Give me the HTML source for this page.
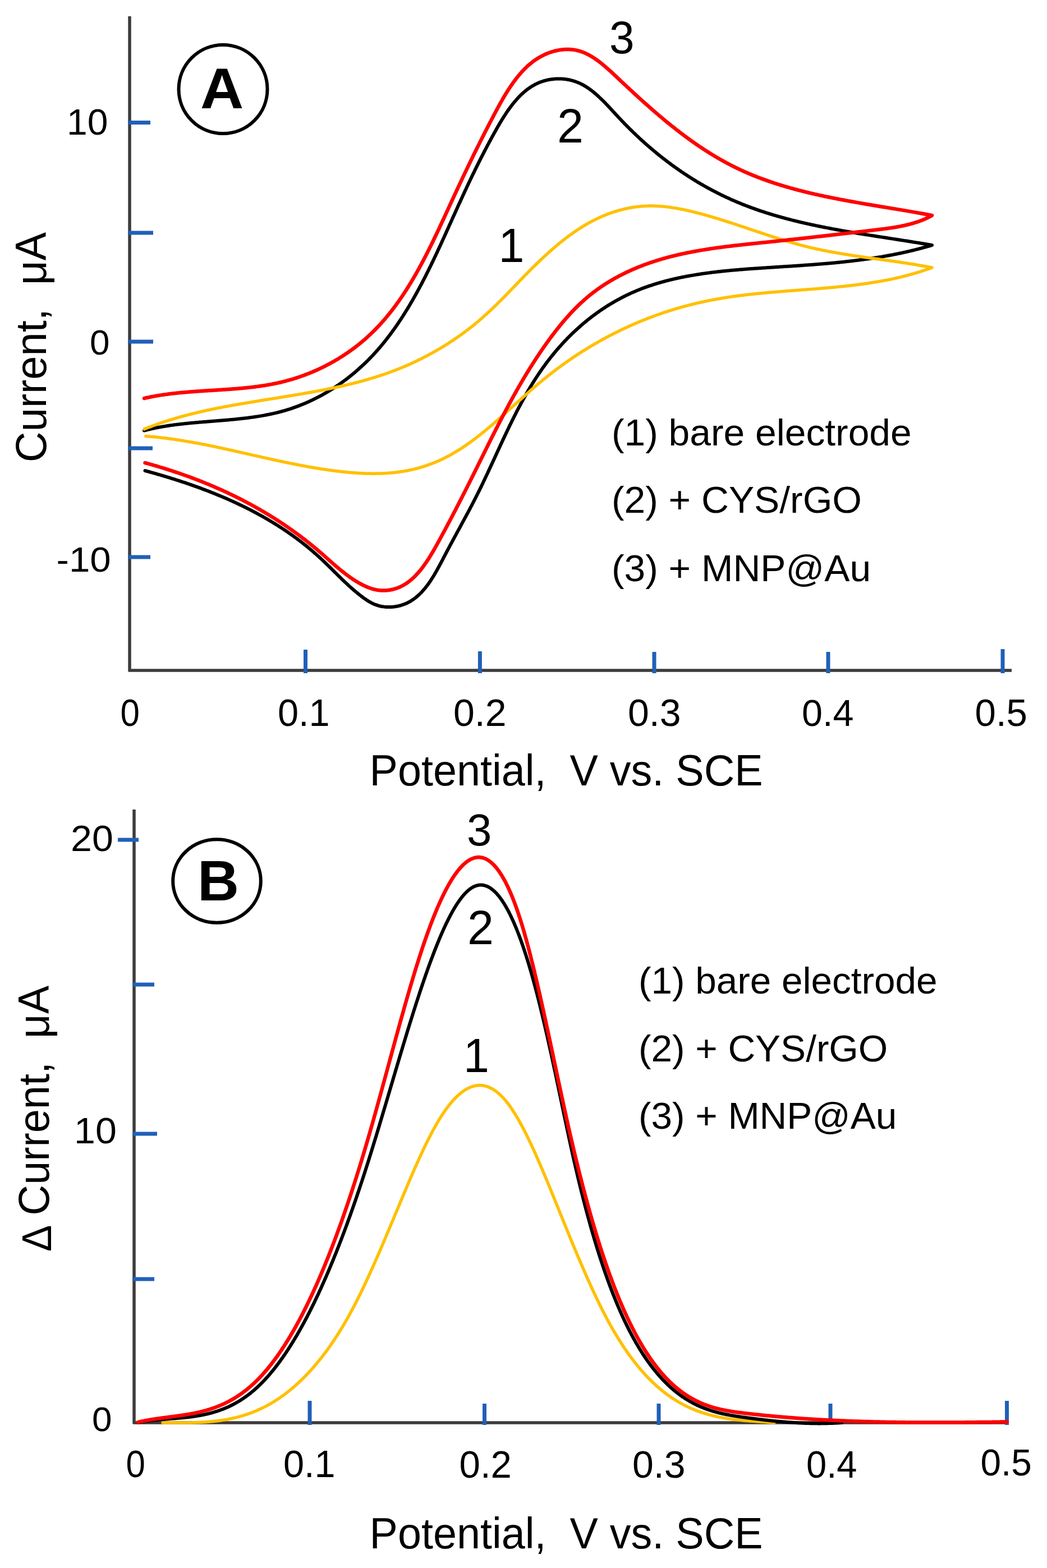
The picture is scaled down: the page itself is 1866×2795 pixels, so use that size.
<!DOCTYPE html>
<html><head><meta charset="utf-8"><title>CV and DPV</title>
<style>html,body{margin:0;padding:0;background:#fff;}svg{display:block;}</style>
</head><body>
<svg width="1866" height="2795" viewBox="0 0 1866 2795">
<rect width="1866" height="2795" fill="#fff"/>
<g stroke="#3c3c3c" stroke-width="5.5" fill="none" stroke-linecap="butt">
<path d="M231,29L231,1197M229,1195L1803,1195"/>
</g>
<g stroke="#2060b8" stroke-width="7" fill="none">
<path d="M228,218.5L268,218.5"/>
<path d="M228,415L273,415"/>
<path d="M228,609L273,609"/>
<path d="M228,799L272,799"/>
<path d="M228,993L268,993"/>
<path d="M544.5,1158L544.5,1200"/>
<path d="M855.4,1161L855.4,1200"/>
<path d="M1166,1162L1166,1200"/>
<path d="M1476,1162L1476,1200"/>
<path d="M1787,1157L1787,1200"/>
</g>
<g stroke="#3c3c3c" stroke-width="5.5" fill="none">
<path d="M239,1443L239,2538M237,2536L1798,2536"/>
</g>
<g stroke="#2060b8" stroke-width="7" fill="none">
<path d="M210,1497L247,1497"/>
<path d="M236,1755L275,1755"/>
<path d="M236,2021L280,2021"/>
<path d="M236,2280L275,2280"/>
<path d="M552,2497L552,2540"/>
<path d="M863.5,2502L863.5,2540"/>
<path d="M1174,2502L1174,2540"/>
<path d="M1480,2502L1480,2540"/>
<path d="M1794.5,2497L1794.5,2540"/>
</g>
<g fill="none" stroke-linejoin="round" stroke-linecap="round">
<path d="M257.0,767.5L258.4,767.1L259.8,766.8L261.3,766.4L262.7,766.1L264.1,765.7L265.5,765.4L267.0,765.0L268.4,764.7L269.8,764.4L271.3,764.1L272.7,763.8L274.1,763.5L275.6,763.1L277.0,762.9L278.5,762.6L279.9,762.3L281.4,762.0L282.8,761.7L284.3,761.4L285.7,761.2L287.2,760.9L288.6,760.7L290.1,760.4L291.6,760.2L293.0,759.9L294.5,759.7L296.0,759.4L297.4,759.2L298.9,759.0L300.4,758.8L301.9,758.5L303.3,758.3L304.8,758.1L306.3,757.9L307.8,757.7L309.3,757.5L310.7,757.3L312.2,757.1L313.7,756.9L315.2,756.7L316.7,756.6L318.2,756.4L319.7,756.2L321.2,756.0L322.7,755.9L324.2,755.7L325.7,755.5L327.2,755.4L328.7,755.2L330.2,755.0L331.7,754.9L333.2,754.7L334.7,754.6L336.2,754.4L337.7,754.3L339.2,754.1L340.7,754.0L342.2,753.8L343.7,753.7L345.3,753.6L346.8,753.4L348.3,753.3L349.8,753.2L351.3,753.0L352.8,752.9L354.3,752.8L355.9,752.6L357.4,752.5L358.9,752.4L360.4,752.3L361.9,752.1L363.5,752.0L365.0,751.9L366.5,751.8L368.0,751.7L369.5,751.5L371.1,751.4L372.6,751.3L374.1,751.2L375.6,751.0L377.2,750.9L378.7,750.8L380.2,750.7L381.7,750.6L383.2,750.4L384.8,750.3L386.3,750.2L387.8,750.1L389.3,750.0L390.9,749.8L392.4,749.7L393.9,749.6L395.4,749.5L397.0,749.3L398.5,749.2L400.0,749.1L401.5,748.9L403.1,748.8L404.6,748.7L406.1,748.5L407.6,748.4L409.1,748.3L410.7,748.1L412.2,748.0L413.7,747.9L415.2,747.7L416.7,747.6L418.3,747.4L419.8,747.3L421.3,747.1L422.8,747.0L424.3,746.8L425.8,746.6L427.4,746.5L428.9,746.3L430.4,746.1L431.9,746.0L433.4,745.8L434.9,745.6L436.4,745.5L437.9,745.3L439.4,745.1L441.0,744.9L442.5,744.7L444.0,744.5L445.5,744.3L447.0,744.1L448.5,743.9L450.0,743.7L451.5,743.5L453.0,743.3L454.5,743.1L456.0,742.8L457.5,742.6L458.9,742.4L460.4,742.1L461.9,741.9L463.4,741.6L464.9,741.4L466.4,741.1L467.9,740.9L469.4,740.6L470.8,740.4L472.3,740.1L473.8,739.8L475.3,739.5L476.7,739.2L478.2,738.9L479.7,738.6L481.2,738.3L482.6,738.0L484.1,737.7L485.6,737.4L487.0,737.1L488.5,736.7L489.9,736.4L491.4,736.1L492.9,735.7L494.3,735.4L495.8,735.0L497.2,734.6L498.7,734.2L500.1,733.9L501.5,733.5L503.0,733.1L504.4,732.7L505.9,732.3L507.3,731.9L508.7,731.5L510.1,731.0L511.6,730.6L513.0,730.2L514.4,729.7L515.8,729.3L517.3,728.8L518.7,728.3L520.1,727.9L521.5,727.4L522.9,726.9L524.3,726.4L525.7,725.9L527.1,725.4L528.5,724.9L529.9,724.4L531.3,723.9L532.7,723.3L534.1,722.8L535.4,722.2L536.8,721.7L538.2,721.1L539.6,720.6L541.0,720.0L542.3,719.4L543.7,718.9L545.1,718.3L546.4,717.7L547.8,717.1L549.1,716.5L550.5,715.9L551.9,715.2L553.2,714.6L554.6,714.0L555.9,713.4L557.2,712.7L558.6,712.1L559.9,711.4L561.2,710.8L562.6,710.1L563.9,709.4L565.2,708.7L566.5,708.1L567.9,707.4L569.2,706.7L570.5,706.0L571.8,705.3L573.1,704.6L574.4,703.9L575.7,703.1L577.0,702.4L578.3,701.7L579.6,700.9L580.9,700.2L582.2,699.4L583.4,698.7L584.7,697.9L586.0,697.2L587.3,696.4L588.5,695.6L589.8,694.8L591.1,694.0L592.3,693.2L593.6,692.4L594.8,691.6L596.1,690.8L597.3,690.0L598.6,689.2L599.8,688.4L601.0,687.5L602.3,686.7L603.5,685.9L604.7,685.0L605.9,684.2L607.2,683.3L608.4,682.4L609.6,681.6L610.8,680.7L612.0,679.8L613.2,678.9L614.4,678.1L615.6,677.2L616.8,676.3L618.0,675.4L619.1,674.5L620.3,673.6L621.5,672.6L622.7,671.7L623.8,670.8L625.0,669.9L626.2,668.9L627.3,668.0L628.5,667.0L629.6,666.1L630.8,665.1L631.9,664.2L633.0,663.2L634.2,662.2L635.3,661.3L636.4,660.3L637.6,659.3L638.7,658.3L639.8,657.3L640.9,656.3L642.0,655.3L643.1,654.3L644.2,653.3L645.3,652.3L646.4,651.3L647.5,650.3L648.6,649.3L649.7,648.2L650.7,647.2L651.8,646.2L652.9,645.1L653.9,644.1L655.0,643.0L656.0,642.0L657.1,640.9L658.1,639.8L659.2,638.8L660.2,637.7L661.3,636.6L662.3,635.5L663.3,634.5L664.3,633.4L665.4,632.3L666.4,631.2L667.4,630.1L668.4,629.0L669.4,627.9L670.4,626.8L671.4,625.7L672.4,624.5L673.4,623.4L674.3,622.3L675.3,621.2L676.3,620.0L677.3,618.9L678.2,617.8L679.2,616.6L680.2,615.5L681.1,614.3L682.1,613.2L683.0,612.0L684.0,610.8L684.9,609.7L685.8,608.5L686.8,607.3L687.7,606.2L688.6,605.0L689.6,603.8L690.5,602.6L691.4,601.4L692.3,600.2L693.2,599.1L694.1,597.9L695.0,596.7L695.9,595.5L696.8,594.2L697.7,593.0L698.6,591.8L699.5,590.6L700.4,589.4L701.2,588.2L702.1,587.0L703.0,585.7L703.9,584.5L704.7,583.3L705.6,582.0L706.5,580.8L707.3,579.6L708.2,578.3L709.0,577.1L709.9,575.8L710.7,574.6L711.5,573.3L712.4,572.1L713.2,570.8L714.1,569.5L714.9,568.3L715.7,567.0L716.5,565.7L717.4,564.5L718.2,563.2L719.0,561.9L719.8,560.7L720.6,559.4L721.4,558.1L722.2,556.8L723.0,555.5L723.8,554.2L724.6,552.9L725.4,551.7L726.2,550.4L727.0,549.1L727.8,547.8L728.5,546.5L729.3,545.2L730.1,543.9L730.9,542.5L731.6,541.2L732.4,539.9L733.2,538.6L733.9,537.3L734.7,536.0L735.5,534.7L736.2,533.4L737.0,532.0L737.7,530.7L738.5,529.4L739.2,528.1L740.0,526.7L740.7,525.4L741.5,524.1L742.2,522.7L742.9,521.4L743.7,520.1L744.4,518.7L745.1,517.4L745.8,516.1L746.6,514.7L747.3,513.4L748.0,512.0L748.7,510.7L749.4,509.3L750.2,508.0L750.9,506.7L751.6,505.3L752.3,504.0L753.0,502.6L753.7,501.2L754.4,499.9L755.1,498.5L755.8,497.2L756.5,495.8L757.2,494.5L757.9,493.1L758.6,491.8L759.3,490.4L759.9,489.0L760.6,487.7L761.3,486.3L762.0,484.9L762.7,483.6L763.4,482.2L764.0,480.9L764.7,479.5L765.4,478.1L766.0,476.8L766.7,475.4L767.4,474.0L768.1,472.6L768.7,471.3L769.4,469.9L770.0,468.5L770.7,467.2L771.4,465.8L772.0,464.4L772.7,463.1L773.3,461.7L774.0,460.3L774.6,458.9L775.3,457.6L775.9,456.2L776.6,454.8L777.2,453.4L777.9,452.1L778.5,450.7L779.2,449.3L779.8,448.0L780.4,446.6L781.1,445.2L781.7,443.8L782.4,442.5L783.0,441.1L783.6,439.7L784.3,438.3L784.9,437.0L785.5,435.6L786.2,434.2L786.8,432.9L787.4,431.5L788.0,430.1L788.7,428.7L789.3,427.4L789.9,426.0L790.5,424.6L791.2,423.3L791.8,421.9L792.4,420.5L793.0,419.2L793.7,417.8L794.3,416.4L794.9,415.1L795.5,413.7L796.1,412.3L796.7,411.0L797.4,409.6L798.0,408.2L798.6,406.9L799.2,405.5L799.8,404.2L800.4,402.8L801.0,401.4L801.6,400.1L802.3,398.7L802.9,397.4L803.5,396.0L804.1,394.7L804.7,393.3L805.3,392.0L805.9,390.6L806.5,389.3L807.1,387.9L807.7,386.6L808.3,385.2L808.9,383.9L809.6,382.5L810.2,381.2L810.8,379.9L811.4,378.5L812.0,377.2L812.6,375.8L813.2,374.5L813.8,373.2L814.4,371.8L815.0,370.5L815.6,369.2L816.2,367.8L816.8,366.5L817.4,365.2L818.0,363.8L818.6,362.5L819.3,361.2L819.9,359.8L820.5,358.5L821.1,357.2L821.7,355.9L822.3,354.5L822.9,353.2L823.5,351.9L824.1,350.5L824.7,349.2L825.3,347.9L826.0,346.6L826.6,345.2L827.2,343.9L827.8,342.6L828.4,341.3L829.0,339.9L829.6,338.6L830.3,337.3L830.9,336.0L831.5,334.6L832.1,333.3L832.7,332.0L833.4,330.7L834.0,329.3L834.6,328.0L835.2,326.7L835.9,325.4L836.5,324.1L837.1,322.7L837.7,321.4L838.4,320.1L839.0,318.8L839.6,317.4L840.3,316.1L840.9,314.8L841.5,313.5L842.2,312.1L842.8,310.8L843.5,309.5L844.1,308.2L844.8,306.8L845.4,305.5L846.1,304.2L846.7,302.8L847.4,301.5L848.0,300.2L848.7,298.9L849.3,297.5L850.0,296.2L850.6,294.9L851.3,293.5L852.0,292.2L852.6,290.9L853.3,289.5L854.0,288.2L854.6,286.9L855.3,285.5L856.0,284.2L856.7,282.9L857.3,281.5L858.0,280.2L858.7,278.8L859.4,277.5L860.1,276.2L860.8,274.8L861.5,273.5L862.2,272.1L862.8,270.8L863.5,269.4L864.3,268.1L865.0,266.7L865.7,265.4L866.4,264.0L867.1,262.7L867.8,261.3L868.5,260.0L869.2,258.6L870.0,257.2L870.7,255.9L871.4,254.5L872.1,253.2L872.9,251.8L873.6,250.4L874.4,249.1L875.1,247.7L875.8,246.3L876.6,245.0L877.3,243.6L878.1,242.2L878.8,240.8L879.6,239.5L880.4,238.1L881.1,236.7L881.9,235.3L882.7,233.9L883.5,232.5L884.2,231.2L885.0,229.8L885.8,228.4L886.6,227.0L887.4,225.6L888.2,224.2L889.0,222.9L889.8,221.5L890.6,220.1L891.4,218.7L892.2,217.4L893.1,216.0L893.9,214.6L894.7,213.3L895.6,211.9L896.4,210.6L897.3,209.2L898.1,207.9L899.0,206.5L899.8,205.2L900.7,203.9L901.6,202.5L902.5,201.2L903.3,199.9L904.2,198.6L905.1,197.3L906.0,196.0L906.9,194.7L907.9,193.4L908.8,192.2L909.7,190.9L910.6,189.7L911.6,188.4L912.5,187.2L913.5,186.0L914.4,184.8L915.4,183.6L916.4,182.4L917.4,181.2L918.4,180.0L919.4,178.9L920.4,177.7L921.4,176.6L922.4,175.5L923.4,174.4L924.4,173.3L925.5,172.2L926.5,171.1L927.6,170.0L928.7,169.0L929.7,168.0L930.8,167.0L931.9,166.0L933.0,165.0L934.1,164.0L935.2,163.1L936.4,162.1L937.5,161.2L938.6,160.3L939.8,159.4L940.9,158.6L942.1,157.7L943.3,156.9L944.5,156.1L945.7,155.3L946.9,154.5L948.1,153.7L949.3,153.0L950.6,152.3L951.8,151.6L953.1,150.9L954.3,150.2L955.6,149.6L956.9,149.0L958.2,148.4L959.5,147.8L960.8,147.3L962.1,146.7L963.5,146.2L964.8,145.7L966.2,145.3L967.5,144.8L968.9,144.4L970.3,144.0L971.6,143.6L973.0,143.3L974.4,142.9L975.8,142.6L977.2,142.3L978.6,142.0L980.0,141.8L981.4,141.6L982.8,141.3L984.3,141.2L985.7,141.0L987.1,140.9L988.5,140.7L990.0,140.6L991.4,140.5L992.8,140.5L994.2,140.5L995.7,140.4L997.1,140.5L998.5,140.5L1000.0,140.5L1001.4,140.6L1002.8,140.7L1004.2,140.8L1005.7,141.0L1007.1,141.1L1008.5,141.3L1009.9,141.5L1011.3,141.7L1012.7,142.0L1014.1,142.3L1015.5,142.5L1016.9,142.9L1018.3,143.2L1019.6,143.6L1021.0,143.9L1022.3,144.3L1023.7,144.8L1025.0,145.2L1026.4,145.7L1027.7,146.2L1029.0,146.7L1030.3,147.2L1031.6,147.8L1032.9,148.3L1034.2,148.9L1035.5,149.6L1036.7,150.2L1038.0,150.8L1039.3,151.5L1040.5,152.2L1041.7,152.9L1043.0,153.7L1044.2,154.4L1045.4,155.2L1046.6,156.0L1047.8,156.8L1049.0,157.6L1050.2,158.4L1051.4,159.3L1052.5,160.1L1053.7,161.0L1054.9,161.9L1056.0,162.8L1057.2,163.7L1058.3,164.6L1059.5,165.6L1060.6,166.5L1061.7,167.5L1062.9,168.5L1064.0,169.5L1065.1,170.5L1066.2,171.5L1067.3,172.5L1068.4,173.6L1069.5,174.6L1070.6,175.7L1071.7,176.7L1072.8,177.8L1073.9,178.9L1075.0,179.9L1076.1,181.0L1077.2,182.1L1078.2,183.2L1079.3,184.3L1080.4,185.5L1081.5,186.6L1082.5,187.7L1083.6,188.8L1084.7,190.0L1085.7,191.1L1086.8,192.2L1087.9,193.4L1088.9,194.5L1090.0,195.7L1091.0,196.8L1092.1,198.0L1093.2,199.1L1094.2,200.3L1095.3,201.4L1096.4,202.6L1097.4,203.8L1098.5,204.9L1099.5,206.1L1100.6,207.2L1101.7,208.4L1102.7,209.5L1103.8,210.6L1104.9,211.8L1106.0,212.9L1107.0,214.0L1108.1,215.2L1109.2,216.3L1110.3,217.4L1111.4,218.5L1112.4,219.7L1113.5,220.8L1114.6,221.9L1115.7,223.0L1116.8,224.1L1117.9,225.2L1119.0,226.3L1120.1,227.4L1121.2,228.5L1122.3,229.6L1123.3,230.7L1124.5,231.8L1125.6,232.8L1126.7,233.9L1127.8,235.0L1128.9,236.1L1130.0,237.1L1131.1,238.2L1132.2,239.3L1133.3,240.3L1134.4,241.4L1135.5,242.4L1136.7,243.5L1137.8,244.5L1138.9,245.6L1140.0,246.6L1141.2,247.7L1142.3,248.7L1143.4,249.7L1144.5,250.8L1145.7,251.8L1146.8,252.8L1147.9,253.8L1149.1,254.8L1150.2,255.9L1151.4,256.9L1152.5,257.9L1153.6,258.9L1154.8,259.9L1155.9,260.9L1157.1,261.9L1158.2,262.9L1159.4,263.9L1160.5,264.8L1161.7,265.8L1162.9,266.8L1164.0,267.8L1165.2,268.8L1166.3,269.7L1167.5,270.7L1168.7,271.6L1169.8,272.6L1171.0,273.6L1172.2,274.5L1173.3,275.5L1174.5,276.4L1175.7,277.4L1176.9,278.3L1178.0,279.2L1179.2,280.2L1180.4,281.1L1181.6,282.0L1182.8,283.0L1184.0,283.9L1185.2,284.8L1186.3,285.7L1187.5,286.6L1188.7,287.5L1189.9,288.4L1191.1,289.3L1192.3,290.2L1193.5,291.1L1194.7,292.0L1195.9,292.9L1197.1,293.8L1198.3,294.7L1199.5,295.6L1200.8,296.4L1202.0,297.3L1203.2,298.2L1204.4,299.0L1205.6,299.9L1206.8,300.8L1208.1,301.6L1209.3,302.5L1210.5,303.3L1211.7,304.2L1213.0,305.0L1214.2,305.9L1215.4,306.7L1216.7,307.5L1217.9,308.4L1219.1,309.2L1220.4,310.0L1221.6,310.8L1222.8,311.6L1224.1,312.5L1225.3,313.3L1226.6,314.1L1227.8,314.9L1229.1,315.7L1230.3,316.5L1231.6,317.3L1232.8,318.1L1234.1,318.8L1235.4,319.6L1236.6,320.4L1237.9,321.2L1239.1,322.0L1240.4,322.7L1241.7,323.5L1242.9,324.3L1244.2,325.0L1245.5,325.8L1246.8,326.5L1248.0,327.3L1249.3,328.0L1250.6,328.8L1251.9,329.5L1253.2,330.2L1254.5,331.0L1255.7,331.7L1257.0,332.4L1258.3,333.1L1259.6,333.9L1260.9,334.6L1262.2,335.3L1263.5,336.0L1264.8,336.7L1266.1,337.4L1267.4,338.1L1268.7,338.8L1270.0,339.5L1271.3,340.2L1272.6,340.9L1273.9,341.5L1275.3,342.2L1276.6,342.9L1277.9,343.6L1279.2,344.2L1280.5,344.9L1281.8,345.6L1283.2,346.2L1284.5,346.9L1285.8,347.5L1287.2,348.2L1288.5,348.8L1289.8,349.5L1291.2,350.1L1292.5,350.7L1293.8,351.4L1295.2,352.0L1296.5,352.6L1297.9,353.2L1299.2,353.8L1300.5,354.4L1301.9,355.1L1303.2,355.7L1304.6,356.3L1306.0,356.9L1307.3,357.4L1308.7,358.0L1310.0,358.6L1311.4,359.2L1312.7,359.8L1314.1,360.4L1315.5,360.9L1316.9,361.5L1318.2,362.1L1319.6,362.6L1321.0,363.2L1322.3,363.8L1323.7,364.3L1325.1,364.8L1326.5,365.4L1327.9,365.9L1329.2,366.5L1330.6,367.0L1332.0,367.5L1333.4,368.1L1334.8,368.6L1336.2,369.1L1337.6,369.6L1339.0,370.1L1340.4,370.7L1341.8,371.2L1343.2,371.7L1344.6,372.2L1346.0,372.7L1347.4,373.2L1348.8,373.7L1350.2,374.1L1351.6,374.6L1353.0,375.1L1354.5,375.6L1355.9,376.1L1357.3,376.5L1358.7,377.0L1360.1,377.5L1361.5,377.9L1363.0,378.4L1364.4,378.9L1365.8,379.3L1367.2,379.8L1368.7,380.2L1370.1,380.7L1371.5,381.1L1373.0,381.5L1374.4,382.0L1375.8,382.4L1377.3,382.8L1378.7,383.3L1380.1,383.7L1381.6,384.1L1383.0,384.5L1384.5,385.0L1385.9,385.4L1387.3,385.8L1388.8,386.2L1390.2,386.6L1391.7,387.0L1393.1,387.4L1394.6,387.8L1396.0,388.2L1397.5,388.6L1398.9,389.0L1400.4,389.4L1401.8,389.8L1403.3,390.2L1404.8,390.5L1406.2,390.9L1407.7,391.3L1409.1,391.7L1410.6,392.1L1412.1,392.4L1413.5,392.8L1415.0,393.2L1416.5,393.5L1417.9,393.9L1419.4,394.2L1420.9,394.6L1422.3,395.0L1423.8,395.3L1425.3,395.7L1426.7,396.0L1428.2,396.4L1429.7,396.7L1431.2,397.0L1432.6,397.4L1434.1,397.7L1435.6,398.1L1437.1,398.4L1438.5,398.7L1440.0,399.1L1441.5,399.4L1443.0,399.7L1444.5,400.0L1445.9,400.4L1447.4,400.7L1448.9,401.0L1450.4,401.3L1451.9,401.6L1453.3,401.9L1454.8,402.3L1456.3,402.6L1457.8,402.9L1459.3,403.2L1460.8,403.5L1462.3,403.8L1463.8,404.1L1465.2,404.4L1466.7,404.7L1468.2,405.0L1469.7,405.3L1471.2,405.6L1472.7,405.9L1474.2,406.1L1475.7,406.4L1477.2,406.7L1478.7,407.0L1480.2,407.3L1481.6,407.6L1483.1,407.9L1484.6,408.1L1486.1,408.4L1487.6,408.7L1489.1,409.0L1490.6,409.2L1492.1,409.5L1493.6,409.8L1495.1,410.1L1496.6,410.3L1498.1,410.6L1499.6,410.9L1501.1,411.1L1502.6,411.4L1504.1,411.7L1505.6,411.9L1507.1,412.2L1508.6,412.4L1510.1,412.7L1511.6,413.0L1513.1,413.2L1514.6,413.5L1516.1,413.7L1517.6,414.0L1519.1,414.2L1520.5,414.5L1522.0,414.7L1523.5,415.0L1525.0,415.2L1526.5,415.5L1528.0,415.7L1529.5,416.0L1531.0,416.2L1532.5,416.5L1534.0,416.7L1535.5,417.0L1537.0,417.2L1538.5,417.4L1540.0,417.7L1541.5,417.9L1543.0,418.2L1544.5,418.4L1546.0,418.6L1547.5,418.9L1549.0,419.1L1550.5,419.4L1552.0,419.6L1553.5,419.8L1555.0,420.1L1556.5,420.3L1558.0,420.5L1559.5,420.8L1560.9,421.0L1562.4,421.2L1563.9,421.5L1565.4,421.7L1566.9,421.9L1568.4,422.2L1569.9,422.4L1571.4,422.6L1572.9,422.9L1574.4,423.1L1575.9,423.3L1577.3,423.6L1578.8,423.8L1580.3,424.0L1581.8,424.3L1583.3,424.5L1584.8,424.7L1586.3,424.9L1587.8,425.2L1589.2,425.4L1590.7,425.6L1592.2,425.9L1593.7,426.1L1595.2,426.3L1596.7,426.6L1598.1,426.8L1599.6,427.0L1601.1,427.2L1602.6,427.5L1604.0,427.7L1605.5,427.9L1607.0,428.2L1608.5,428.4L1610.0,428.6L1611.4,428.9L1612.9,429.1L1614.4,429.3L1615.8,429.5L1617.3,429.8L1618.8,430.0L1620.3,430.2L1621.7,430.5L1623.2,430.7L1624.7,430.9L1626.1,431.2L1627.6,431.4L1629.0,431.7L1630.5,431.9L1632.0,432.1L1633.4,432.4L1634.9,432.6L1636.4,432.8L1637.8,433.1L1639.3,433.3L1640.7,433.6L1642.2,433.8L1643.6,434.0L1645.1,434.3L1646.5,434.5L1648.0,434.8L1649.4,435.0L1650.9,435.2L1652.3,435.5L1653.8,435.7L1655.2,436.0L1656.7,436.2L1658.1,436.5L1659.5,436.7L1661.0,437.0L1659.6,437.5L1658.1,437.9L1656.6,438.3L1655.2,438.8L1653.7,439.2L1652.2,439.6L1650.7,440.0L1649.3,440.4L1647.8,440.8L1646.3,441.2L1644.9,441.6L1643.4,442.0L1641.9,442.4L1640.5,442.8L1639.0,443.2L1637.5,443.6L1636.1,444.0L1634.6,444.3L1633.1,444.7L1631.7,445.1L1630.2,445.4L1628.7,445.8L1627.3,446.2L1625.8,446.5L1624.3,446.9L1622.9,447.2L1621.4,447.6L1619.9,447.9L1618.5,448.3L1617.0,448.6L1615.5,448.9L1614.1,449.3L1612.6,449.6L1611.1,449.9L1609.7,450.2L1608.2,450.6L1606.8,450.9L1605.3,451.2L1603.8,451.5L1602.4,451.8L1600.9,452.1L1599.4,452.4L1598.0,452.7L1596.5,453.0L1595.0,453.3L1593.6,453.6L1592.1,453.9L1590.6,454.2L1589.2,454.4L1587.7,454.7L1586.2,455.0L1584.8,455.3L1583.3,455.5L1581.8,455.8L1580.4,456.1L1578.9,456.3L1577.4,456.6L1576.0,456.8L1574.5,457.1L1573.0,457.4L1571.6,457.6L1570.1,457.9L1568.6,458.1L1567.2,458.3L1565.7,458.6L1564.2,458.8L1562.8,459.1L1561.3,459.3L1559.8,459.5L1558.4,459.8L1556.9,460.0L1555.4,460.2L1554.0,460.4L1552.5,460.6L1551.0,460.9L1549.6,461.1L1548.1,461.3L1546.6,461.5L1545.2,461.7L1543.7,461.9L1542.2,462.1L1540.8,462.3L1539.3,462.5L1537.8,462.7L1536.4,462.9L1534.9,463.1L1533.4,463.3L1532.0,463.5L1530.5,463.7L1529.0,463.9L1527.5,464.1L1526.1,464.2L1524.6,464.4L1523.1,464.6L1521.7,464.8L1520.2,465.0L1518.7,465.1L1517.2,465.3L1515.8,465.5L1514.3,465.6L1512.8,465.8L1511.4,466.0L1509.9,466.1L1508.4,466.3L1506.9,466.5L1505.5,466.6L1504.0,466.8L1502.5,466.9L1501.0,467.1L1499.6,467.2L1498.1,467.4L1496.6,467.5L1495.1,467.7L1493.7,467.8L1492.2,468.0L1490.7,468.1L1489.2,468.3L1487.8,468.4L1486.3,468.5L1484.8,468.7L1483.3,468.8L1481.8,469.0L1480.4,469.1L1478.9,469.2L1477.4,469.4L1475.9,469.5L1474.4,469.6L1473.0,469.7L1471.5,469.9L1470.0,470.0L1468.5,470.1L1467.0,470.2L1465.5,470.4L1464.1,470.5L1462.6,470.6L1461.1,470.7L1459.6,470.8L1458.1,471.0L1456.6,471.1L1455.2,471.2L1453.7,471.3L1452.2,471.4L1450.7,471.5L1449.2,471.7L1447.7,471.8L1446.2,471.9L1444.7,472.0L1443.3,472.1L1441.8,472.2L1440.3,472.3L1438.8,472.4L1437.3,472.5L1435.8,472.6L1434.3,472.7L1432.8,472.8L1431.3,473.0L1429.8,473.1L1428.3,473.2L1426.8,473.3L1425.3,473.4L1423.9,473.5L1422.4,473.6L1420.9,473.7L1419.4,473.8L1417.9,473.9L1416.4,474.0L1414.9,474.1L1413.4,474.2L1411.9,474.3L1410.4,474.4L1408.9,474.5L1407.4,474.6L1405.9,474.7L1404.4,474.8L1402.9,474.8L1401.4,474.9L1399.9,475.0L1398.3,475.1L1396.8,475.2L1395.3,475.3L1393.8,475.4L1392.3,475.5L1390.8,475.6L1389.3,475.7L1387.8,475.8L1386.3,475.9L1384.8,476.0L1383.3,476.1L1381.8,476.2L1380.2,476.3L1378.7,476.4L1377.2,476.5L1375.7,476.6L1374.2,476.7L1372.7,476.8L1371.2,476.9L1369.6,477.0L1368.1,477.1L1366.6,477.2L1365.1,477.3L1363.6,477.4L1362.0,477.5L1360.5,477.6L1359.0,477.7L1357.5,477.8L1356.0,477.9L1354.4,478.0L1352.9,478.1L1351.4,478.2L1349.9,478.3L1348.3,478.4L1346.8,478.5L1345.3,478.6L1343.8,478.7L1342.2,478.8L1340.7,478.9L1339.2,479.0L1337.7,479.1L1336.1,479.2L1334.6,479.3L1333.1,479.5L1331.5,479.6L1330.0,479.7L1328.5,479.8L1327.0,479.9L1325.4,480.0L1323.9,480.2L1322.4,480.3L1320.9,480.4L1319.3,480.5L1317.8,480.6L1316.3,480.8L1314.7,480.9L1313.2,481.0L1311.7,481.2L1310.2,481.3L1308.6,481.4L1307.1,481.6L1305.6,481.7L1304.1,481.8L1302.5,482.0L1301.0,482.1L1299.5,482.3L1297.9,482.4L1296.4,482.6L1294.9,482.7L1293.4,482.9L1291.8,483.0L1290.3,483.2L1288.8,483.3L1287.3,483.5L1285.8,483.7L1284.2,483.8L1282.7,484.0L1281.2,484.2L1279.7,484.3L1278.1,484.5L1276.6,484.7L1275.1,484.9L1273.6,485.0L1272.1,485.2L1270.6,485.4L1269.0,485.6L1267.5,485.8L1266.0,486.0L1264.5,486.2L1263.0,486.4L1261.5,486.6L1259.9,486.8L1258.4,487.0L1256.9,487.2L1255.4,487.4L1253.9,487.6L1252.4,487.8L1250.9,488.0L1249.4,488.3L1247.9,488.5L1246.4,488.7L1244.9,489.0L1243.4,489.2L1241.9,489.4L1240.4,489.7L1238.9,489.9L1237.4,490.2L1235.9,490.4L1234.4,490.7L1232.9,490.9L1231.4,491.2L1229.9,491.4L1228.4,491.7L1226.9,492.0L1225.4,492.3L1223.9,492.5L1222.5,492.8L1221.0,493.1L1219.5,493.4L1218.0,493.7L1216.5,494.0L1215.0,494.3L1213.6,494.6L1212.1,494.9L1210.6,495.2L1209.1,495.5L1207.7,495.8L1206.2,496.2L1204.7,496.5L1203.3,496.8L1201.8,497.1L1200.3,497.5L1198.9,497.8L1197.4,498.2L1196.0,498.5L1194.5,498.9L1193.0,499.2L1191.6,499.6L1190.1,500.0L1188.7,500.3L1187.2,500.7L1185.8,501.1L1184.3,501.5L1182.9,501.9L1181.5,502.3L1180.0,502.7L1178.6,503.1L1177.2,503.5L1175.7,503.9L1174.3,504.3L1172.9,504.7L1171.4,505.2L1170.0,505.6L1168.6,506.0L1167.2,506.5L1165.7,506.9L1164.3,507.4L1162.9,507.8L1161.5,508.3L1160.1,508.8L1158.7,509.2L1157.3,509.7L1155.9,510.2L1154.5,510.7L1153.1,511.2L1151.7,511.7L1150.3,512.2L1148.9,512.7L1147.5,513.2L1146.1,513.7L1144.7,514.2L1143.3,514.7L1141.9,515.3L1140.6,515.8L1139.2,516.4L1137.8,516.9L1136.5,517.5L1135.1,518.0L1133.7,518.6L1132.4,519.2L1131.0,519.8L1129.6,520.3L1128.3,520.9L1126.9,521.5L1125.6,522.1L1124.2,522.7L1122.9,523.4L1121.5,524.0L1120.2,524.6L1118.9,525.2L1117.5,525.9L1116.2,526.5L1114.9,527.2L1113.6,527.8L1112.2,528.5L1110.9,529.1L1109.6,529.8L1108.3,530.5L1107.0,531.2L1105.7,531.9L1104.4,532.6L1103.1,533.3L1101.8,534.0L1100.5,534.7L1099.2,535.4L1097.9,536.1L1096.6,536.8L1095.3,537.6L1094.0,538.3L1092.7,539.1L1091.5,539.8L1090.2,540.6L1088.9,541.3L1087.7,542.1L1086.4,542.9L1085.1,543.6L1083.9,544.4L1082.6,545.2L1081.4,546.0L1080.1,546.8L1078.9,547.6L1077.6,548.4L1076.4,549.2L1075.2,550.0L1073.9,550.9L1072.7,551.7L1071.5,552.5L1070.2,553.4L1069.0,554.2L1067.8,555.1L1066.6,555.9L1065.4,556.8L1064.2,557.6L1063.0,558.5L1061.8,559.4L1060.6,560.2L1059.4,561.1L1058.2,562.0L1057.0,562.9L1055.8,563.8L1054.6,564.7L1053.4,565.6L1052.3,566.5L1051.1,567.4L1049.9,568.4L1048.7,569.3L1047.6,570.2L1046.4,571.1L1045.3,572.1L1044.1,573.0L1043.0,574.0L1041.8,574.9L1040.7,575.9L1039.5,576.8L1038.4,577.8L1037.3,578.8L1036.1,579.8L1035.0,580.7L1033.9,581.7L1032.8,582.7L1031.7,583.7L1030.5,584.7L1029.4,585.7L1028.3,586.7L1027.2,587.7L1026.1,588.7L1025.0,589.7L1023.9,590.8L1022.9,591.8L1021.8,592.8L1020.7,593.8L1019.6,594.9L1018.5,595.9L1017.5,597.0L1016.4,598.0L1015.3,599.1L1014.3,600.1L1013.2,601.2L1012.2,602.3L1011.1,603.3L1010.1,604.4L1009.1,605.5L1008.0,606.6L1007.0,607.6L1006.0,608.7L1004.9,609.8L1003.9,610.9L1002.9,612.0L1001.9,613.1L1000.9,614.2L999.9,615.3L998.9,616.5L997.9,617.6L996.9,618.7L995.9,619.8L994.9,621.0L993.9,622.1L992.9,623.2L991.9,624.4L991.0,625.5L990.0,626.6L989.0,627.8L988.1,629.0L987.1,630.1L986.2,631.3L985.2,632.4L984.3,633.6L983.3,634.8L982.4,635.9L981.4,637.1L980.5,638.3L979.6,639.5L978.7,640.7L977.8,641.9L976.8,643.0L975.9,644.2L975.0,645.4L974.1,646.6L973.2,647.8L972.3,649.1L971.4,650.3L970.6,651.5L969.7,652.7L968.8,653.9L967.9,655.1L967.0,656.4L966.2,657.6L965.3,658.8L964.5,660.1L963.6,661.3L962.8,662.5L961.9,663.8L961.1,665.0L960.2,666.3L959.4,667.5L958.6,668.8L957.7,670.0L956.9,671.3L956.1,672.5L955.3,673.8L954.4,675.1L953.6,676.3L952.8,677.6L952.0,678.9L951.2,680.1L950.4,681.4L949.6,682.7L948.8,684.0L948.0,685.3L947.2,686.6L946.5,687.8L945.7,689.1L944.9,690.4L944.1,691.7L943.4,693.0L942.6,694.3L941.8,695.6L941.1,696.9L940.3,698.2L939.5,699.5L938.8,700.8L938.0,702.2L937.3,703.5L936.5,704.8L935.8,706.1L935.1,707.4L934.3,708.7L933.6,710.1L932.8,711.4L932.1,712.7L931.4,714.0L930.7,715.4L929.9,716.7L929.2,718.0L928.5,719.3L927.8,720.7L927.1,722.0L926.4,723.4L925.6,724.7L924.9,726.0L924.2,727.4L923.5,728.7L922.8,730.1L922.1,731.4L921.4,732.7L920.7,734.1L920.0,735.4L919.4,736.8L918.7,738.1L918.0,739.5L917.3,740.9L916.6,742.2L915.9,743.6L915.2,744.9L914.6,746.3L913.9,747.6L913.2,749.0L912.5,750.4L911.9,751.7L911.2,753.1L910.5,754.4L909.9,755.8L909.2,757.2L908.5,758.5L907.9,759.9L907.2,761.3L906.6,762.6L905.9,764.0L905.2,765.4L904.6,766.7L903.9,768.1L903.3,769.5L902.6,770.9L902.0,772.2L901.3,773.6L900.7,775.0L900.0,776.3L899.4,777.7L898.7,779.1L898.1,780.5L897.4,781.8L896.8,783.2L896.1,784.6L895.5,786.0L894.9,787.3L894.2,788.7L893.6,790.1L892.9,791.5L892.3,792.8L891.7,794.2L891.0,795.6L890.4,797.0L889.8,798.3L889.1,799.7L888.5,801.1L887.9,802.5L887.2,803.8L886.6,805.2L886.0,806.6L885.3,808.0L884.7,809.3L884.1,810.7L883.4,812.1L882.8,813.5L882.2,814.8L881.5,816.2L880.9,817.6L880.3,819.0L879.6,820.3L879.0,821.7L878.4,823.1L877.7,824.4L877.1,825.8L876.5,827.2L875.8,828.5L875.2,829.9L874.6,831.3L873.9,832.6L873.3,834.0L872.7,835.4L872.0,836.7L871.4,838.1L870.8,839.5L870.1,840.8L869.5,842.2L868.9,843.5L868.2,844.9L867.6,846.3L867.0,847.6L866.3,849.0L865.7,850.3L865.0,851.7L864.4,853.0L863.8,854.4L863.1,855.7L862.5,857.1L861.8,858.4L861.2,859.8L860.6,861.1L859.9,862.5L859.3,863.8L858.6,865.1L858.0,866.5L857.3,867.8L856.7,869.2L856.0,870.5L855.4,871.8L854.7,873.2L854.1,874.5L853.4,875.8L852.7,877.1L852.1,878.5L851.4,879.8L850.8,881.1L850.1,882.4L849.4,883.8L848.8,885.1L848.1,886.4L847.4,887.7L846.8,889.0L846.1,890.3L845.4,891.6L844.7,892.9L844.1,894.3L843.4,895.6L842.7,896.9L842.0,898.2L841.4,899.5L840.7,900.8L840.0,902.1L839.3,903.4L838.6,904.7L837.9,906.0L837.3,907.3L836.6,908.6L835.9,909.9L835.2,911.2L834.5,912.5L833.8,913.8L833.1,915.1L832.4,916.4L831.7,917.7L831.0,919.0L830.3,920.3L829.6,921.6L828.9,922.9L828.2,924.2L827.5,925.5L826.8,926.8L826.1,928.1L825.4,929.3L824.7,930.6L824.0,931.9L823.3,933.2L822.6,934.5L821.9,935.9L821.2,937.2L820.5,938.5L819.8,939.8L819.1,941.1L818.4,942.4L817.7,943.7L817.0,945.0L816.2,946.3L815.5,947.6L814.8,948.9L814.1,950.2L813.4,951.5L812.7,952.9L812.0,954.2L811.2,955.5L810.5,956.8L809.8,958.1L809.1,959.5L808.4,960.8L807.7,962.1L806.9,963.4L806.2,964.8L805.5,966.1L804.8,967.5L804.1,968.8L803.3,970.1L802.6,971.5L801.9,972.8L801.2,974.2L800.5,975.5L799.7,976.9L799.0,978.2L798.3,979.6L797.6,980.9L796.9,982.3L796.1,983.7L795.4,985.0L794.7,986.4L794.0,987.8L793.2,989.2L792.5,990.5L791.8,991.9L791.1,993.3L790.3,994.7L789.6,996.1L788.9,997.5L788.2,998.9L787.4,1000.3L786.7,1001.6L786.0,1003.0L785.2,1004.4L784.5,1005.8L783.7,1007.2L783.0,1008.6L782.3,1010.0L781.5,1011.4L780.7,1012.7L780.0,1014.1L779.2,1015.5L778.5,1016.9L777.7,1018.2L776.9,1019.6L776.1,1020.9L775.3,1022.3L774.6,1023.6L773.8,1025.0L773.0,1026.3L772.2,1027.6L771.3,1028.9L770.5,1030.2L769.7,1031.5L768.9,1032.8L768.0,1034.1L767.2,1035.4L766.3,1036.7L765.5,1037.9L764.6,1039.2L763.7,1040.4L762.9,1041.6L762.0,1042.8L761.1,1044.0L760.2,1045.2L759.2,1046.4L758.3,1047.6L757.4,1048.7L756.4,1049.9L755.5,1051.0L754.5,1052.1L753.5,1053.2L752.5,1054.3L751.6,1055.4L750.5,1056.4L749.5,1057.5L748.5,1058.5L747.5,1059.5L746.4,1060.5L745.3,1061.4L744.3,1062.4L743.2,1063.3L742.1,1064.3L741.0,1065.1L739.8,1066.0L738.7,1066.9L737.6,1067.7L736.4,1068.5L735.2,1069.3L734.0,1070.1L732.8,1070.9L731.6,1071.6L730.4,1072.3L729.1,1073.0L727.9,1073.7L726.6,1074.3L725.3,1075.0L724.0,1075.6L722.6,1076.1L721.3,1076.7L720.0,1077.2L718.6,1077.7L717.2,1078.2L715.8,1078.6L714.4,1079.1L712.9,1079.5L711.5,1079.8L710.1,1080.2L708.6,1080.5L707.1,1080.8L705.7,1081.0L704.2,1081.3L702.7,1081.5L701.2,1081.7L699.7,1081.8L698.2,1081.9L696.7,1082.0L695.2,1082.1L693.7,1082.1L692.2,1082.1L690.7,1082.1L689.2,1082.0L687.7,1081.9L686.2,1081.8L684.7,1081.6L683.2,1081.4L681.7,1081.2L680.2,1081.0L678.7,1080.7L677.3,1080.4L675.8,1080.0L674.4,1079.6L673.0,1079.2L671.5,1078.7L670.1,1078.2L668.7,1077.7L667.4,1077.2L666.0,1076.6L664.7,1076.0L663.3,1075.3L662.0,1074.6L660.7,1073.9L659.4,1073.2L658.1,1072.5L656.8,1071.7L655.5,1070.9L654.2,1070.1L653.0,1069.2L651.7,1068.4L650.5,1067.5L649.2,1066.7L648.0,1065.8L646.8,1064.9L645.6,1064.0L644.4,1063.1L643.2,1062.1L642.0,1061.2L640.8,1060.3L639.6,1059.3L638.4,1058.4L637.2,1057.4L636.1,1056.5L634.9,1055.5L633.7,1054.5L632.6,1053.6L631.4,1052.6L630.3,1051.6L629.1,1050.6L628.0,1049.6L626.9,1048.6L625.7,1047.6L624.6,1046.6L623.5,1045.6L622.4,1044.6L621.2,1043.5L620.1,1042.5L619.0,1041.5L617.9,1040.4L616.8,1039.4L615.7,1038.4L614.6,1037.3L613.5,1036.3L612.4,1035.2L611.3,1034.2L610.2,1033.1L609.1,1032.1L608.0,1031.0L606.9,1029.9L605.9,1028.9L604.8,1027.8L603.7,1026.8L602.6,1025.7L601.5,1024.6L600.4,1023.6L599.4,1022.5L598.3,1021.4L597.2,1020.4L596.1,1019.3L595.0,1018.2L594.0,1017.2L592.9,1016.1L591.8,1015.0L590.7,1013.9L589.7,1012.9L588.6,1011.8L587.5,1010.8L586.4,1009.7L585.3,1008.6L584.2,1007.6L583.2,1006.5L582.1,1005.5L581.0,1004.4L579.9,1003.3L578.8,1002.3L577.7,1001.3L576.6,1000.2L575.5,999.2L574.4,998.1L573.3,997.1L572.2,996.1L571.1,995.0L570.0,994.0L568.9,993.0L567.8,992.0L566.7,991.0L565.5,990.0L564.4,988.9L563.3,987.9L562.2,986.9L561.0,986.0L559.9,985.0L558.8,984.0L557.6,983.0L556.5,982.0L555.3,981.0L554.2,980.1L553.0,979.1L551.9,978.1L550.7,977.2L549.6,976.2L548.4,975.3L547.3,974.3L546.1,973.4L544.9,972.4L543.8,971.5L542.6,970.6L541.4,969.6L540.2,968.7L539.1,967.8L537.9,966.8L536.7,965.9L535.5,965.0L534.3,964.1L533.1,963.2L531.9,962.3L530.7,961.4L529.5,960.5L528.3,959.6L527.1,958.7L525.9,957.8L524.7,957.0L523.5,956.1L522.3,955.2L521.0,954.3L519.8,953.5L518.6,952.6L517.4,951.7L516.2,950.9L514.9,950.0L513.7,949.2L512.5,948.3L511.2,947.5L510.0,946.6L508.8,945.8L507.5,945.0L506.3,944.1L505.0,943.3L503.8,942.5L502.5,941.7L501.3,940.8L500.0,940.0L498.8,939.2L497.5,938.4L496.2,937.6L495.0,936.8L493.7,936.0L492.4,935.2L491.2,934.4L489.9,933.6L488.6,932.8L487.4,932.1L486.1,931.3L484.8,930.5L483.5,929.7L482.2,929.0L480.9,928.2L479.7,927.4L478.4,926.7L477.1,925.9L475.8,925.2L474.5,924.4L473.2,923.7L471.9,922.9L470.6,922.2L469.3,921.4L468.0,920.7L466.7,920.0L465.4,919.2L464.1,918.5L462.8,917.8L461.4,917.1L460.1,916.3L458.8,915.6L457.5,914.9L456.2,914.2L454.9,913.5L453.5,912.8L452.2,912.1L450.9,911.4L449.5,910.7L448.2,910.0L446.9,909.3L445.6,908.6L444.2,907.9L442.9,907.3L441.5,906.6L440.2,905.9L438.9,905.2L437.5,904.6L436.2,903.9L434.8,903.2L433.5,902.6L432.1,901.9L430.8,901.3L429.4,900.6L428.1,900.0L426.7,899.3L425.4,898.7L424.0,898.0L422.6,897.4L421.3,896.8L419.9,896.1L418.6,895.5L417.2,894.9L415.8,894.2L414.5,893.6L413.1,893.0L411.7,892.4L410.3,891.8L409.0,891.1L407.6,890.5L406.2,889.9L404.9,889.3L403.5,888.7L402.1,888.1L400.7,887.5L399.3,886.9L397.9,886.3L396.6,885.8L395.2,885.2L393.8,884.6L392.4,884.0L391.0,883.4L389.6,882.8L388.2,882.3L386.8,881.7L385.5,881.1L384.1,880.6L382.7,880.0L381.3,879.4L379.9,878.9L378.5,878.3L377.1,877.8L375.7,877.2L374.3,876.7L372.9,876.1L371.5,875.6L370.1,875.0L368.7,874.5L367.2,873.9L365.8,873.4L364.4,872.9L363.0,872.3L361.6,871.8L360.2,871.3L358.8,870.7L357.4,870.2L356.0,869.7L354.5,869.2L353.1,868.7L351.7,868.2L350.3,867.6L348.9,867.1L347.5,866.6L346.0,866.1L344.6,865.6L343.2,865.1L341.8,864.6L340.4,864.1L338.9,863.6L337.5,863.1L336.1,862.6L334.7,862.2L333.2,861.7L331.8,861.2L330.4,860.7L329.0,860.2L327.5,859.7L326.1,859.3L324.7,858.8L323.2,858.3L321.8,857.9L320.4,857.4L318.9,856.9L317.5,856.5L316.1,856.0L314.6,855.5L313.2,855.1L311.8,854.6L310.3,854.2L308.9,853.7L307.5,853.3L306.0,852.8L304.6,852.4L303.2,851.9L301.7,851.5L300.3,851.0L298.9,850.6L297.4,850.2L296.0,849.7L294.5,849.3L293.1,848.9L291.7,848.4L290.2,848.0L288.8,847.6L287.3,847.1L285.9,846.7L284.5,846.3L283.0,845.9L281.6,845.5L280.1,845.1L278.7,844.6L277.3,844.2L275.8,843.8L274.4,843.4L272.9,843.0L271.5,842.6L270.0,842.2L268.6,841.8L267.2,841.4L265.7,841.0L264.3,840.6L262.8,840.2L261.4,839.8L259.9,839.4L258.5,839.0" stroke="#000000" stroke-width="6"/>
<path d="M257.0,765.0L258.4,764.4L259.8,763.8L261.1,763.3L262.5,762.7L263.9,762.2L265.3,761.7L266.7,761.1L268.1,760.6L269.5,760.1L270.9,759.5L272.3,759.0L273.6,758.5L275.0,758.0L276.4,757.5L277.8,757.0L279.2,756.5L280.6,756.0L282.0,755.5L283.5,755.0L284.9,754.5L286.3,754.0L287.7,753.5L289.1,753.1L290.5,752.6L291.9,752.1L293.3,751.7L294.7,751.2L296.2,750.7L297.6,750.3L299.0,749.8L300.4,749.4L301.8,748.9L303.2,748.5L304.7,748.1L306.1,747.6L307.5,747.2L308.9,746.8L310.4,746.3L311.8,745.9L313.2,745.5L314.7,745.1L316.1,744.7L317.5,744.3L319.0,743.9L320.4,743.4L321.8,743.0L323.3,742.6L324.7,742.3L326.1,741.9L327.6,741.5L329.0,741.1L330.5,740.7L331.9,740.3L333.3,739.9L334.8,739.6L336.2,739.2L337.7,738.8L339.1,738.5L340.6,738.1L342.0,737.7L343.5,737.4L344.9,737.0L346.4,736.7L347.8,736.3L349.3,735.9L350.7,735.6L352.2,735.3L353.6,734.9L355.1,734.6L356.6,734.2L358.0,733.9L359.5,733.6L360.9,733.2L362.4,732.9L363.9,732.6L365.3,732.3L366.8,731.9L368.2,731.6L369.7,731.3L371.2,731.0L372.6,730.7L374.1,730.3L375.6,730.0L377.0,729.7L378.5,729.4L380.0,729.1L381.5,728.8L382.9,728.5L384.4,728.2L385.9,727.9L387.3,727.6L388.8,727.3L390.3,727.0L391.8,726.7L393.2,726.5L394.7,726.2L396.2,725.9L397.7,725.6L399.1,725.3L400.6,725.0L402.1,724.8L403.6,724.5L405.0,724.2L406.5,723.9L408.0,723.6L409.5,723.4L411.0,723.1L412.5,722.8L413.9,722.6L415.4,722.3L416.9,722.0L418.4,721.8L419.9,721.5L421.3,721.2L422.8,721.0L424.3,720.7L425.8,720.5L427.3,720.2L428.8,719.9L430.3,719.7L431.7,719.4L433.2,719.2L434.7,718.9L436.2,718.7L437.7,718.4L439.2,718.2L440.7,717.9L442.2,717.7L443.7,717.4L445.1,717.2L446.6,716.9L448.1,716.7L449.6,716.4L451.1,716.2L452.6,715.9L454.1,715.7L455.6,715.5L457.1,715.2L458.6,715.0L460.1,714.7L461.5,714.5L463.0,714.2L464.5,714.0L466.0,713.8L467.5,713.5L469.0,713.3L470.5,713.0L472.0,712.8L473.5,712.6L475.0,712.3L476.5,712.1L478.0,711.8L479.5,711.6L481.0,711.4L482.4,711.1L483.9,710.9L485.4,710.7L486.9,710.4L488.4,710.2L489.9,709.9L491.4,709.7L492.9,709.5L494.4,709.2L495.9,709.0L497.4,708.7L498.9,708.5L500.4,708.3L501.9,708.0L503.4,707.8L504.8,707.5L506.3,707.3L507.8,707.1L509.3,706.8L510.8,706.6L512.3,706.3L513.8,706.1L515.3,705.9L516.8,705.6L518.3,705.4L519.8,705.1L521.3,704.9L522.8,704.6L524.2,704.4L525.7,704.1L527.2,703.9L528.7,703.6L530.2,703.4L531.7,703.1L533.2,702.9L534.7,702.6L536.2,702.4L537.7,702.1L539.1,701.9L540.6,701.6L542.1,701.3L543.6,701.1L545.1,700.8L546.6,700.6L548.1,700.3L549.6,700.0L551.0,699.8L552.5,699.5L554.0,699.2L555.5,699.0L557.0,698.7L558.5,698.4L559.9,698.2L561.4,697.9L562.9,697.6L564.4,697.3L565.9,697.1L567.4,696.8L568.8,696.5L570.3,696.2L571.8,695.9L573.3,695.7L574.8,695.4L576.2,695.1L577.7,694.8L579.2,694.5L580.7,694.2L582.1,693.9L583.6,693.6L585.1,693.3L586.6,693.0L588.0,692.7L589.5,692.4L591.0,692.1L592.5,691.8L593.9,691.5L595.4,691.2L596.9,690.9L598.3,690.6L599.8,690.2L601.3,689.9L602.7,689.6L604.2,689.3L605.7,689.0L607.1,688.6L608.6,688.3L610.1,688.0L611.5,687.6L613.0,687.3L614.5,687.0L615.9,686.6L617.4,686.3L618.8,685.9L620.3,685.6L621.8,685.2L623.2,684.9L624.7,684.5L626.1,684.2L627.6,683.8L629.0,683.4L630.5,683.1L631.9,682.7L633.4,682.3L634.8,682.0L636.3,681.6L637.7,681.2L639.2,680.8L640.6,680.4L642.1,680.0L643.5,679.7L645.0,679.3L646.4,678.9L647.9,678.5L649.3,678.1L650.7,677.7L652.2,677.3L653.6,676.8L655.1,676.4L656.5,676.0L657.9,675.6L659.4,675.2L660.8,674.7L662.2,674.3L663.7,673.9L665.1,673.4L666.5,673.0L667.9,672.6L669.4,672.1L670.8,671.7L672.2,671.2L673.6,670.8L675.1,670.3L676.5,669.8L677.9,669.4L679.3,668.9L680.7,668.4L682.2,668.0L683.6,667.5L685.0,667.0L686.4,666.5L687.8,666.0L689.2,665.5L690.6,665.0L692.0,664.5L693.4,664.0L694.9,663.5L696.3,663.0L697.7,662.5L699.1,661.9L700.5,661.4L701.9,660.9L703.3,660.4L704.7,659.8L706.1,659.3L707.4,658.7L708.8,658.2L710.2,657.6L711.6,657.1L713.0,656.5L714.4,656.0L715.8,655.4L717.2,654.8L718.5,654.2L719.9,653.7L721.3,653.1L722.7,652.5L724.1,651.9L725.4,651.3L726.8,650.7L728.2,650.1L729.6,649.5L730.9,648.9L732.3,648.2L733.7,647.6L735.0,647.0L736.4,646.4L737.7,645.7L739.1,645.1L740.5,644.5L741.8,643.8L743.2,643.2L744.5,642.5L745.9,641.8L747.2,641.2L748.6,640.5L749.9,639.9L751.3,639.2L752.6,638.5L753.9,637.8L755.3,637.1L756.6,636.5L758.0,635.8L759.3,635.1L760.6,634.4L761.9,633.7L763.3,633.0L764.6,632.2L765.9,631.5L767.2,630.8L768.6,630.1L769.9,629.4L771.2,628.6L772.5,627.9L773.8,627.2L775.1,626.4L776.4,625.7L777.7,624.9L779.0,624.2L780.3,623.4L781.6,622.7L782.9,621.9L784.2,621.1L785.5,620.4L786.8,619.6L788.1,618.8L789.3,618.0L790.6,617.3L791.9,616.5L793.2,615.7L794.5,614.9L795.7,614.1L797.0,613.3L798.3,612.5L799.5,611.7L800.8,610.8L802.0,610.0L803.3,609.2L804.6,608.4L805.8,607.6L807.1,606.7L808.3,605.9L809.5,605.1L810.8,604.2L812.0,603.4L813.3,602.5L814.5,601.7L815.7,600.8L817.0,600.0L818.2,599.1L819.4,598.2L820.6,597.4L821.8,596.5L823.1,595.6L824.3,594.7L825.5,593.8L826.7,593.0L827.9,592.1L829.1,591.2L830.3,590.3L831.5,589.4L832.7,588.5L833.9,587.6L835.0,586.7L836.2,585.7L837.4,584.8L838.6,583.9L839.8,583.0L840.9,582.1L842.1,581.1L843.3,580.2L844.4,579.3L845.6,578.3L846.7,577.4L847.9,576.4L849.0,575.5L850.2,574.5L851.3,573.6L852.5,572.6L853.6,571.6L854.7,570.7L855.9,569.7L857.0,568.7L858.1,567.8L859.3,566.8L860.4,565.8L861.5,564.8L862.6,563.8L863.7,562.8L864.8,561.8L865.9,560.8L867.0,559.9L868.1,558.8L869.2,557.8L870.3,556.8L871.4,555.8L872.5,554.8L873.6,553.8L874.6,552.8L875.7,551.8L876.8,550.7L877.9,549.7L878.9,548.7L880.0,547.6L881.1,546.6L882.1,545.6L883.2,544.5L884.3,543.5L885.3,542.5L886.4,541.4L887.5,540.4L888.5,539.3L889.6,538.3L890.6,537.2L891.7,536.2L892.7,535.1L893.8,534.1L894.8,533.0L895.9,531.9L896.9,530.9L898.0,529.8L899.0,528.8L900.1,527.7L901.1,526.6L902.2,525.5L903.2,524.5L904.2,523.4L905.3,522.3L906.3,521.3L907.4,520.2L908.4,519.1L909.5,518.0L910.5,517.0L911.5,515.9L912.6,514.8L913.6,513.7L914.7,512.6L915.7,511.6L916.7,510.5L917.8,509.4L918.8,508.3L919.9,507.2L920.9,506.1L922.0,505.1L923.0,504.0L924.1,502.9L925.1,501.8L926.2,500.7L927.2,499.6L928.3,498.5L929.3,497.5L930.4,496.4L931.4,495.3L932.5,494.2L933.5,493.1L934.6,492.0L935.7,490.9L936.7,489.9L937.8,488.8L938.9,487.7L939.9,486.6L941.0,485.5L942.1,484.4L943.2,483.3L944.2,482.3L945.3,481.2L946.4,480.1L947.5,479.0L948.6,477.9L949.6,476.9L950.7,475.8L951.8,474.7L952.9,473.6L954.0,472.6L955.1,471.5L956.2,470.4L957.3,469.4L958.4,468.3L959.5,467.2L960.6,466.2L961.7,465.1L962.8,464.0L963.9,463.0L965.1,461.9L966.2,460.9L967.3,459.8L968.4,458.8L969.5,457.7L970.7,456.7L971.8,455.6L972.9,454.6L974.1,453.6L975.2,452.5L976.3,451.5L977.5,450.5L978.6,449.4L979.8,448.4L980.9,447.4L982.1,446.4L983.2,445.4L984.4,444.4L985.5,443.3L986.7,442.3L987.8,441.3L989.0,440.4L990.2,439.4L991.3,438.4L992.5,437.4L993.7,436.4L994.9,435.4L996.0,434.5L997.2,433.5L998.4,432.5L999.6,431.6L1000.8,430.6L1002.0,429.7L1003.2,428.7L1004.4,427.8L1005.6,426.8L1006.8,425.9L1008.0,425.0L1009.2,424.0L1010.4,423.1L1011.6,422.2L1012.8,421.3L1014.1,420.4L1015.3,419.5L1016.5,418.6L1017.7,417.7L1019.0,416.8L1020.2,416.0L1021.4,415.1L1022.7,414.2L1023.9,413.4L1025.1,412.5L1026.4,411.7L1027.6,410.8L1028.9,410.0L1030.2,409.2L1031.4,408.3L1032.7,407.5L1033.9,406.7L1035.2,405.9L1036.5,405.1L1037.7,404.3L1039.0,403.5L1040.3,402.7L1041.6,402.0L1042.9,401.2L1044.2,400.4L1045.5,399.7L1046.7,398.9L1048.0,398.2L1049.3,397.5L1050.7,396.7L1052.0,396.0L1053.3,395.3L1054.6,394.6L1055.9,393.9L1057.2,393.2L1058.5,392.6L1059.9,391.9L1061.2,391.2L1062.5,390.6L1063.9,389.9L1065.2,389.3L1066.6,388.7L1067.9,388.0L1069.2,387.4L1070.6,386.8L1072.0,386.2L1073.3,385.6L1074.7,385.0L1076.0,384.5L1077.4,383.9L1078.8,383.4L1080.2,382.8L1081.5,382.3L1082.9,381.7L1084.3,381.2L1085.7,380.7L1087.1,380.2L1088.5,379.7L1089.8,379.2L1091.2,378.7L1092.6,378.3L1094.0,377.8L1095.4,377.4L1096.8,376.9L1098.3,376.5L1099.7,376.1L1101.1,375.6L1102.5,375.2L1103.9,374.8L1105.3,374.5L1106.7,374.1L1108.2,373.7L1109.6,373.4L1111.0,373.0L1112.4,372.7L1113.9,372.3L1115.3,372.0L1116.7,371.7L1118.2,371.4L1119.6,371.1L1121.1,370.8L1122.5,370.6L1123.9,370.3L1125.4,370.0L1126.8,369.8L1128.3,369.6L1129.7,369.3L1131.2,369.1L1132.6,368.9L1134.1,368.7L1135.5,368.6L1137.0,368.4L1138.4,368.2L1139.9,368.1L1141.4,367.9L1142.8,367.8L1144.3,367.7L1145.7,367.6L1147.2,367.5L1148.7,367.4L1150.1,367.3L1151.6,367.2L1153.1,367.2L1154.5,367.1L1156.0,367.1L1157.5,367.1L1158.9,367.1L1160.4,367.0L1161.9,367.1L1163.3,367.1L1164.8,367.1L1166.3,367.1L1167.8,367.2L1169.2,367.2L1170.7,367.3L1172.2,367.4L1173.7,367.5L1175.1,367.5L1176.6,367.6L1178.1,367.8L1179.5,367.9L1181.0,368.0L1182.5,368.1L1184.0,368.3L1185.5,368.4L1186.9,368.6L1188.4,368.8L1189.9,368.9L1191.4,369.1L1192.8,369.3L1194.3,369.5L1195.8,369.7L1197.3,369.9L1198.7,370.2L1200.2,370.4L1201.7,370.6L1203.2,370.9L1204.6,371.1L1206.1,371.4L1207.6,371.6L1209.1,371.9L1210.5,372.2L1212.0,372.4L1213.5,372.7L1215.0,373.0L1216.4,373.3L1217.9,373.6L1219.4,373.9L1220.9,374.2L1222.3,374.6L1223.8,374.9L1225.3,375.2L1226.7,375.5L1228.2,375.9L1229.7,376.2L1231.2,376.6L1232.6,376.9L1234.1,377.3L1235.6,377.6L1237.0,378.0L1238.5,378.4L1240.0,378.7L1241.4,379.1L1242.9,379.5L1244.4,379.9L1245.8,380.2L1247.3,380.6L1248.7,381.0L1250.2,381.4L1251.7,381.8L1253.1,382.2L1254.6,382.6L1256.0,383.0L1257.5,383.4L1258.9,383.8L1260.4,384.2L1261.8,384.6L1263.3,385.1L1264.7,385.5L1266.2,385.9L1267.7,386.3L1269.1,386.7L1270.6,387.2L1272.0,387.6L1273.4,388.0L1274.9,388.5L1276.3,388.9L1277.8,389.4L1279.2,389.8L1280.7,390.2L1282.1,390.7L1283.6,391.1L1285.0,391.6L1286.5,392.0L1287.9,392.5L1289.3,392.9L1290.8,393.4L1292.2,393.9L1293.7,394.3L1295.1,394.8L1296.6,395.2L1298.0,395.7L1299.4,396.2L1300.9,396.6L1302.3,397.1L1303.8,397.6L1305.2,398.0L1306.6,398.5L1308.1,399.0L1309.5,399.5L1310.9,399.9L1312.4,400.4L1313.8,400.9L1315.2,401.4L1316.7,401.8L1318.1,402.3L1319.6,402.8L1321.0,403.3L1322.4,403.7L1323.9,404.2L1325.3,404.7L1326.7,405.2L1328.2,405.7L1329.6,406.2L1331.0,406.6L1332.5,407.1L1333.9,407.6L1335.3,408.1L1336.8,408.6L1338.2,409.1L1339.6,409.5L1341.1,410.0L1342.5,410.5L1343.9,411.0L1345.4,411.5L1346.8,411.9L1348.2,412.4L1349.7,412.9L1351.1,413.4L1352.5,413.9L1354.0,414.3L1355.4,414.8L1356.8,415.3L1358.3,415.8L1359.7,416.3L1361.1,416.7L1362.6,417.2L1364.0,417.7L1365.4,418.2L1366.9,418.6L1368.3,419.1L1369.7,419.6L1371.2,420.0L1372.6,420.5L1374.0,421.0L1375.5,421.4L1376.9,421.9L1378.3,422.4L1379.8,422.8L1381.2,423.3L1382.6,423.7L1384.1,424.2L1385.5,424.7L1387.0,425.1L1388.4,425.6L1389.8,426.0L1391.3,426.5L1392.7,426.9L1394.2,427.4L1395.6,427.8L1397.0,428.2L1398.5,428.7L1399.9,429.1L1401.4,429.5L1402.8,430.0L1404.2,430.4L1405.7,430.8L1407.1,431.3L1408.6,431.7L1410.0,432.1L1411.4,432.5L1412.9,432.9L1414.3,433.4L1415.8,433.8L1417.2,434.2L1418.7,434.6L1420.1,435.0L1421.6,435.4L1423.0,435.8L1424.5,436.2L1425.9,436.6L1427.4,436.9L1428.8,437.3L1430.3,437.7L1431.7,438.1L1433.2,438.5L1434.6,438.8L1436.1,439.2L1437.5,439.6L1439.0,439.9L1440.5,440.3L1441.9,440.6L1443.4,441.0L1444.8,441.3L1446.3,441.7L1447.7,442.0L1449.2,442.4L1450.7,442.7L1452.1,443.0L1453.6,443.3L1455.1,443.7L1456.5,444.0L1458.0,444.3L1459.5,444.6L1460.9,444.9L1462.4,445.2L1463.9,445.5L1465.3,445.9L1466.8,446.2L1468.3,446.4L1469.7,446.7L1471.2,447.0L1472.7,447.3L1474.1,447.6L1475.6,447.9L1477.1,448.2L1478.6,448.5L1480.0,448.7L1481.5,449.0L1483.0,449.3L1484.5,449.6L1485.9,449.8L1487.4,450.1L1488.9,450.3L1490.4,450.6L1491.8,450.9L1493.3,451.1L1494.8,451.4L1496.3,451.6L1497.8,451.9L1499.2,452.1L1500.7,452.4L1502.2,452.6L1503.7,452.9L1505.2,453.1L1506.6,453.4L1508.1,453.6L1509.6,453.8L1511.1,454.1L1512.6,454.3L1514.0,454.5L1515.5,454.8L1517.0,455.0L1518.5,455.2L1520.0,455.4L1521.5,455.7L1522.9,455.9L1524.4,456.1L1525.9,456.3L1527.4,456.6L1528.9,456.8L1530.4,457.0L1531.9,457.2L1533.3,457.4L1534.8,457.6L1536.3,457.9L1537.8,458.1L1539.3,458.3L1540.8,458.5L1542.3,458.7L1543.8,458.9L1545.2,459.1L1546.7,459.3L1548.2,459.6L1549.7,459.8L1551.2,460.0L1552.7,460.2L1554.2,460.4L1555.7,460.6L1557.1,460.8L1558.6,461.0L1560.1,461.2L1561.6,461.4L1563.1,461.6L1564.6,461.8L1566.1,462.0L1567.6,462.2L1569.1,462.5L1570.5,462.7L1572.0,462.9L1573.5,463.1L1575.0,463.3L1576.5,463.5L1578.0,463.7L1579.5,463.9L1581.0,464.1L1582.5,464.3L1583.9,464.5L1585.4,464.7L1586.9,464.9L1588.4,465.2L1589.9,465.4L1591.4,465.6L1592.9,465.8L1594.4,466.0L1595.8,466.2L1597.3,466.4L1598.8,466.6L1600.3,466.9L1601.8,467.1L1603.3,467.3L1604.8,467.5L1606.2,467.7L1607.7,468.0L1609.2,468.2L1610.7,468.4L1612.2,468.6L1613.7,468.9L1615.2,469.1L1616.6,469.3L1618.1,469.5L1619.6,469.8L1621.1,470.0L1622.6,470.2L1624.1,470.5L1625.5,470.7L1627.0,470.9L1628.5,471.2L1630.0,471.4L1631.5,471.7L1633.0,471.9L1634.4,472.2L1635.9,472.4L1637.4,472.7L1638.9,472.9L1640.3,473.2L1641.8,473.4L1643.3,473.7L1644.8,474.0L1646.3,474.2L1647.7,474.5L1649.2,474.8L1650.7,475.0L1652.2,475.3L1653.6,475.6L1655.1,475.9L1656.6,476.1L1658.1,476.4L1659.5,476.7L1661.0,477.0L1659.6,477.5L1658.2,478.0L1656.8,478.6L1655.4,479.1L1654.0,479.6L1652.6,480.0L1651.2,480.5L1649.8,481.0L1648.4,481.5L1646.9,482.0L1645.5,482.4L1644.1,482.9L1642.7,483.4L1641.3,483.8L1639.9,484.3L1638.4,484.7L1637.0,485.2L1635.6,485.6L1634.2,486.0L1632.8,486.5L1631.3,486.9L1629.9,487.3L1628.5,487.7L1627.0,488.1L1625.6,488.5L1624.2,488.9L1622.7,489.3L1621.3,489.7L1619.9,490.1L1618.4,490.5L1617.0,490.9L1615.6,491.3L1614.1,491.6L1612.7,492.0L1611.2,492.4L1609.8,492.7L1608.3,493.1L1606.9,493.4L1605.4,493.8L1604.0,494.1L1602.5,494.5L1601.1,494.8L1599.6,495.1L1598.2,495.5L1596.7,495.8L1595.3,496.1L1593.8,496.4L1592.4,496.8L1590.9,497.1L1589.4,497.4L1588.0,497.7L1586.5,498.0L1585.1,498.3L1583.6,498.6L1582.1,498.9L1580.7,499.2L1579.2,499.4L1577.7,499.7L1576.2,500.0L1574.8,500.3L1573.3,500.5L1571.8,500.8L1570.4,501.1L1568.9,501.3L1567.4,501.6L1565.9,501.9L1564.5,502.1L1563.0,502.4L1561.5,502.6L1560.0,502.9L1558.5,503.1L1557.1,503.3L1555.6,503.6L1554.1,503.8L1552.6,504.0L1551.1,504.3L1549.6,504.5L1548.2,504.7L1546.7,504.9L1545.2,505.2L1543.7,505.4L1542.2,505.6L1540.7,505.8L1539.2,506.0L1537.7,506.2L1536.2,506.4L1534.7,506.6L1533.2,506.8L1531.8,507.0L1530.3,507.2L1528.8,507.4L1527.3,507.6L1525.8,507.8L1524.3,508.0L1522.8,508.2L1521.3,508.3L1519.8,508.5L1518.3,508.7L1516.8,508.9L1515.3,509.0L1513.8,509.2L1512.3,509.4L1510.8,509.6L1509.3,509.7L1507.8,509.9L1506.3,510.0L1504.7,510.2L1503.2,510.4L1501.7,510.5L1500.2,510.7L1498.7,510.8L1497.2,511.0L1495.7,511.1L1494.2,511.3L1492.7,511.4L1491.2,511.6L1489.7,511.7L1488.2,511.9L1486.6,512.0L1485.1,512.2L1483.6,512.3L1482.1,512.4L1480.6,512.6L1479.1,512.7L1477.6,512.8L1476.1,513.0L1474.5,513.1L1473.0,513.2L1471.5,513.4L1470.0,513.5L1468.5,513.6L1467.0,513.8L1465.5,513.9L1463.9,514.0L1462.4,514.1L1460.9,514.3L1459.4,514.4L1457.9,514.5L1456.4,514.6L1454.8,514.8L1453.3,514.9L1451.8,515.0L1450.3,515.1L1448.8,515.2L1447.3,515.4L1445.7,515.5L1444.2,515.6L1442.7,515.7L1441.2,515.8L1439.7,516.0L1438.1,516.1L1436.6,516.2L1435.1,516.3L1433.6,516.4L1432.1,516.5L1430.6,516.6L1429.0,516.8L1427.5,516.9L1426.0,517.0L1424.5,517.1L1423.0,517.2L1421.4,517.3L1419.9,517.5L1418.4,517.6L1416.9,517.7L1415.4,517.8L1413.8,517.9L1412.3,518.0L1410.8,518.1L1409.3,518.3L1407.8,518.4L1406.2,518.5L1404.7,518.6L1403.2,518.7L1401.7,518.8L1400.2,519.0L1398.7,519.1L1397.1,519.2L1395.6,519.3L1394.1,519.4L1392.6,519.6L1391.1,519.7L1389.6,519.8L1388.0,519.9L1386.5,520.1L1385.0,520.2L1383.5,520.3L1382.0,520.4L1380.5,520.6L1378.9,520.7L1377.4,520.8L1375.9,521.0L1374.4,521.1L1372.9,521.2L1371.4,521.3L1369.9,521.5L1368.3,521.6L1366.8,521.8L1365.3,521.9L1363.8,522.0L1362.3,522.2L1360.8,522.3L1359.3,522.5L1357.8,522.6L1356.3,522.7L1354.7,522.9L1353.2,523.0L1351.7,523.2L1350.2,523.3L1348.7,523.5L1347.2,523.6L1345.7,523.8L1344.2,524.0L1342.7,524.1L1341.2,524.3L1339.7,524.4L1338.2,524.6L1336.7,524.8L1335.2,524.9L1333.7,525.1L1332.2,525.3L1330.7,525.5L1329.2,525.6L1327.7,525.8L1326.2,526.0L1324.7,526.2L1323.2,526.3L1321.7,526.5L1320.2,526.7L1318.7,526.9L1317.2,527.1L1315.7,527.3L1314.2,527.5L1312.7,527.7L1311.2,527.9L1309.7,528.1L1308.2,528.3L1306.7,528.5L1305.2,528.7L1303.7,528.9L1302.2,529.1L1300.8,529.4L1299.3,529.6L1297.8,529.8L1296.3,530.0L1294.8,530.3L1293.3,530.5L1291.8,530.7L1290.4,531.0L1288.9,531.2L1287.4,531.4L1285.9,531.7L1284.4,531.9L1283.0,532.2L1281.5,532.4L1280.0,532.7L1278.5,533.0L1277.1,533.2L1275.6,533.5L1274.1,533.8L1272.6,534.0L1271.2,534.3L1269.7,534.6L1268.2,534.9L1266.8,535.1L1265.3,535.4L1263.8,535.7L1262.4,536.0L1260.9,536.3L1259.4,536.6L1258.0,536.9L1256.5,537.2L1255.0,537.5L1253.6,537.9L1252.1,538.2L1250.7,538.5L1249.2,538.8L1247.8,539.1L1246.3,539.5L1244.8,539.8L1243.4,540.1L1241.9,540.5L1240.5,540.8L1239.0,541.2L1237.6,541.5L1236.2,541.9L1234.7,542.2L1233.3,542.6L1231.8,543.0L1230.4,543.3L1228.9,543.7L1227.5,544.1L1226.1,544.4L1224.6,544.8L1223.2,545.2L1221.7,545.6L1220.3,546.0L1218.9,546.4L1217.4,546.7L1216.0,547.1L1214.6,547.5L1213.1,547.9L1211.7,548.4L1210.3,548.8L1208.9,549.2L1207.4,549.6L1206.0,550.0L1204.6,550.4L1203.2,550.9L1201.7,551.3L1200.3,551.7L1198.9,552.2L1197.5,552.6L1196.1,553.0L1194.6,553.5L1193.2,553.9L1191.8,554.4L1190.4,554.8L1189.0,555.3L1187.6,555.8L1186.2,556.2L1184.8,556.7L1183.4,557.2L1182.0,557.6L1180.6,558.1L1179.2,558.6L1177.7,559.1L1176.3,559.6L1174.9,560.0L1173.5,560.5L1172.2,561.0L1170.8,561.5L1169.4,562.0L1168.0,562.5L1166.6,563.0L1165.2,563.5L1163.8,564.1L1162.4,564.6L1161.0,565.1L1159.6,565.6L1158.2,566.1L1156.9,566.7L1155.5,567.2L1154.1,567.7L1152.7,568.3L1151.3,568.8L1150.0,569.4L1148.6,569.9L1147.2,570.5L1145.8,571.0L1144.4,571.6L1143.1,572.1L1141.7,572.7L1140.3,573.3L1139.0,573.8L1137.6,574.4L1136.2,575.0L1134.9,575.6L1133.5,576.1L1132.1,576.7L1130.8,577.3L1129.4,577.9L1128.1,578.5L1126.7,579.1L1125.3,579.7L1124.0,580.3L1122.6,580.9L1121.3,581.5L1119.9,582.1L1118.6,582.7L1117.2,583.4L1115.9,584.0L1114.5,584.6L1113.2,585.2L1111.9,585.9L1110.5,586.5L1109.2,587.1L1107.8,587.8L1106.5,588.4L1105.2,589.1L1103.8,589.7L1102.5,590.4L1101.2,591.0L1099.8,591.7L1098.5,592.3L1097.2,593.0L1095.8,593.7L1094.5,594.3L1093.2,595.0L1091.9,595.7L1090.5,596.4L1089.2,597.0L1087.9,597.7L1086.6,598.4L1085.3,599.1L1083.9,599.8L1082.6,600.5L1081.3,601.2L1080.0,601.9L1078.7,602.6L1077.4,603.3L1076.1,604.0L1074.8,604.7L1073.5,605.5L1072.2,606.2L1070.9,606.9L1069.6,607.6L1068.3,608.4L1067.0,609.1L1065.7,609.8L1064.4,610.6L1063.1,611.3L1061.8,612.0L1060.5,612.8L1059.2,613.5L1057.9,614.3L1056.6,615.1L1055.3,615.8L1054.1,616.6L1052.8,617.3L1051.5,618.1L1050.2,618.9L1048.9,619.7L1047.7,620.4L1046.4,621.2L1045.1,622.0L1043.8,622.8L1042.6,623.6L1041.3,624.4L1040.0,625.2L1038.8,625.9L1037.5,626.7L1036.2,627.6L1035.0,628.4L1033.7,629.2L1032.5,630.0L1031.2,630.8L1029.9,631.6L1028.7,632.4L1027.4,633.3L1026.2,634.1L1024.9,634.9L1023.7,635.7L1022.4,636.6L1021.2,637.4L1019.9,638.3L1018.7,639.1L1017.5,639.9L1016.2,640.8L1015.0,641.7L1013.7,642.5L1012.5,643.4L1011.3,644.2L1010.0,645.1L1008.8,646.0L1007.6,646.8L1006.3,647.7L1005.1,648.6L1003.9,649.5L1002.7,650.3L1001.4,651.2L1000.2,652.1L999.0,653.0L997.8,653.9L996.6,654.8L995.4,655.7L994.1,656.6L992.9,657.5L991.7,658.4L990.5,659.3L989.3,660.2L988.1,661.1L986.9,662.1L985.7,663.0L984.5,663.9L983.3,664.8L982.1,665.8L980.9,666.7L979.7,667.6L978.5,668.6L977.3,669.5L976.1,670.5L975.0,671.4L973.8,672.3L972.6,673.3L971.4,674.3L970.2,675.2L969.0,676.2L967.9,677.1L966.7,678.1L965.5,679.1L964.3,680.0L963.2,681.0L962.0,682.0L960.8,683.0L959.7,684.0L958.5,684.9L957.3,685.9L956.2,686.9L955.0,687.9L953.8,688.9L952.7,689.9L951.5,690.9L950.4,691.9L949.2,692.9L948.1,693.9L946.9,694.9L945.8,695.9L944.6,696.9L943.5,698.0L942.3,699.0L941.2,700.0L940.0,701.0L938.9,702.0L937.7,703.0L936.6,704.0L935.4,705.1L934.3,706.1L933.2,707.1L932.0,708.1L930.9,709.2L929.7,710.2L928.6,711.2L927.5,712.2L926.3,713.3L925.2,714.3L924.0,715.3L922.9,716.3L921.8,717.4L920.6,718.4L919.5,719.4L918.4,720.5L917.2,721.5L916.1,722.5L914.9,723.5L913.8,724.6L912.7,725.6L911.5,726.6L910.4,727.7L909.3,728.7L908.1,729.7L907.0,730.7L905.9,731.8L904.7,732.8L903.6,733.8L902.5,734.8L901.3,735.9L900.2,736.9L899.1,737.9L897.9,738.9L896.8,739.9L895.6,741.0L894.5,742.0L893.4,743.0L892.2,744.0L891.1,745.0L890.0,746.0L888.8,747.0L887.7,748.0L886.5,749.0L885.4,750.0L884.2,751.0L883.1,752.0L882.0,753.0L880.8,754.0L879.7,755.0L878.5,756.0L877.4,757.0L876.2,758.0L875.1,759.0L873.9,759.9L872.8,760.9L871.6,761.9L870.5,762.9L869.3,763.8L868.1,764.8L867.0,765.8L865.8,766.7L864.7,767.7L863.5,768.6L862.3,769.6L861.2,770.5L860.0,771.5L858.9,772.4L857.7,773.3L856.5,774.3L855.3,775.2L854.2,776.1L853.0,777.1L851.8,778.0L850.6,778.9L849.5,779.8L848.3,780.7L847.1,781.6L845.9,782.5L844.7,783.4L843.5,784.3L842.3,785.2L841.1,786.1L840.0,786.9L838.8,787.8L837.6,788.7L836.4,789.5L835.2,790.4L833.9,791.2L832.7,792.1L831.5,792.9L830.3,793.8L829.1,794.6L827.9,795.4L826.7,796.3L825.4,797.1L824.2,797.9L823.0,798.7L821.8,799.5L820.5,800.3L819.3,801.1L818.1,801.9L816.8,802.6L815.6,803.4L814.3,804.2L813.1,804.9L811.8,805.7L810.6,806.4L809.3,807.2L808.1,807.9L806.8,808.6L805.6,809.4L804.3,810.1L803.0,810.8L801.7,811.5L800.5,812.2L799.2,812.9L797.9,813.6L796.6,814.2L795.3,814.9L794.0,815.6L792.7,816.2L791.5,816.9L790.2,817.5L788.8,818.1L787.5,818.8L786.2,819.4L784.9,820.0L783.6,820.6L782.3,821.2L780.9,821.8L779.6,822.4L778.3,822.9L776.9,823.5L775.6,824.1L774.3,824.6L772.9,825.2L771.6,825.7L770.2,826.2L768.9,826.7L767.5,827.2L766.1,827.7L764.8,828.2L763.4,828.7L762.0,829.2L760.6,829.7L759.3,830.1L757.9,830.6L756.5,831.0L755.1,831.5L753.7,831.9L752.3,832.3L750.9,832.8L749.5,833.2L748.1,833.6L746.7,834.0L745.3,834.4L743.9,834.7L742.5,835.1L741.1,835.5L739.6,835.8L738.2,836.2L736.8,836.5L735.4,836.8L733.9,837.2L732.5,837.5L731.1,837.8L729.6,838.1L728.2,838.4L726.8,838.7L725.3,839.0L723.9,839.2L722.4,839.5L721.0,839.7L719.5,840.0L718.1,840.2L716.6,840.5L715.1,840.7L713.7,840.9L712.2,841.1L710.7,841.3L709.3,841.5L707.8,841.7L706.3,841.9L704.9,842.1L703.4,842.2L701.9,842.4L700.4,842.5L698.9,842.7L697.5,842.8L696.0,842.9L694.5,843.1L693.0,843.2L691.5,843.3L690.0,843.4L688.5,843.5L687.0,843.6L685.5,843.7L684.0,843.7L682.5,843.8L681.0,843.9L679.5,843.9L678.0,844.0L676.5,844.0L675.0,844.1L673.5,844.1L672.0,844.1L670.5,844.1L669.0,844.2L667.5,844.2L666.0,844.2L664.5,844.2L662.9,844.2L661.4,844.2L659.9,844.1L658.4,844.1L656.9,844.1L655.4,844.0L653.8,844.0L652.3,844.0L650.8,843.9L649.3,843.9L647.8,843.8L646.2,843.7L644.7,843.7L643.2,843.6L641.7,843.5L640.1,843.4L638.6,843.3L637.1,843.2L635.6,843.1L634.0,843.0L632.5,842.9L631.0,842.8L629.5,842.7L627.9,842.6L626.4,842.5L624.9,842.3L623.4,842.2L621.8,842.1L620.3,841.9L618.8,841.8L617.3,841.6L615.7,841.5L614.2,841.3L612.7,841.2L611.2,841.0L609.6,840.8L608.1,840.7L606.6,840.5L605.1,840.3L603.6,840.1L602.0,839.9L600.5,839.8L599.0,839.6L597.5,839.4L595.9,839.2L594.4,839.0L592.9,838.8L591.4,838.6L589.9,838.4L588.4,838.2L586.8,838.0L585.3,837.8L583.8,837.5L582.3,837.3L580.8,837.1L579.3,836.9L577.8,836.6L576.3,836.4L574.7,836.2L573.2,836.0L571.7,835.7L570.2,835.5L568.7,835.2L567.2,835.0L565.7,834.8L564.2,834.5L562.7,834.3L561.2,834.0L559.7,833.8L558.2,833.5L556.7,833.2L555.2,833.0L553.7,832.7L552.2,832.5L550.7,832.2L549.2,831.9L547.7,831.7L546.2,831.4L544.7,831.1L543.2,830.8L541.7,830.6L540.2,830.3L538.7,830.0L537.2,829.7L535.7,829.4L534.2,829.1L532.7,828.9L531.2,828.6L529.8,828.3L528.3,828.0L526.8,827.7L525.3,827.4L523.8,827.1L522.3,826.8L520.8,826.5L519.3,826.2L517.8,825.9L516.4,825.6L514.9,825.3L513.4,825.0L511.9,824.7L510.4,824.4L508.9,824.1L507.4,823.8L506.0,823.5L504.5,823.1L503.0,822.8L501.5,822.5L500.0,822.2L498.6,821.9L497.1,821.6L495.6,821.2L494.1,820.9L492.6,820.6L491.2,820.3L489.7,820.0L488.2,819.6L486.7,819.3L485.2,819.0L483.8,818.7L482.3,818.3L480.8,818.0L479.3,817.7L477.9,817.4L476.4,817.0L474.9,816.7L473.4,816.4L472.0,816.1L470.5,815.7L469.0,815.4L467.5,815.1L466.1,814.7L464.6,814.4L463.1,814.1L461.6,813.7L460.2,813.4L458.7,813.1L457.2,812.7L455.8,812.4L454.3,812.1L452.8,811.7L451.3,811.4L449.9,811.1L448.4,810.7L446.9,810.4L445.5,810.1L444.0,809.7L442.5,809.4L441.0,809.1L439.6,808.7L438.1,808.4L436.6,808.1L435.2,807.7L433.7,807.4L432.2,807.1L430.8,806.7L429.3,806.4L427.8,806.1L426.4,805.7L424.9,805.4L423.4,805.1L422.0,804.8L420.5,804.4L419.0,804.1L417.6,803.8L416.1,803.4L414.6,803.1L413.2,802.8L411.7,802.5L410.2,802.1L408.7,801.8L407.3,801.5L405.8,801.2L404.3,800.8L402.9,800.5L401.4,800.2L399.9,799.9L398.5,799.6L397.0,799.3L395.5,798.9L394.1,798.6L392.6,798.3L391.1,798.0L389.7,797.7L388.2,797.4L386.7,797.1L385.3,796.7L383.8,796.4L382.3,796.1L380.9,795.8L379.4,795.5L377.9,795.2L376.5,794.9L375.0,794.6L373.5,794.3L372.1,794.0L370.6,793.7L369.1,793.4L367.7,793.1L366.2,792.8L364.7,792.6L363.3,792.3L361.8,792.0L360.3,791.7L358.8,791.4L357.4,791.1L355.9,790.8L354.4,790.6L353.0,790.3L351.5,790.0L350.0,789.7L348.6,789.5L347.1,789.2L345.6,788.9L344.1,788.7L342.7,788.4L341.2,788.1L339.7,787.9L338.3,787.6L336.8,787.4L335.3,787.1L333.8,786.9L332.4,786.6L330.9,786.4L329.4,786.1L328.0,785.9L326.5,785.6L325.0,785.4L323.5,785.2L322.1,784.9L320.6,784.7L319.1,784.5L317.6,784.2L316.1,784.0L314.7,783.8L313.2,783.6L311.7,783.3L310.2,783.1L308.8,782.9L307.3,782.7L305.8,782.5L304.3,782.3L302.8,782.1L301.4,781.9L299.9,781.7L298.4,781.5L296.9,781.3L295.4,781.1L294.0,780.9L292.5,780.8L291.0,780.6L289.5,780.4L288.0,780.2L286.5,780.1L285.1,779.9L283.6,779.7L282.1,779.6L280.6,779.4L279.1,779.3L277.6,779.1L276.1,779.0L274.7,778.8L273.2,778.7L271.7,778.5L270.2,778.4L268.7,778.3L267.2,778.1L265.7,778.0L264.2,777.9L262.7,777.8L261.2,777.7L259.8,777.6" stroke="#ffc000" stroke-width="5.5"/>
<path d="M257.0,710.0L258.5,709.7L259.9,709.3L261.4,709.0L262.8,708.7L264.3,708.4L265.7,708.1L267.2,707.8L268.7,707.5L270.1,707.2L271.6,706.9L273.1,706.7L274.5,706.4L276.0,706.1L277.5,705.8L278.9,705.6L280.4,705.3L281.9,705.1L283.4,704.8L284.8,704.6L286.3,704.4L287.8,704.1L289.3,703.9L290.8,703.7L292.2,703.5L293.7,703.3L295.2,703.1L296.7,702.9L298.2,702.7L299.7,702.5L301.1,702.3L302.6,702.1L304.1,701.9L305.6,701.7L307.1,701.5L308.6,701.4L310.1,701.2L311.6,701.0L313.1,700.9L314.5,700.7L316.0,700.6L317.5,700.4L319.0,700.2L320.5,700.1L322.0,700.0L323.5,699.8L325.0,699.7L326.5,699.5L328.0,699.4L329.5,699.3L331.0,699.1L332.5,699.0L334.0,698.9L335.5,698.8L337.0,698.6L338.5,698.5L340.0,698.4L341.5,698.3L343.0,698.2L344.5,698.1L346.1,697.9L347.6,697.8L349.1,697.7L350.6,697.6L352.1,697.5L353.6,697.4L355.1,697.3L356.6,697.2L358.1,697.1L359.6,697.0L361.1,696.9L362.6,696.8L364.1,696.7L365.6,696.6L367.2,696.5L368.7,696.4L370.2,696.3L371.7,696.2L373.2,696.1L374.7,696.1L376.2,696.0L377.7,695.9L379.2,695.8L380.7,695.7L382.3,695.6L383.8,695.5L385.3,695.4L386.8,695.3L388.3,695.2L389.8,695.1L391.3,695.0L392.8,694.9L394.3,694.8L395.8,694.7L397.3,694.6L398.9,694.5L400.4,694.4L401.9,694.3L403.4,694.2L404.9,694.1L406.4,694.0L407.9,693.9L409.4,693.8L410.9,693.7L412.4,693.6L413.9,693.5L415.4,693.3L416.9,693.2L418.4,693.1L419.9,693.0L421.4,692.9L422.9,692.7L424.5,692.6L426.0,692.5L427.5,692.3L429.0,692.2L430.5,692.1L432.0,691.9L433.5,691.8L435.0,691.6L436.5,691.5L438.0,691.4L439.5,691.2L440.9,691.0L442.4,690.9L443.9,690.7L445.4,690.6L446.9,690.4L448.4,690.2L449.9,690.0L451.4,689.9L452.9,689.7L454.4,689.5L455.9,689.3L457.4,689.1L458.9,688.9L460.3,688.7L461.8,688.5L463.3,688.3L464.8,688.1L466.3,687.8L467.8,687.6L469.2,687.4L470.7,687.2L472.2,686.9L473.7,686.7L475.2,686.4L476.6,686.2L478.1,685.9L479.6,685.7L481.1,685.4L482.5,685.1L484.0,684.9L485.5,684.6L486.9,684.3L488.4,684.0L489.9,683.7L491.3,683.4L492.8,683.1L494.3,682.8L495.7,682.5L497.2,682.1L498.6,681.8L500.1,681.5L501.6,681.1L503.0,680.8L504.5,680.4L505.9,680.1L507.4,679.7L508.8,679.3L510.3,678.9L511.7,678.5L513.2,678.1L514.6,677.7L516.0,677.3L517.5,676.9L518.9,676.5L520.4,676.1L521.8,675.7L523.2,675.2L524.7,674.8L526.1,674.3L527.5,673.9L529.0,673.4L530.4,672.9L531.8,672.5L533.2,672.0L534.6,671.5L536.1,671.0L537.5,670.5L538.9,670.0L540.3,669.5L541.7,669.0L543.1,668.4L544.5,667.9L545.9,667.4L547.3,666.8L548.7,666.3L550.1,665.7L551.5,665.2L552.9,664.6L554.3,664.0L555.7,663.5L557.1,662.9L558.4,662.3L559.8,661.7L561.2,661.1L562.6,660.5L563.9,659.9L565.3,659.3L566.7,658.7L568.0,658.0L569.4,657.4L570.8,656.7L572.1,656.1L573.5,655.4L574.8,654.8L576.2,654.1L577.5,653.5L578.9,652.8L580.2,652.1L581.5,651.4L582.9,650.7L584.2,650.0L585.5,649.3L586.8,648.6L588.2,647.9L589.5,647.2L590.8,646.5L592.1,645.7L593.4,645.0L594.7,644.3L596.0,643.5L597.3,642.8L598.6,642.0L599.9,641.2L601.2,640.5L602.5,639.7L603.8,638.9L605.0,638.1L606.3,637.3L607.6,636.5L608.9,635.7L610.1,634.9L611.4,634.1L612.6,633.3L613.9,632.5L615.1,631.6L616.4,630.8L617.6,630.0L618.9,629.1L620.1,628.3L621.3,627.4L622.6,626.6L623.8,625.7L625.0,624.8L626.2,624.0L627.4,623.1L628.6,622.2L629.8,621.3L631.0,620.4L632.2,619.5L633.4,618.6L634.6,617.7L635.8,616.8L637.0,615.9L638.1,614.9L639.3,614.0L640.5,613.1L641.6,612.1L642.8,611.2L643.9,610.2L645.1,609.3L646.2,608.3L647.4,607.3L648.5,606.4L649.6,605.4L650.8,604.4L651.9,603.4L653.0,602.4L654.1,601.4L655.2,600.4L656.3,599.4L657.4,598.4L658.5,597.4L659.6,596.4L660.7,595.4L661.8,594.3L662.8,593.3L663.9,592.3L665.0,591.2L666.0,590.2L667.1,589.1L668.1,588.1L669.2,587.0L670.2,585.9L671.2,584.9L672.3,583.8L673.3,582.7L674.3,581.6L675.3,580.5L676.4,579.5L677.4,578.4L678.4,577.3L679.4,576.1L680.4,575.0L681.4,573.9L682.3,572.8L683.3,571.7L684.3,570.6L685.3,569.4L686.3,568.3L687.2,567.2L688.2,566.0L689.1,564.9L690.1,563.7L691.0,562.6L692.0,561.4L692.9,560.3L693.9,559.1L694.8,557.9L695.7,556.8L696.7,555.6L697.6,554.4L698.5,553.2L699.4,552.0L700.3,550.9L701.2,549.7L702.1,548.5L703.0,547.3L703.9,546.1L704.8,544.9L705.7,543.7L706.6,542.4L707.5,541.2L708.4,540.0L709.2,538.8L710.1,537.6L711.0,536.3L711.8,535.1L712.7,533.9L713.5,532.6L714.4,531.4L715.3,530.2L716.1,528.9L716.9,527.7L717.8,526.4L718.6,525.2L719.5,523.9L720.3,522.6L721.1,521.4L721.9,520.1L722.8,518.9L723.6,517.6L724.4,516.3L725.2,515.0L726.0,513.8L726.8,512.5L727.6,511.2L728.4,509.9L729.2,508.6L730.0,507.3L730.8,506.1L731.6,504.8L732.4,503.5L733.1,502.2L733.9,500.9L734.7,499.6L735.5,498.3L736.2,497.0L737.0,495.6L737.8,494.3L738.5,493.0L739.3,491.7L740.1,490.4L740.8,489.1L741.6,487.8L742.3,486.4L743.1,485.1L743.8,483.8L744.5,482.5L745.3,481.1L746.0,479.8L746.8,478.5L747.5,477.1L748.2,475.8L748.9,474.5L749.7,473.1L750.4,471.8L751.1,470.5L751.8,469.1L752.5,467.8L753.3,466.4L754.0,465.1L754.7,463.7L755.4,462.4L756.1,461.0L756.8,459.7L757.5,458.3L758.2,457.0L758.9,455.6L759.6,454.3L760.3,452.9L761.0,451.6L761.7,450.2L762.4,448.8L763.0,447.5L763.7,446.1L764.4,444.8L765.1,443.4L765.8,442.0L766.5,440.7L767.1,439.3L767.8,438.0L768.5,436.6L769.1,435.2L769.8,433.9L770.5,432.5L771.2,431.1L771.8,429.8L772.5,428.4L773.1,427.0L773.8,425.7L774.5,424.3L775.1,422.9L775.8,421.5L776.4,420.2L777.1,418.8L777.7,417.4L778.4,416.1L779.0,414.7L779.7,413.3L780.3,412.0L781.0,410.6L781.6,409.2L782.3,407.9L782.9,406.5L783.6,405.1L784.2,403.7L784.8,402.4L785.5,401.0L786.1,399.6L786.8,398.3L787.4,396.9L788.0,395.5L788.7,394.2L789.3,392.8L789.9,391.4L790.6,390.1L791.2,388.7L791.8,387.4L792.5,386.0L793.1,384.6L793.7,383.3L794.3,381.9L795.0,380.5L795.6,379.2L796.2,377.8L796.8,376.5L797.5,375.1L798.1,373.8L798.7,372.4L799.3,371.0L800.0,369.7L800.6,368.3L801.2,367.0L801.8,365.6L802.5,364.3L803.1,362.9L803.7,361.6L804.3,360.3L804.9,358.9L805.6,357.6L806.2,356.2L806.8,354.9L807.4,353.6L808.0,352.2L808.7,350.9L809.3,349.5L809.9,348.2L810.5,346.9L811.1,345.5L811.8,344.2L812.4,342.9L813.0,341.5L813.6,340.2L814.2,338.9L814.9,337.6L815.5,336.2L816.1,334.9L816.7,333.6L817.3,332.3L818.0,330.9L818.6,329.6L819.2,328.3L819.8,327.0L820.4,325.6L821.1,324.3L821.7,323.0L822.3,321.7L822.9,320.4L823.6,319.0L824.2,317.7L824.8,316.4L825.4,315.1L826.1,313.8L826.7,312.4L827.3,311.1L827.9,309.8L828.6,308.5L829.2,307.2L829.8,305.9L830.5,304.5L831.1,303.2L831.7,301.9L832.3,300.6L833.0,299.3L833.6,298.0L834.2,296.6L834.9,295.3L835.5,294.0L836.1,292.7L836.8,291.4L837.4,290.1L838.1,288.7L838.7,287.4L839.3,286.1L840.0,284.8L840.6,283.5L841.3,282.1L841.9,280.8L842.6,279.5L843.2,278.2L843.8,276.9L844.5,275.5L845.1,274.2L845.8,272.9L846.4,271.6L847.1,270.2L847.8,268.9L848.4,267.6L849.1,266.3L849.7,264.9L850.4,263.6L851.0,262.3L851.7,261.0L852.4,259.6L853.0,258.3L853.7,257.0L854.4,255.6L855.0,254.3L855.7,253.0L856.4,251.6L857.0,250.3L857.7,249.0L858.4,247.6L859.1,246.3L859.7,244.9L860.4,243.6L861.1,242.3L861.8,240.9L862.5,239.6L863.1,238.2L863.8,236.9L864.5,235.5L865.2,234.2L865.9,232.8L866.6,231.5L867.3,230.1L868.0,228.7L868.7,227.4L869.4,226.0L870.1,224.7L870.8,223.3L871.5,221.9L872.2,220.6L872.9,219.2L873.6,217.8L874.4,216.5L875.1,215.1L875.8,213.7L876.5,212.3L877.2,211.0L878.0,209.6L878.7,208.2L879.4,206.8L880.1,205.4L880.9,204.0L881.6,202.6L882.4,201.3L883.1,199.9L883.8,198.5L884.6,197.1L885.3,195.7L886.1,194.3L886.8,192.9L887.6,191.5L888.4,190.1L889.1,188.7L889.9,187.3L890.7,185.9L891.4,184.5L892.2,183.1L893.0,181.7L893.8,180.4L894.6,179.0L895.3,177.6L896.1,176.2L896.9,174.8L897.7,173.5L898.6,172.1L899.4,170.7L900.2,169.4L901.0,168.0L901.8,166.6L902.7,165.3L903.5,164.0L904.3,162.6L905.2,161.3L906.0,159.9L906.9,158.6L907.8,157.3L908.6,156.0L909.5,154.7L910.4,153.4L911.3,152.1L912.2,150.8L913.1,149.5L914.0,148.2L914.9,146.9L915.8,145.7L916.7,144.4L917.6,143.2L918.6,141.9L919.5,140.7L920.5,139.5L921.4,138.3L922.4,137.1L923.3,135.9L924.3,134.7L925.3,133.5L926.3,132.4L927.3,131.2L928.3,130.1L929.3,128.9L930.3,127.8L931.3,126.7L932.4,125.6L933.4,124.5L934.5,123.4L935.5,122.4L936.6,121.3L937.7,120.3L938.7,119.3L939.8,118.2L940.9,117.2L942.0,116.2L943.2,115.3L944.3,114.3L945.4,113.4L946.6,112.4L947.7,111.5L948.9,110.6L950.1,109.7L951.2,108.8L952.4,108.0L953.6,107.1L954.8,106.3L956.0,105.5L957.3,104.7L958.5,103.9L959.8,103.1L961.0,102.4L962.3,101.7L963.6,101.0L964.8,100.3L966.1,99.6L967.4,98.9L968.7,98.3L970.1,97.6L971.4,97.0L972.7,96.4L974.0,95.9L975.4,95.3L976.7,94.8L978.1,94.3L979.4,93.8L980.8,93.3L982.1,92.8L983.5,92.4L984.9,92.0L986.3,91.6L987.6,91.2L989.0,90.8L990.4,90.5L991.8,90.2L993.2,89.9L994.6,89.6L995.9,89.3L997.3,89.1L998.7,88.9L1000.1,88.7L1001.5,88.5L1002.9,88.4L1004.3,88.3L1005.7,88.2L1007.1,88.1L1008.5,88.0L1009.9,88.0L1011.2,88.0L1012.6,88.0L1014.0,88.0L1015.4,88.1L1016.7,88.2L1018.1,88.3L1019.5,88.4L1020.8,88.5L1022.2,88.7L1023.6,88.9L1024.9,89.1L1026.3,89.4L1027.6,89.7L1028.9,90.0L1030.2,90.3L1031.6,90.7L1032.9,91.0L1034.2,91.4L1035.5,91.9L1036.8,92.3L1038.1,92.8L1039.4,93.3L1040.6,93.8L1041.9,94.3L1043.2,94.9L1044.5,95.5L1045.7,96.1L1047.0,96.7L1048.2,97.3L1049.5,98.0L1050.7,98.6L1051.9,99.3L1053.2,100.1L1054.4,100.8L1055.6,101.5L1056.8,102.3L1058.1,103.1L1059.3,103.9L1060.5,104.7L1061.7,105.5L1062.9,106.3L1064.1,107.2L1065.3,108.0L1066.5,108.9L1067.7,109.8L1068.8,110.7L1070.0,111.6L1071.2,112.6L1072.4,113.5L1073.6,114.5L1074.7,115.4L1075.9,116.4L1077.1,117.4L1078.2,118.3L1079.4,119.3L1080.5,120.3L1081.7,121.4L1082.9,122.4L1084.0,123.4L1085.2,124.4L1086.3,125.5L1087.5,126.5L1088.6,127.6L1089.8,128.6L1090.9,129.7L1092.0,130.7L1093.2,131.8L1094.3,132.9L1095.5,133.9L1096.6,135.0L1097.7,136.1L1098.9,137.1L1100.0,138.2L1101.2,139.3L1102.3,140.4L1103.4,141.4L1104.6,142.5L1105.7,143.6L1106.8,144.7L1108.0,145.7L1109.1,146.8L1110.3,147.9L1111.4,148.9L1112.5,150.0L1113.7,151.1L1114.8,152.1L1116.0,153.2L1117.1,154.3L1118.2,155.3L1119.4,156.4L1120.5,157.5L1121.6,158.5L1122.8,159.6L1123.9,160.6L1125.1,161.7L1126.2,162.7L1127.3,163.8L1128.5,164.8L1129.6,165.9L1130.8,166.9L1131.9,168.0L1133.0,169.0L1134.2,170.1L1135.3,171.1L1136.5,172.2L1137.6,173.2L1138.8,174.3L1139.9,175.3L1141.0,176.3L1142.2,177.4L1143.3,178.4L1144.5,179.4L1145.6,180.5L1146.8,181.5L1147.9,182.5L1149.1,183.5L1150.2,184.6L1151.4,185.6L1152.5,186.6L1153.7,187.6L1154.8,188.6L1156.0,189.7L1157.1,190.7L1158.3,191.7L1159.4,192.7L1160.6,193.7L1161.7,194.7L1162.9,195.7L1164.0,196.7L1165.2,197.7L1166.3,198.7L1167.5,199.7L1168.6,200.7L1169.8,201.7L1171.0,202.7L1172.1,203.7L1173.3,204.7L1174.4,205.7L1175.6,206.7L1176.8,207.6L1177.9,208.6L1179.1,209.6L1180.2,210.6L1181.4,211.6L1182.6,212.5L1183.7,213.5L1184.9,214.5L1186.1,215.4L1187.2,216.4L1188.4,217.4L1189.6,218.3L1190.8,219.3L1191.9,220.2L1193.1,221.2L1194.3,222.1L1195.5,223.1L1196.6,224.0L1197.8,225.0L1199.0,225.9L1200.2,226.8L1201.4,227.8L1202.5,228.7L1203.7,229.6L1204.9,230.6L1206.1,231.5L1207.3,232.4L1208.5,233.3L1209.7,234.3L1210.8,235.2L1212.0,236.1L1213.2,237.0L1214.4,237.9L1215.6,238.8L1216.8,239.7L1218.0,240.6L1219.2,241.5L1220.4,242.4L1221.6,243.3L1222.8,244.2L1224.0,245.1L1225.2,246.0L1226.4,246.8L1227.6,247.7L1228.8,248.6L1230.0,249.5L1231.3,250.3L1232.5,251.2L1233.7,252.1L1234.9,252.9L1236.1,253.8L1237.3,254.6L1238.6,255.5L1239.8,256.3L1241.0,257.2L1242.2,258.0L1243.4,258.9L1244.7,259.7L1245.9,260.5L1247.1,261.4L1248.4,262.2L1249.6,263.0L1250.8,263.8L1252.1,264.7L1253.3,265.5L1254.5,266.3L1255.8,267.1L1257.0,267.9L1258.3,268.7L1259.5,269.5L1260.8,270.3L1262.0,271.1L1263.3,271.9L1264.5,272.7L1265.8,273.4L1267.0,274.2L1268.3,275.0L1269.5,275.8L1270.8,276.5L1272.1,277.3L1273.3,278.1L1274.6,278.8L1275.9,279.6L1277.1,280.3L1278.4,281.1L1279.7,281.8L1281.0,282.6L1282.2,283.3L1283.5,284.0L1284.8,284.8L1286.1,285.5L1287.4,286.2L1288.7,286.9L1289.9,287.6L1291.2,288.3L1292.5,289.0L1293.8,289.8L1295.1,290.5L1296.4,291.1L1297.7,291.8L1299.0,292.5L1300.3,293.2L1301.6,293.9L1303.0,294.6L1304.3,295.2L1305.6,295.9L1306.9,296.6L1308.2,297.2L1309.5,297.9L1310.9,298.5L1312.2,299.2L1313.5,299.8L1314.8,300.5L1316.2,301.1L1317.5,301.7L1318.8,302.4L1320.2,303.0L1321.5,303.6L1322.9,304.2L1324.2,304.8L1325.5,305.5L1326.9,306.1L1328.2,306.7L1329.6,307.2L1331.0,307.8L1332.3,308.4L1333.7,309.0L1335.0,309.6L1336.4,310.2L1337.8,310.7L1339.1,311.3L1340.5,311.9L1341.9,312.4L1343.2,313.0L1344.6,313.5L1346.0,314.1L1347.4,314.6L1348.8,315.2L1350.1,315.7L1351.5,316.3L1352.9,316.8L1354.3,317.3L1355.7,317.8L1357.1,318.4L1358.5,318.9L1359.9,319.4L1361.3,319.9L1362.7,320.4L1364.1,320.9L1365.5,321.4L1366.9,321.9L1368.3,322.4L1369.7,322.9L1371.1,323.4L1372.5,323.9L1373.9,324.3L1375.3,324.8L1376.8,325.3L1378.2,325.8L1379.6,326.2L1381.0,326.7L1382.4,327.2L1383.9,327.6L1385.3,328.1L1386.7,328.5L1388.2,329.0L1389.6,329.4L1391.0,329.9L1392.4,330.3L1393.9,330.7L1395.3,331.2L1396.8,331.6L1398.2,332.0L1399.6,332.5L1401.1,332.9L1402.5,333.3L1404.0,333.7L1405.4,334.1L1406.8,334.5L1408.3,335.0L1409.7,335.4L1411.2,335.8L1412.6,336.2L1414.1,336.6L1415.6,337.0L1417.0,337.4L1418.5,337.7L1419.9,338.1L1421.4,338.5L1422.8,338.9L1424.3,339.3L1425.8,339.7L1427.2,340.0L1428.7,340.4L1430.2,340.8L1431.6,341.1L1433.1,341.5L1434.5,341.9L1436.0,342.2L1437.5,342.6L1439.0,343.0L1440.4,343.3L1441.9,343.7L1443.4,344.0L1444.8,344.4L1446.3,344.7L1447.8,345.1L1449.3,345.4L1450.8,345.7L1452.2,346.1L1453.7,346.4L1455.2,346.7L1456.7,347.1L1458.1,347.4L1459.6,347.7L1461.1,348.1L1462.6,348.4L1464.1,348.7L1465.6,349.0L1467.0,349.3L1468.5,349.7L1470.0,350.0L1471.5,350.3L1473.0,350.6L1474.5,350.9L1476.0,351.2L1477.5,351.5L1478.9,351.8L1480.4,352.1L1481.9,352.4L1483.4,352.7L1484.9,353.0L1486.4,353.3L1487.9,353.6L1489.4,353.9L1490.9,354.2L1492.4,354.5L1493.9,354.8L1495.4,355.1L1496.9,355.4L1498.3,355.7L1499.8,355.9L1501.3,356.2L1502.8,356.5L1504.3,356.8L1505.8,357.1L1507.3,357.3L1508.8,357.6L1510.3,357.9L1511.8,358.2L1513.3,358.4L1514.8,358.7L1516.3,359.0L1517.8,359.3L1519.3,359.5L1520.8,359.8L1522.3,360.1L1523.8,360.3L1525.3,360.6L1526.8,360.9L1528.3,361.1L1529.8,361.4L1531.3,361.6L1532.8,361.9L1534.3,362.2L1535.8,362.4L1537.3,362.7L1538.8,362.9L1540.3,363.2L1541.7,363.5L1543.2,363.7L1544.7,364.0L1546.2,364.2L1547.7,364.5L1549.2,364.7L1550.7,365.0L1552.2,365.2L1553.7,365.5L1555.2,365.7L1556.7,366.0L1558.2,366.2L1559.7,366.5L1561.2,366.7L1562.7,367.0L1564.2,367.2L1565.7,367.5L1567.1,367.7L1568.6,368.0L1570.1,368.2L1571.6,368.5L1573.1,368.7L1574.6,369.0L1576.1,369.2L1577.6,369.4L1579.1,369.7L1580.5,369.9L1582.0,370.2L1583.5,370.4L1585.0,370.7L1586.5,370.9L1588.0,371.2L1589.5,371.4L1590.9,371.7L1592.4,371.9L1593.9,372.2L1595.4,372.4L1596.9,372.6L1598.3,372.9L1599.8,373.1L1601.3,373.4L1602.8,373.6L1604.2,373.9L1605.7,374.1L1607.2,374.4L1608.7,374.6L1610.1,374.9L1611.6,375.1L1613.1,375.4L1614.5,375.6L1616.0,375.9L1617.5,376.1L1619.0,376.4L1620.4,376.6L1621.9,376.9L1623.3,377.1L1624.8,377.4L1626.3,377.6L1627.7,377.9L1629.2,378.1L1630.6,378.4L1632.1,378.7L1633.6,378.9L1635.0,379.2L1636.5,379.4L1637.9,379.7L1639.4,379.9L1640.8,380.2L1642.3,380.5L1643.7,380.7L1645.2,381.0L1646.6,381.3L1648.1,381.5L1649.5,381.8L1650.9,382.1L1652.4,382.3L1653.8,382.6L1655.3,382.9L1656.7,383.1L1658.1,383.4L1659.6,383.7L1661.0,384.0L1659.8,384.7L1658.5,385.4L1657.2,386.1L1656.0,386.8L1654.7,387.4L1653.4,388.1L1652.1,388.7L1650.8,389.3L1649.5,389.9L1648.1,390.5L1646.8,391.0L1645.5,391.6L1644.1,392.1L1642.8,392.7L1641.5,393.2L1640.1,393.7L1638.7,394.2L1637.4,394.7L1636.0,395.2L1634.6,395.7L1633.2,396.1L1631.8,396.6L1630.4,397.0L1629.0,397.4L1627.6,397.9L1626.2,398.3L1624.8,398.7L1623.4,399.1L1622.0,399.4L1620.5,399.8L1619.1,400.2L1617.7,400.5L1616.2,400.9L1614.8,401.2L1613.3,401.5L1611.9,401.9L1610.4,402.2L1608.9,402.5L1607.5,402.8L1606.0,403.1L1604.5,403.4L1603.1,403.7L1601.6,403.9L1600.1,404.2L1598.6,404.5L1597.2,404.7L1595.7,405.0L1594.2,405.2L1592.7,405.5L1591.2,405.7L1589.7,406.0L1588.2,406.2L1586.7,406.4L1585.2,406.6L1583.7,406.8L1582.2,407.1L1580.7,407.3L1579.2,407.5L1577.7,407.7L1576.2,407.9L1574.7,408.1L1573.2,408.3L1571.6,408.5L1570.1,408.6L1568.6,408.8L1567.1,409.0L1565.6,409.2L1564.1,409.4L1562.6,409.6L1561.1,409.7L1559.6,409.9L1558.0,410.1L1556.5,410.3L1555.0,410.5L1553.5,410.6L1552.0,410.8L1550.5,411.0L1549.0,411.2L1547.5,411.4L1546.0,411.5L1544.5,411.7L1543.0,411.9L1541.5,412.1L1540.0,412.2L1538.5,412.4L1537.0,412.6L1535.5,412.8L1534.0,412.9L1532.5,413.1L1531.0,413.3L1529.5,413.5L1528.0,413.6L1526.5,413.8L1525.0,414.0L1523.5,414.2L1522.0,414.3L1520.5,414.5L1519.0,414.7L1517.5,414.9L1516.0,415.0L1514.5,415.2L1513.1,415.4L1511.6,415.6L1510.1,415.7L1508.6,415.9L1507.1,416.1L1505.6,416.3L1504.1,416.4L1502.6,416.6L1501.1,416.8L1499.7,417.0L1498.2,417.1L1496.7,417.3L1495.2,417.5L1493.7,417.6L1492.2,417.8L1490.7,418.0L1489.3,418.2L1487.8,418.3L1486.3,418.5L1484.8,418.7L1483.3,418.8L1481.8,419.0L1480.3,419.2L1478.9,419.4L1477.4,419.5L1475.9,419.7L1474.4,419.9L1472.9,420.0L1471.5,420.2L1470.0,420.4L1468.5,420.5L1467.0,420.7L1465.5,420.9L1464.0,421.0L1462.6,421.2L1461.1,421.4L1459.6,421.6L1458.1,421.7L1456.6,421.9L1455.2,422.1L1453.7,422.2L1452.2,422.4L1450.7,422.6L1449.2,422.7L1447.8,422.9L1446.3,423.1L1444.8,423.2L1443.3,423.4L1441.8,423.6L1440.4,423.7L1438.9,423.9L1437.4,424.1L1435.9,424.2L1434.4,424.4L1433.0,424.5L1431.5,424.7L1430.0,424.9L1428.5,425.0L1427.0,425.2L1425.6,425.4L1424.1,425.5L1422.6,425.7L1421.1,425.9L1419.6,426.0L1418.1,426.2L1416.7,426.3L1415.2,426.5L1413.7,426.7L1412.2,426.8L1410.7,427.0L1409.2,427.1L1407.8,427.3L1406.3,427.5L1404.8,427.6L1403.3,427.8L1401.8,428.0L1400.3,428.1L1398.8,428.3L1397.4,428.4L1395.9,428.6L1394.4,428.7L1392.9,428.9L1391.4,429.1L1389.9,429.2L1388.4,429.4L1386.9,429.5L1385.5,429.7L1384.0,429.9L1382.5,430.0L1381.0,430.2L1379.5,430.3L1378.0,430.5L1376.5,430.6L1375.0,430.8L1373.5,430.9L1372.0,431.1L1370.5,431.3L1369.0,431.4L1367.5,431.6L1366.1,431.7L1364.6,431.9L1363.1,432.0L1361.6,432.2L1360.1,432.3L1358.6,432.5L1357.1,432.6L1355.6,432.8L1354.1,433.0L1352.6,433.1L1351.1,433.3L1349.6,433.4L1348.1,433.6L1346.6,433.7L1345.1,433.9L1343.6,434.0L1342.1,434.2L1340.6,434.4L1339.1,434.5L1337.6,434.7L1336.0,434.8L1334.5,435.0L1333.0,435.1L1331.5,435.3L1330.0,435.5L1328.5,435.6L1327.0,435.8L1325.5,435.9L1324.0,436.1L1322.5,436.3L1321.0,436.4L1319.5,436.6L1318.0,436.8L1316.5,436.9L1315.0,437.1L1313.5,437.3L1312.0,437.5L1310.5,437.6L1309.0,437.8L1307.5,438.0L1306.0,438.2L1304.5,438.3L1303.0,438.5L1301.5,438.7L1300.0,438.9L1298.4,439.1L1296.9,439.2L1295.4,439.4L1293.9,439.6L1292.4,439.8L1290.9,440.0L1289.4,440.2L1287.9,440.4L1286.4,440.6L1284.9,440.8L1283.4,441.0L1281.9,441.2L1280.4,441.4L1278.9,441.6L1277.4,441.8L1275.9,442.0L1274.4,442.2L1272.9,442.4L1271.4,442.6L1269.9,442.9L1268.4,443.1L1267.0,443.3L1265.5,443.5L1264.0,443.8L1262.5,444.0L1261.0,444.2L1259.5,444.4L1258.0,444.7L1256.5,444.9L1255.0,445.2L1253.5,445.4L1252.0,445.6L1250.5,445.9L1249.0,446.1L1247.6,446.4L1246.1,446.7L1244.6,446.9L1243.1,447.2L1241.6,447.4L1240.1,447.7L1238.7,448.0L1237.2,448.3L1235.7,448.5L1234.2,448.8L1232.7,449.1L1231.3,449.4L1229.8,449.7L1228.3,450.0L1226.8,450.2L1225.3,450.5L1223.9,450.8L1222.4,451.1L1220.9,451.5L1219.5,451.8L1218.0,452.1L1216.5,452.4L1215.0,452.7L1213.6,453.0L1212.1,453.4L1210.7,453.7L1209.2,454.0L1207.7,454.4L1206.3,454.7L1204.8,455.1L1203.3,455.4L1201.9,455.8L1200.4,456.1L1199.0,456.5L1197.5,456.8L1196.1,457.2L1194.6,457.6L1193.2,458.0L1191.7,458.3L1190.3,458.7L1188.8,459.1L1187.4,459.5L1185.9,459.9L1184.5,460.3L1183.1,460.7L1181.6,461.1L1180.2,461.5L1178.7,462.0L1177.3,462.4L1175.9,462.8L1174.4,463.2L1173.0,463.7L1171.6,464.1L1170.2,464.6L1168.7,465.0L1167.3,465.5L1165.9,465.9L1164.5,466.4L1163.1,466.8L1161.6,467.3L1160.2,467.8L1158.8,468.3L1157.4,468.8L1156.0,469.3L1154.6,469.8L1153.2,470.3L1151.8,470.8L1150.4,471.3L1149.0,471.8L1147.6,472.3L1146.2,472.8L1144.8,473.4L1143.4,473.9L1142.0,474.5L1140.6,475.0L1139.2,475.5L1137.8,476.1L1136.4,476.7L1135.1,477.2L1133.7,477.8L1132.3,478.4L1130.9,479.0L1129.6,479.5L1128.2,480.1L1126.8,480.7L1125.5,481.3L1124.1,481.9L1122.8,482.6L1121.4,483.2L1120.1,483.8L1118.7,484.4L1117.4,485.1L1116.0,485.7L1114.7,486.3L1113.3,487.0L1112.0,487.6L1110.7,488.3L1109.3,489.0L1108.0,489.6L1106.7,490.3L1105.4,491.0L1104.0,491.7L1102.7,492.4L1101.4,493.1L1100.1,493.8L1098.8,494.5L1097.5,495.2L1096.2,495.9L1094.9,496.6L1093.6,497.4L1092.3,498.1L1091.0,498.9L1089.8,499.6L1088.5,500.4L1087.2,501.1L1085.9,501.9L1084.7,502.7L1083.4,503.4L1082.1,504.2L1080.9,505.0L1079.6,505.8L1078.4,506.6L1077.1,507.4L1075.9,508.2L1074.7,509.0L1073.4,509.8L1072.2,510.7L1071.0,511.5L1069.7,512.3L1068.5,513.2L1067.3,514.0L1066.1,514.9L1064.9,515.8L1063.7,516.6L1062.5,517.5L1061.3,518.4L1060.1,519.3L1058.9,520.2L1057.7,521.1L1056.5,522.0L1055.4,522.9L1054.2,523.8L1053.0,524.7L1051.9,525.7L1050.7,526.6L1049.6,527.5L1048.4,528.5L1047.3,529.4L1046.1,530.4L1045.0,531.4L1043.9,532.3L1042.8,533.3L1041.6,534.3L1040.5,535.3L1039.4,536.3L1038.3,537.3L1037.2,538.3L1036.1,539.3L1035.0,540.3L1033.9,541.4L1032.8,542.4L1031.8,543.4L1030.7,544.5L1029.6,545.5L1028.5,546.6L1027.5,547.6L1026.4,548.7L1025.4,549.7L1024.3,550.8L1023.3,551.9L1022.2,553.0L1021.2,554.1L1020.1,555.1L1019.1,556.2L1018.1,557.3L1017.0,558.4L1016.0,559.5L1015.0,560.7L1014.0,561.8L1013.0,562.9L1012.0,564.0L1011.0,565.1L1010.0,566.3L1009.0,567.4L1008.0,568.5L1007.0,569.7L1006.0,570.8L1005.0,572.0L1004.1,573.1L1003.1,574.3L1002.1,575.4L1001.1,576.6L1000.2,577.8L999.2,578.9L998.3,580.1L997.3,581.3L996.4,582.5L995.4,583.6L994.5,584.8L993.5,586.0L992.6,587.2L991.6,588.4L990.7,589.6L989.8,590.8L988.9,592.0L987.9,593.2L987.0,594.4L986.1,595.6L985.2,596.8L984.3,598.0L983.4,599.2L982.4,600.4L981.5,601.7L980.6,602.9L979.7,604.1L978.8,605.3L978.0,606.5L977.1,607.8L976.2,609.0L975.3,610.2L974.4,611.4L973.5,612.7L972.7,613.9L971.8,615.1L970.9,616.4L970.0,617.6L969.2,618.8L968.3,620.1L967.4,621.3L966.6,622.6L965.7,623.8L964.9,625.1L964.0,626.3L963.2,627.6L962.3,628.8L961.5,630.1L960.6,631.3L959.8,632.6L959.0,633.8L958.1,635.1L957.3,636.3L956.5,637.6L955.6,638.9L954.8,640.1L954.0,641.4L953.1,642.7L952.3,643.9L951.5,645.2L950.7,646.5L949.9,647.7L949.1,649.0L948.3,650.3L947.5,651.5L946.7,652.8L945.8,654.1L945.0,655.4L944.2,656.7L943.5,657.9L942.7,659.2L941.9,660.5L941.1,661.8L940.3,663.1L939.5,664.4L938.7,665.6L937.9,666.9L937.2,668.2L936.4,669.5L935.6,670.8L934.8,672.1L934.0,673.4L933.3,674.7L932.5,676.0L931.7,677.3L931.0,678.6L930.2,679.9L929.5,681.2L928.7,682.5L927.9,683.8L927.2,685.1L926.4,686.4L925.7,687.7L924.9,689.0L924.2,690.3L923.4,691.6L922.7,692.9L921.9,694.2L921.2,695.5L920.4,696.8L919.7,698.1L919.0,699.5L918.2,700.8L917.5,702.1L916.8,703.4L916.0,704.7L915.3,706.0L914.6,707.3L913.8,708.7L913.1,710.0L912.4,711.3L911.7,712.6L910.9,713.9L910.2,715.2L909.5,716.6L908.8,717.9L908.1,719.2L907.3,720.5L906.6,721.8L905.9,723.2L905.2,724.5L904.5,725.8L903.8,727.1L903.1,728.5L902.4,729.8L901.7,731.1L901.0,732.4L900.3,733.8L899.6,735.1L898.9,736.4L898.2,737.7L897.5,739.1L896.8,740.4L896.1,741.7L895.4,743.1L894.7,744.4L894.0,745.7L893.3,747.1L892.6,748.4L891.9,749.7L891.2,751.0L890.5,752.4L889.9,753.7L889.2,755.0L888.5,756.4L887.8,757.7L887.1,759.0L886.4,760.4L885.8,761.7L885.1,763.0L884.4,764.4L883.7,765.7L883.0,767.0L882.4,768.4L881.7,769.7L881.0,771.0L880.3,772.4L879.7,773.7L879.0,775.0L878.3,776.4L877.6,777.7L877.0,779.0L876.3,780.4L875.6,781.7L875.0,783.0L874.3,784.4L873.6,785.7L873.0,787.0L872.3,788.4L871.6,789.7L871.0,791.0L870.3,792.4L869.6,793.7L869.0,795.0L868.3,796.4L867.6,797.7L867.0,799.0L866.3,800.4L865.7,801.7L865.0,803.0L864.3,804.3L863.7,805.7L863.0,807.0L862.4,808.3L861.7,809.7L861.0,811.0L860.4,812.3L859.7,813.7L859.1,815.0L858.4,816.3L857.7,817.6L857.1,819.0L856.4,820.3L855.8,821.6L855.1,822.9L854.5,824.3L853.8,825.6L853.1,826.9L852.5,828.2L851.8,829.6L851.2,830.9L850.5,832.2L849.9,833.5L849.2,834.9L848.5,836.2L847.9,837.5L847.2,838.8L846.6,840.1L845.9,841.5L845.3,842.8L844.6,844.1L844.0,845.4L843.3,846.7L842.6,848.1L842.0,849.4L841.3,850.7L840.7,852.0L840.0,853.3L839.4,854.6L838.7,855.9L838.0,857.3L837.4,858.6L836.7,859.9L836.1,861.2L835.4,862.5L834.7,863.8L834.1,865.1L833.4,866.5L832.8,867.8L832.1,869.1L831.4,870.4L830.8,871.7L830.1,873.0L829.4,874.3L828.8,875.7L828.1,877.0L827.4,878.3L826.8,879.6L826.1,880.9L825.4,882.2L824.8,883.5L824.1,884.9L823.4,886.2L822.8,887.5L822.1,888.8L821.4,890.1L820.7,891.5L820.1,892.8L819.4,894.1L818.7,895.4L818.0,896.7L817.3,898.1L816.7,899.4L816.0,900.7L815.3,902.0L814.6,903.3L813.9,904.7L813.2,906.0L812.6,907.3L811.9,908.6L811.2,910.0L810.5,911.3L809.8,912.6L809.1,914.0L808.4,915.3L807.7,916.6L807.0,918.0L806.3,919.3L805.6,920.6L804.9,922.0L804.2,923.3L803.5,924.7L802.8,926.0L802.1,927.3L801.4,928.7L800.7,930.0L800.0,931.4L799.2,932.7L798.5,934.1L797.8,935.4L797.1,936.8L796.4,938.1L795.6,939.5L794.9,940.8L794.2,942.2L793.5,943.6L792.7,944.9L792.0,946.3L791.3,947.7L790.5,949.0L789.8,950.4L789.0,951.8L788.3,953.1L787.6,954.5L786.8,955.9L786.1,957.3L785.3,958.6L784.6,960.0L783.8,961.4L783.1,962.8L782.3,964.2L781.5,965.6L780.8,967.0L780.0,968.3L779.2,969.7L778.5,971.1L777.7,972.5L776.9,973.9L776.1,975.3L775.3,976.7L774.6,978.1L773.8,979.5L773.0,980.8L772.2,982.2L771.4,983.6L770.6,985.0L769.7,986.3L768.9,987.7L768.1,989.1L767.3,990.4L766.4,991.8L765.6,993.1L764.8,994.5L763.9,995.8L763.1,997.1L762.2,998.4L761.3,999.8L760.5,1001.1L759.6,1002.4L758.7,1003.6L757.8,1004.9L756.9,1006.2L756.0,1007.5L755.1,1008.7L754.2,1010.0L753.3,1011.2L752.4,1012.4L751.4,1013.6L750.5,1014.8L749.5,1016.0L748.6,1017.2L747.6,1018.3L746.6,1019.5L745.6,1020.6L744.6,1021.7L743.6,1022.8L742.6,1023.9L741.6,1025.0L740.6,1026.1L739.6,1027.1L738.5,1028.2L737.5,1029.2L736.4,1030.2L735.3,1031.2L734.3,1032.1L733.2,1033.1L732.1,1034.0L731.0,1034.9L729.8,1035.8L728.7,1036.7L727.6,1037.5L726.4,1038.4L725.3,1039.2L724.1,1040.0L722.9,1040.7L721.7,1041.5L720.5,1042.2L719.3,1042.9L718.0,1043.6L716.8,1044.3L715.6,1044.9L714.3,1045.5L713.0,1046.1L711.7,1046.7L710.4,1047.2L709.1,1047.8L707.8,1048.3L706.4,1048.7L705.1,1049.2L703.7,1049.6L702.4,1050.0L701.0,1050.3L699.6,1050.7L698.2,1051.0L696.8,1051.3L695.4,1051.5L693.9,1051.8L692.5,1052.0L691.1,1052.1L689.6,1052.3L688.2,1052.4L686.7,1052.5L685.3,1052.5L683.8,1052.6L682.4,1052.6L680.9,1052.5L679.5,1052.5L678.0,1052.4L676.5,1052.2L675.1,1052.1L673.6,1051.9L672.2,1051.7L670.8,1051.4L669.3,1051.1L667.9,1050.8L666.5,1050.5L665.0,1050.1L663.6,1049.7L662.2,1049.2L660.8,1048.8L659.4,1048.3L658.0,1047.8L656.6,1047.3L655.2,1046.7L653.8,1046.1L652.5,1045.5L651.1,1044.9L649.7,1044.3L648.4,1043.7L647.1,1043.0L645.7,1042.3L644.4,1041.6L643.1,1040.9L641.7,1040.2L640.4,1039.5L639.1,1038.8L637.8,1038.0L636.6,1037.2L635.3,1036.5L634.0,1035.7L632.7,1034.9L631.5,1034.1L630.2,1033.3L629.0,1032.5L627.7,1031.6L626.5,1030.8L625.2,1029.9L624.0,1029.1L622.8,1028.2L621.6,1027.3L620.3,1026.4L619.1,1025.5L617.9,1024.6L616.7,1023.7L615.5,1022.8L614.3,1021.9L613.1,1021.0L612.0,1020.0L610.8,1019.1L609.6,1018.1L608.4,1017.2L607.2,1016.2L606.1,1015.3L604.9,1014.3L603.7,1013.3L602.6,1012.3L601.4,1011.4L600.3,1010.4L599.1,1009.4L598.0,1008.4L596.8,1007.4L595.7,1006.4L594.5,1005.4L593.4,1004.4L592.2,1003.4L591.1,1002.4L589.9,1001.4L588.8,1000.4L587.6,999.4L586.5,998.4L585.3,997.3L584.2,996.3L583.1,995.3L581.9,994.3L580.8,993.3L579.6,992.3L578.5,991.3L577.3,990.3L576.2,989.3L575.0,988.2L573.9,987.2L572.7,986.2L571.6,985.2L570.4,984.2L569.3,983.3L568.1,982.3L567.0,981.3L565.8,980.3L564.7,979.3L563.5,978.3L562.3,977.4L561.2,976.4L560.0,975.4L558.8,974.4L557.6,973.5L556.5,972.5L555.3,971.6L554.1,970.6L552.9,969.7L551.7,968.7L550.6,967.8L549.4,966.8L548.2,965.9L547.0,964.9L545.8,964.0L544.6,963.1L543.4,962.1L542.2,961.2L541.0,960.3L539.8,959.4L538.6,958.5L537.4,957.5L536.2,956.6L535.0,955.7L533.8,954.8L532.6,953.9L531.4,953.0L530.2,952.1L528.9,951.2L527.7,950.3L526.5,949.4L525.3,948.6L524.1,947.7L522.8,946.8L521.6,945.9L520.4,945.0L519.2,944.2L517.9,943.3L516.7,942.4L515.5,941.6L514.2,940.7L513.0,939.9L511.8,939.0L510.5,938.2L509.3,937.3L508.0,936.5L506.8,935.6L505.5,934.8L504.3,933.9L503.0,933.1L501.8,932.3L500.5,931.4L499.3,930.6L498.0,929.8L496.8,929.0L495.5,928.2L494.3,927.3L493.0,926.5L491.7,925.7L490.5,924.9L489.2,924.1L487.9,923.3L486.7,922.5L485.4,921.7L484.1,920.9L482.8,920.1L481.6,919.3L480.3,918.6L479.0,917.8L477.7,917.0L476.4,916.2L475.2,915.5L473.9,914.7L472.6,913.9L471.3,913.1L470.0,912.4L468.7,911.6L467.4,910.9L466.1,910.1L464.8,909.4L463.5,908.6L462.3,907.9L461.0,907.1L459.6,906.4L458.3,905.6L457.0,904.9L455.7,904.2L454.4,903.4L453.1,902.7L451.8,902.0L450.5,901.3L449.2,900.5L447.9,899.8L446.6,899.1L445.2,898.4L443.9,897.7L442.6,897.0L441.3,896.3L440.0,895.6L438.6,894.9L437.3,894.2L436.0,893.5L434.7,892.8L433.3,892.1L432.0,891.4L430.7,890.7L429.4,890.0L428.0,889.4L426.7,888.7L425.3,888.0L424.0,887.3L422.7,886.7L421.3,886.0L420.0,885.3L418.6,884.7L417.3,884.0L416.0,883.4L414.6,882.7L413.3,882.1L411.9,881.4L410.6,880.8L409.2,880.1L407.9,879.5L406.5,878.8L405.2,878.2L403.8,877.6L402.4,876.9L401.1,876.3L399.7,875.7L398.4,875.1L397.0,874.4L395.6,873.8L394.3,873.2L392.9,872.6L391.5,872.0L390.2,871.4L388.8,870.8L387.4,870.2L386.1,869.6L384.7,869.0L383.3,868.4L381.9,867.8L380.6,867.2L379.2,866.6L377.8,866.0L376.4,865.4L375.0,864.8L373.7,864.3L372.3,863.7L370.9,863.1L369.5,862.5L368.1,862.0L366.7,861.4L365.3,860.8L364.0,860.3L362.6,859.7L361.2,859.2L359.8,858.6L358.4,858.0L357.0,857.5L355.6,856.9L354.2,856.4L352.8,855.9L351.4,855.3L350.0,854.8L348.6,854.2L347.2,853.7L345.8,853.2L344.4,852.6L343.0,852.1L341.6,851.6L340.2,851.1L338.8,850.5L337.4,850.0L336.0,849.5L334.5,849.0L333.1,848.5L331.7,848.0L330.3,847.5L328.9,847.0L327.5,846.5L326.1,846.0L324.6,845.5L323.2,845.0L321.8,844.5L320.4,844.0L319.0,843.5L317.5,843.0L316.1,842.5L314.7,842.1L313.3,841.6L311.8,841.1L310.4,840.6L309.0,840.2L307.6,839.7L306.1,839.2L304.7,838.7L303.3,838.3L301.8,837.8L300.4,837.4L299.0,836.9L297.5,836.5L296.1,836.0L294.7,835.6L293.2,835.1L291.8,834.7L290.3,834.2L288.9,833.8L287.5,833.3L286.0,832.9L284.6,832.5L283.1,832.0L281.7,831.6L280.3,831.2L278.8,830.7L277.4,830.3L275.9,829.9L274.5,829.5L273.0,829.1L271.6,828.6L270.1,828.2L268.7,827.8L267.2,827.4L265.8,827.0L264.3,826.6L262.9,826.2L261.4,825.8L260.0,825.4L258.5,825.0" stroke="#ff0000" stroke-width="6.5"/>
<path d="M290.0,2536.0L291.0,2536.0L292.0,2536.0L293.0,2536.0L294.0,2536.0L295.0,2536.0L296.0,2536.0L297.0,2536.0L298.0,2536.0L299.0,2536.0L300.0,2536.0L301.0,2536.0L302.0,2536.0L303.0,2536.0L304.0,2536.1L305.0,2536.1L306.0,2536.1L307.0,2536.1L308.0,2536.1L309.0,2536.1L310.0,2536.1L311.0,2536.1L312.0,2536.1L313.0,2536.1L314.0,2536.1L315.0,2536.1L316.0,2536.1L317.0,2536.1L318.0,2536.1L319.0,2536.1L320.0,2536.1L321.0,2536.1L322.0,2536.1L323.0,2536.1L324.0,2536.1L325.0,2536.1L326.0,2536.1L327.0,2536.1L328.0,2536.1L329.0,2536.1L330.0,2536.1L331.0,2536.1L332.0,2536.0L333.0,2536.0L334.0,2536.0L335.0,2536.0L336.0,2536.0L337.0,2536.0L338.0,2536.0L339.0,2535.9L340.0,2535.9L341.0,2535.9L342.0,2535.9L343.0,2535.9L344.0,2535.8L345.0,2535.8L346.0,2535.8L347.0,2535.7L348.0,2535.7L349.0,2535.7L350.0,2535.6L351.0,2535.6L352.0,2535.6L353.0,2535.5L354.0,2535.5L355.0,2535.4L356.0,2535.4L357.0,2535.3L358.0,2535.3L359.0,2535.2L360.0,2535.2L361.0,2535.1L362.0,2535.1L363.0,2535.0L364.0,2535.0L365.0,2534.9L366.0,2534.8L367.0,2534.8L368.0,2534.7L369.0,2534.6L370.0,2534.5L371.0,2534.5L372.0,2534.4L373.0,2534.3L374.0,2534.2L375.0,2534.1L376.0,2534.0L377.0,2533.9L378.0,2533.8L379.0,2533.7L380.0,2533.6L381.0,2533.5L382.0,2533.4L383.0,2533.3L384.0,2533.2L385.0,2533.1L386.0,2533.0L387.0,2532.8L388.0,2532.7L389.0,2532.6L390.0,2532.5L391.0,2532.3L392.0,2532.2L393.0,2532.0L394.0,2531.9L395.0,2531.7L396.0,2531.6L397.0,2531.4L398.0,2531.3L399.0,2531.1L400.0,2531.0L401.0,2530.8L402.0,2530.6L403.0,2530.4L404.0,2530.3L405.0,2530.1L406.0,2529.9L407.0,2529.7L408.0,2529.5L409.0,2529.3L410.0,2529.1L411.0,2528.9L412.0,2528.7L413.0,2528.5L414.0,2528.3L415.0,2528.0L416.0,2527.8L417.0,2527.6L418.0,2527.4L419.0,2527.1L420.0,2526.9L421.0,2526.6L422.0,2526.4L423.0,2526.1L424.0,2525.9L425.0,2525.6L426.0,2525.3L427.0,2525.1L428.0,2524.8L429.0,2524.5L430.0,2524.2L431.0,2523.9L432.0,2523.6L433.0,2523.3L434.0,2523.0L435.0,2522.7L436.0,2522.4L437.0,2522.1L438.0,2521.8L439.0,2521.4L440.0,2521.1L441.0,2520.8L442.0,2520.4L443.0,2520.1L444.0,2519.7L445.0,2519.4L446.0,2519.0L447.0,2518.6L448.0,2518.2L449.0,2517.9L450.0,2517.5L451.0,2517.1L452.0,2516.7L453.0,2516.3L454.0,2515.9L455.0,2515.5L456.0,2515.1L457.0,2514.6L458.0,2514.2L459.0,2513.8L460.0,2513.3L461.0,2512.9L462.0,2512.4L463.0,2512.0L464.0,2511.5L465.0,2511.0L466.0,2510.6L467.0,2510.1L468.0,2509.6L469.0,2509.1L470.0,2508.6L471.0,2508.1L472.0,2507.6L473.0,2507.1L474.0,2506.6L475.0,2506.0L476.0,2505.5L477.0,2505.0L478.0,2504.4L479.0,2503.9L480.0,2503.3L481.0,2502.7L482.0,2502.2L483.0,2501.6L484.0,2501.0L485.0,2500.4L486.0,2499.8L487.0,2499.2L488.0,2498.6L489.0,2498.0L490.0,2497.3L491.0,2496.7L492.0,2496.1L493.0,2495.4L494.0,2494.8L495.0,2494.1L496.0,2493.5L497.0,2492.8L498.0,2492.1L499.0,2491.4L500.0,2490.7L501.0,2490.0L502.0,2489.3L503.0,2488.6L504.0,2487.9L505.0,2487.2L506.0,2486.4L507.0,2485.7L508.0,2484.9L509.0,2484.2L510.0,2483.4L511.0,2482.6L512.0,2481.9L513.0,2481.1L514.0,2480.3L515.0,2479.5L516.0,2478.7L517.0,2477.9L518.0,2477.1L519.0,2476.2L520.0,2475.4L521.0,2474.6L522.0,2473.7L523.0,2472.8L524.0,2472.0L525.0,2471.1L526.0,2470.2L527.0,2469.3L528.0,2468.4L529.0,2467.5L530.0,2466.6L531.0,2465.7L532.0,2464.8L533.0,2463.8L534.0,2462.9L535.0,2461.9L536.0,2461.0L537.0,2460.0L538.0,2459.1L539.0,2458.1L540.0,2457.1L541.0,2456.1L542.0,2455.1L543.0,2454.1L544.0,2453.0L545.0,2452.0L546.0,2451.0L547.0,2449.9L548.0,2448.9L549.0,2447.8L550.0,2446.7L551.0,2445.7L552.0,2444.6L553.0,2443.5L554.0,2442.4L555.0,2441.3L556.0,2440.1L557.0,2439.0L558.0,2437.9L559.0,2436.7L560.0,2435.6L561.0,2434.4L562.0,2433.2L563.0,2432.1L564.0,2430.9L565.0,2429.7L566.0,2428.5L567.0,2427.2L568.0,2426.0L569.0,2424.8L570.0,2423.5L571.0,2422.3L572.0,2421.0L573.0,2419.8L574.0,2418.5L575.0,2417.2L576.0,2415.9L577.0,2414.6L578.0,2413.3L579.0,2411.9L580.0,2410.6L581.0,2409.3L582.0,2407.9L583.0,2406.5L584.0,2405.2L585.0,2403.8L586.0,2402.4L587.0,2401.0L588.0,2399.6L589.0,2398.1L590.0,2396.7L591.0,2395.3L592.0,2393.8L593.0,2392.3L594.0,2390.9L595.0,2389.4L596.0,2387.9L597.0,2386.4L598.0,2384.8L599.0,2383.3L600.0,2381.8L601.0,2380.2L602.0,2378.6L603.0,2377.1L604.0,2375.5L605.0,2373.9L606.0,2372.3L607.0,2370.7L608.0,2369.0L609.0,2367.4L610.0,2365.7L611.0,2364.1L612.0,2362.4L613.0,2360.7L614.0,2359.0L615.0,2357.3L616.0,2355.6L617.0,2353.8L618.0,2352.1L619.0,2350.3L620.0,2348.5L621.0,2346.8L622.0,2345.0L623.0,2343.2L624.0,2341.3L625.0,2339.5L626.0,2337.7L627.0,2335.8L628.0,2333.9L629.0,2332.0L630.0,2330.2L631.0,2328.2L632.0,2326.3L633.0,2324.4L634.0,2322.4L635.0,2320.5L636.0,2318.5L637.0,2316.5L638.0,2314.5L639.0,2312.5L640.0,2310.5L641.0,2308.5L642.0,2306.5L643.0,2304.4L644.0,2302.4L645.0,2300.3L646.0,2298.2L647.0,2296.1L648.0,2294.0L649.0,2291.9L650.0,2289.8L651.0,2287.7L652.0,2285.6L653.0,2283.4L654.0,2281.3L655.0,2279.1L656.0,2276.9L657.0,2274.7L658.0,2272.6L659.0,2270.4L660.0,2268.2L661.0,2265.9L662.0,2263.7L663.0,2261.5L664.0,2259.3L665.0,2257.0L666.0,2254.8L667.0,2252.5L668.0,2250.3L669.0,2248.0L670.0,2245.7L671.0,2243.4L672.0,2241.2L673.0,2238.9L674.0,2236.6L675.0,2234.3L676.0,2232.0L677.0,2229.6L678.0,2227.3L679.0,2225.0L680.0,2222.7L681.0,2220.3L682.0,2218.0L683.0,2215.7L684.0,2213.3L685.0,2211.0L686.0,2208.6L687.0,2206.3L688.0,2203.9L689.0,2201.5L690.0,2199.2L691.0,2196.8L692.0,2194.4L693.0,2192.0L694.0,2189.7L695.0,2187.3L696.0,2184.9L697.0,2182.5L698.0,2180.1L699.0,2177.7L700.0,2175.4L701.0,2173.0L702.0,2170.6L703.0,2168.2L704.0,2165.8L705.0,2163.4L706.0,2161.0L707.0,2158.6L708.0,2156.2L709.0,2153.8L710.0,2151.4L711.0,2149.0L712.0,2146.6L713.0,2144.2L714.0,2141.8L715.0,2139.4L716.0,2137.1L717.0,2134.7L718.0,2132.3L719.0,2129.9L720.0,2127.5L721.0,2125.1L722.0,2122.8L723.0,2120.4L724.0,2118.0L725.0,2115.7L726.0,2113.3L727.0,2111.0L728.0,2108.6L729.0,2106.3L730.0,2103.9L731.0,2101.6L732.0,2099.3L733.0,2097.0L734.0,2094.7L735.0,2092.4L736.0,2090.1L737.0,2087.8L738.0,2085.5L739.0,2083.2L740.0,2080.9L741.0,2078.7L742.0,2076.4L743.0,2074.2L744.0,2072.0L745.0,2069.8L746.0,2067.5L747.0,2065.3L748.0,2063.2L749.0,2061.0L750.0,2058.8L751.0,2056.7L752.0,2054.5L753.0,2052.4L754.0,2050.3L755.0,2048.1L756.0,2046.1L757.0,2044.0L758.0,2041.9L759.0,2039.8L760.0,2037.8L761.0,2035.8L762.0,2033.8L763.0,2031.8L764.0,2029.8L765.0,2027.8L766.0,2025.9L767.0,2023.9L768.0,2022.0L769.0,2020.1L770.0,2018.2L771.0,2016.3L772.0,2014.5L773.0,2012.6L774.0,2010.8L775.0,2009.0L776.0,2007.2L777.0,2005.5L778.0,2003.7L779.0,2002.0L780.0,2000.3L781.0,1998.6L782.0,1996.9L783.0,1995.3L784.0,1993.7L785.0,1992.1L786.0,1990.5L787.0,1988.9L788.0,1987.4L789.0,1985.8L790.0,1984.3L791.0,1982.9L792.0,1981.4L793.0,1980.0L794.0,1978.5L795.0,1977.1L796.0,1975.8L797.0,1974.4L798.0,1973.1L799.0,1971.8L800.0,1970.5L801.0,1969.2L802.0,1968.0L803.0,1966.7L804.0,1965.5L805.0,1964.4L806.0,1963.2L807.0,1962.1L808.0,1961.0L809.0,1959.9L810.0,1958.8L811.0,1957.8L812.0,1956.7L813.0,1955.7L814.0,1954.8L815.0,1953.8L816.0,1952.9L817.0,1952.0L818.0,1951.1L819.0,1950.2L820.0,1949.4L821.0,1948.5L822.0,1947.7L823.0,1947.0L824.0,1946.2L825.0,1945.5L826.0,1944.8L827.0,1944.1L828.0,1943.4L829.0,1942.8L830.0,1942.2L831.0,1941.6L832.0,1941.0L833.0,1940.5L834.0,1940.0L835.0,1939.5L836.0,1939.0L837.0,1938.6L838.0,1938.1L839.0,1937.7L840.0,1937.4L841.0,1937.0L842.0,1936.7L843.0,1936.4L844.0,1936.1L845.0,1935.8L846.0,1935.6L847.0,1935.4L848.0,1935.2L849.0,1935.1L850.0,1934.9L851.0,1934.8L852.0,1934.7L853.0,1934.7L854.0,1934.6L855.0,1934.6L856.0,1934.6L857.0,1934.7L858.0,1934.7L859.0,1934.8L860.0,1934.9L861.0,1935.1L862.0,1935.2L863.0,1935.4L864.0,1935.7L865.0,1935.9L866.0,1936.2L867.0,1936.4L868.0,1936.8L869.0,1937.1L870.0,1937.5L871.0,1937.9L872.0,1938.3L873.0,1938.7L874.0,1939.2L875.0,1939.7L876.0,1940.2L877.0,1940.8L878.0,1941.3L879.0,1941.9L880.0,1942.5L881.0,1943.2L882.0,1943.9L883.0,1944.6L884.0,1945.3L885.0,1946.1L886.0,1946.8L887.0,1947.7L888.0,1948.5L889.0,1949.4L890.0,1950.2L891.0,1951.2L892.0,1952.1L893.0,1953.1L894.0,1954.1L895.0,1955.1L896.0,1956.1L897.0,1957.2L898.0,1958.3L899.0,1959.4L900.0,1960.6L901.0,1961.8L902.0,1963.0L903.0,1964.2L904.0,1965.5L905.0,1966.8L906.0,1968.1L907.0,1969.5L908.0,1970.8L909.0,1972.2L910.0,1973.6L911.0,1975.1L912.0,1976.5L913.0,1978.0L914.0,1979.6L915.0,1981.1L916.0,1982.7L917.0,1984.2L918.0,1985.8L919.0,1987.5L920.0,1989.1L921.0,1990.8L922.0,1992.5L923.0,1994.2L924.0,1995.9L925.0,1997.7L926.0,1999.5L927.0,2001.3L928.0,2003.1L929.0,2004.9L930.0,2006.8L931.0,2008.6L932.0,2010.5L933.0,2012.4L934.0,2014.4L935.0,2016.3L936.0,2018.3L937.0,2020.3L938.0,2022.3L939.0,2024.3L940.0,2026.3L941.0,2028.3L942.0,2030.4L943.0,2032.5L944.0,2034.6L945.0,2036.7L946.0,2038.8L947.0,2040.9L948.0,2043.1L949.0,2045.2L950.0,2047.4L951.0,2049.6L952.0,2051.8L953.0,2054.0L954.0,2056.2L955.0,2058.5L956.0,2060.7L957.0,2063.0L958.0,2065.2L959.0,2067.5L960.0,2069.8L961.0,2072.1L962.0,2074.4L963.0,2076.7L964.0,2079.1L965.0,2081.4L966.0,2083.7L967.0,2086.1L968.0,2088.5L969.0,2090.8L970.0,2093.2L971.0,2095.6L972.0,2098.0L973.0,2100.4L974.0,2102.8L975.0,2105.2L976.0,2107.6L977.0,2110.1L978.0,2112.5L979.0,2114.9L980.0,2117.4L981.0,2119.8L982.0,2122.2L983.0,2124.7L984.0,2127.1L985.0,2129.6L986.0,2132.1L987.0,2134.5L988.0,2137.0L989.0,2139.5L990.0,2141.9L991.0,2144.4L992.0,2146.9L993.0,2149.3L994.0,2151.8L995.0,2154.3L996.0,2156.7L997.0,2159.2L998.0,2161.7L999.0,2164.2L1000.0,2166.6L1001.0,2169.1L1002.0,2171.6L1003.0,2174.0L1004.0,2176.5L1005.0,2179.0L1006.0,2181.4L1007.0,2183.9L1008.0,2186.3L1009.0,2188.8L1010.0,2191.2L1011.0,2193.7L1012.0,2196.1L1013.0,2198.6L1014.0,2201.0L1015.0,2203.5L1016.0,2205.9L1017.0,2208.3L1018.0,2210.7L1019.0,2213.2L1020.0,2215.6L1021.0,2218.0L1022.0,2220.4L1023.0,2222.8L1024.0,2225.2L1025.0,2227.6L1026.0,2230.0L1027.0,2232.4L1028.0,2234.8L1029.0,2237.1L1030.0,2239.5L1031.0,2241.9L1032.0,2244.2L1033.0,2246.6L1034.0,2248.9L1035.0,2251.2L1036.0,2253.6L1037.0,2255.9L1038.0,2258.2L1039.0,2260.5L1040.0,2262.8L1041.0,2265.1L1042.0,2267.4L1043.0,2269.7L1044.0,2272.0L1045.0,2274.3L1046.0,2276.5L1047.0,2278.8L1048.0,2281.0L1049.0,2283.2L1050.0,2285.5L1051.0,2287.7L1052.0,2289.9L1053.0,2292.1L1054.0,2294.3L1055.0,2296.5L1056.0,2298.6L1057.0,2300.8L1058.0,2303.0L1059.0,2305.1L1060.0,2307.2L1061.0,2309.3L1062.0,2311.5L1063.0,2313.6L1064.0,2315.7L1065.0,2317.7L1066.0,2319.8L1067.0,2321.9L1068.0,2323.9L1069.0,2325.9L1070.0,2328.0L1071.0,2330.0L1072.0,2332.0L1073.0,2334.0L1074.0,2335.9L1075.0,2337.9L1076.0,2339.9L1077.0,2341.8L1078.0,2343.7L1079.0,2345.6L1080.0,2347.5L1081.0,2349.4L1082.0,2351.3L1083.0,2353.1L1084.0,2355.0L1085.0,2356.8L1086.0,2358.7L1087.0,2360.5L1088.0,2362.3L1089.0,2364.0L1090.0,2365.8L1091.0,2367.6L1092.0,2369.3L1093.0,2371.0L1094.0,2372.8L1095.0,2374.5L1096.0,2376.2L1097.0,2377.8L1098.0,2379.5L1099.0,2381.2L1100.0,2382.8L1101.0,2384.4L1102.0,2386.1L1103.0,2387.7L1104.0,2389.3L1105.0,2390.9L1106.0,2392.4L1107.0,2394.0L1108.0,2395.5L1109.0,2397.1L1110.0,2398.6L1111.0,2400.1L1112.0,2401.6L1113.0,2403.1L1114.0,2404.6L1115.0,2406.0L1116.0,2407.5L1117.0,2408.9L1118.0,2410.4L1119.0,2411.8L1120.0,2413.2L1121.0,2414.6L1122.0,2416.0L1123.0,2417.4L1124.0,2418.7L1125.0,2420.1L1126.0,2421.4L1127.0,2422.7L1128.0,2424.1L1129.0,2425.4L1130.0,2426.7L1131.0,2428.0L1132.0,2429.2L1133.0,2430.5L1134.0,2431.7L1135.0,2433.0L1136.0,2434.2L1137.0,2435.4L1138.0,2436.7L1139.0,2437.9L1140.0,2439.1L1141.0,2440.2L1142.0,2441.4L1143.0,2442.6L1144.0,2443.7L1145.0,2444.9L1146.0,2446.0L1147.0,2447.1L1148.0,2448.2L1149.0,2449.3L1150.0,2450.4L1151.0,2451.5L1152.0,2452.6L1153.0,2453.6L1154.0,2454.7L1155.0,2455.7L1156.0,2456.7L1157.0,2457.8L1158.0,2458.8L1159.0,2459.8L1160.0,2460.8L1161.0,2461.8L1162.0,2462.7L1163.0,2463.7L1164.0,2464.7L1165.0,2465.6L1166.0,2466.5L1167.0,2467.5L1168.0,2468.4L1169.0,2469.3L1170.0,2470.2L1171.0,2471.1L1172.0,2472.0L1173.0,2472.9L1174.0,2473.7L1175.0,2474.6L1176.0,2475.4L1177.0,2476.3L1178.0,2477.1L1179.0,2477.9L1180.0,2478.7L1181.0,2479.6L1182.0,2480.4L1183.0,2481.1L1184.0,2481.9L1185.0,2482.7L1186.0,2483.5L1187.0,2484.2L1188.0,2485.0L1189.0,2485.7L1190.0,2486.4L1191.0,2487.2L1192.0,2487.9L1193.0,2488.6L1194.0,2489.3L1195.0,2490.0L1196.0,2490.7L1197.0,2491.4L1198.0,2492.0L1199.0,2492.7L1200.0,2493.3L1201.0,2494.0L1202.0,2494.6L1203.0,2495.3L1204.0,2495.9L1205.0,2496.5L1206.0,2497.1L1207.0,2497.7L1208.0,2498.3L1209.0,2498.9L1210.0,2499.5L1211.0,2500.1L1212.0,2500.6L1213.0,2501.2L1214.0,2501.8L1215.0,2502.3L1216.0,2502.9L1217.0,2503.4L1218.0,2503.9L1219.0,2504.4L1220.0,2505.0L1221.0,2505.5L1222.0,2506.0L1223.0,2506.5L1224.0,2506.9L1225.0,2507.4L1226.0,2507.9L1227.0,2508.4L1228.0,2508.8L1229.0,2509.3L1230.0,2509.8L1231.0,2510.2L1232.0,2510.6L1233.0,2511.1L1234.0,2511.5L1235.0,2511.9L1236.0,2512.3L1237.0,2512.8L1238.0,2513.2L1239.0,2513.6L1240.0,2514.0L1241.0,2514.3L1242.0,2514.7L1243.0,2515.1L1244.0,2515.5L1245.0,2515.8L1246.0,2516.2L1247.0,2516.6L1248.0,2516.9L1249.0,2517.3L1250.0,2517.6L1251.0,2517.9L1252.0,2518.3L1253.0,2518.6L1254.0,2518.9L1255.0,2519.2L1256.0,2519.5L1257.0,2519.8L1258.0,2520.1L1259.0,2520.4L1260.0,2520.7L1261.0,2521.0L1262.0,2521.3L1263.0,2521.6L1264.0,2521.8L1265.0,2522.1L1266.0,2522.4L1267.0,2522.6L1268.0,2522.9L1269.0,2523.1L1270.0,2523.4L1271.0,2523.6L1272.0,2523.9L1273.0,2524.1L1274.0,2524.3L1275.0,2524.6L1276.0,2524.8L1277.0,2525.0L1278.0,2525.2L1279.0,2525.4L1280.0,2525.6L1281.0,2525.9L1282.0,2526.1L1283.0,2526.3L1284.0,2526.4L1285.0,2526.6L1286.0,2526.8L1287.0,2527.0L1288.0,2527.2L1289.0,2527.4L1290.0,2527.5L1291.0,2527.7L1292.0,2527.9L1293.0,2528.0L1294.0,2528.2L1295.0,2528.4L1296.0,2528.5L1297.0,2528.7L1298.0,2528.8L1299.0,2529.0L1300.0,2529.1L1301.0,2529.3L1302.0,2529.4L1303.0,2529.5L1304.0,2529.7L1305.0,2529.8L1306.0,2529.9L1307.0,2530.1L1308.0,2530.2L1309.0,2530.3L1310.0,2530.4L1311.0,2530.5L1312.0,2530.7L1313.0,2530.8L1314.0,2530.9L1315.0,2531.0L1316.0,2531.1L1317.0,2531.2L1318.0,2531.3L1319.0,2531.4L1320.0,2531.5L1321.0,2531.6L1322.0,2531.7L1323.0,2531.8L1324.0,2531.9L1325.0,2532.0L1326.0,2532.1L1327.0,2532.2L1328.0,2532.2L1329.0,2532.3L1330.0,2532.4L1331.0,2532.5L1332.0,2532.6L1333.0,2532.7L1334.0,2532.7L1335.0,2532.8L1336.0,2532.9L1337.0,2533.0L1338.0,2533.0L1339.0,2533.1L1340.0,2533.2L1341.0,2533.3L1342.0,2533.3L1343.0,2533.4L1344.0,2533.5L1345.0,2533.5L1346.0,2533.6L1347.0,2533.7L1348.0,2533.8L1349.0,2533.8L1350.0,2533.9L1351.0,2534.0L1352.0,2534.0L1353.0,2534.1L1354.0,2534.2L1355.0,2534.2L1356.0,2534.3L1357.0,2534.4L1358.0,2534.4L1359.0,2534.5L1360.0,2534.6L1361.0,2534.6L1362.0,2534.7L1363.0,2534.8L1364.0,2534.8L1365.0,2534.9L1366.0,2535.0L1367.0,2535.0L1368.0,2535.1L1369.0,2535.2L1370.0,2535.2L1371.0,2535.3L1372.0,2535.4L1373.0,2535.5L1374.0,2535.5L1375.0,2535.6L1376.0,2535.7L1377.0,2535.8L1378.0,2535.8L1379.0,2535.9L1380.0,2536.0" stroke="#ffc000" stroke-width="5.5"/>
<path d="M246.0,2535.6L247.0,2535.4L248.0,2535.2L249.0,2535.0L250.0,2534.8L251.0,2534.7L252.0,2534.5L253.0,2534.3L254.0,2534.2L255.0,2534.0L256.0,2533.9L257.0,2533.7L258.0,2533.6L259.0,2533.4L260.0,2533.3L261.0,2533.1L262.0,2533.0L263.0,2532.9L264.0,2532.8L265.0,2532.6L266.0,2532.5L267.0,2532.4L268.0,2532.3L269.0,2532.1L270.0,2532.0L271.0,2531.9L272.0,2531.8L273.0,2531.7L274.0,2531.6L275.0,2531.5L276.0,2531.4L277.0,2531.3L278.0,2531.2L279.0,2531.1L280.0,2531.0L281.0,2530.9L282.0,2530.8L283.0,2530.7L284.0,2530.6L285.0,2530.5L286.0,2530.4L287.0,2530.4L288.0,2530.3L289.0,2530.2L290.0,2530.1L291.0,2530.0L292.0,2529.9L293.0,2529.9L294.0,2529.8L295.0,2529.7L296.0,2529.6L297.0,2529.5L298.0,2529.5L299.0,2529.4L300.0,2529.3L301.0,2529.2L302.0,2529.1L303.0,2529.1L304.0,2529.0L305.0,2528.9L306.0,2528.8L307.0,2528.8L308.0,2528.7L309.0,2528.6L310.0,2528.5L311.0,2528.4L312.0,2528.4L313.0,2528.3L314.0,2528.2L315.0,2528.1L316.0,2528.0L317.0,2527.9L318.0,2527.8L319.0,2527.8L320.0,2527.7L321.0,2527.6L322.0,2527.5L323.0,2527.4L324.0,2527.3L325.0,2527.2L326.0,2527.1L327.0,2527.0L328.0,2526.9L329.0,2526.8L330.0,2526.7L331.0,2526.6L332.0,2526.5L333.0,2526.4L334.0,2526.3L335.0,2526.2L336.0,2526.0L337.0,2525.9L338.0,2525.8L339.0,2525.7L340.0,2525.6L341.0,2525.4L342.0,2525.3L343.0,2525.2L344.0,2525.0L345.0,2524.9L346.0,2524.7L347.0,2524.6L348.0,2524.4L349.0,2524.3L350.0,2524.1L351.0,2524.0L352.0,2523.8L353.0,2523.6L354.0,2523.5L355.0,2523.3L356.0,2523.1L357.0,2522.9L358.0,2522.8L359.0,2522.6L360.0,2522.4L361.0,2522.2L362.0,2522.0L363.0,2521.8L364.0,2521.6L365.0,2521.4L366.0,2521.1L367.0,2520.9L368.0,2520.7L369.0,2520.5L370.0,2520.2L371.0,2520.0L372.0,2519.7L373.0,2519.5L374.0,2519.2L375.0,2519.0L376.0,2518.7L377.0,2518.5L378.0,2518.2L379.0,2517.9L380.0,2517.6L381.0,2517.3L382.0,2517.0L383.0,2516.7L384.0,2516.4L385.0,2516.1L386.0,2515.8L387.0,2515.5L388.0,2515.1L389.0,2514.8L390.0,2514.5L391.0,2514.1L392.0,2513.8L393.0,2513.4L394.0,2513.0L395.0,2512.7L396.0,2512.3L397.0,2511.9L398.0,2511.5L399.0,2511.1L400.0,2510.7L401.0,2510.3L402.0,2509.9L403.0,2509.4L404.0,2509.0L405.0,2508.6L406.0,2508.1L407.0,2507.7L408.0,2507.2L409.0,2506.7L410.0,2506.3L411.0,2505.8L412.0,2505.3L413.0,2504.8L414.0,2504.3L415.0,2503.8L416.0,2503.2L417.0,2502.7L418.0,2502.2L419.0,2501.6L420.0,2501.1L421.0,2500.5L422.0,2499.9L423.0,2499.4L424.0,2498.8L425.0,2498.2L426.0,2497.6L427.0,2497.0L428.0,2496.3L429.0,2495.7L430.0,2495.1L431.0,2494.4L432.0,2493.8L433.0,2493.1L434.0,2492.4L435.0,2491.7L436.0,2491.0L437.0,2490.3L438.0,2489.6L439.0,2488.9L440.0,2488.2L441.0,2487.4L442.0,2486.7L443.0,2485.9L444.0,2485.2L445.0,2484.4L446.0,2483.6L447.0,2482.8L448.0,2482.0L449.0,2481.2L450.0,2480.3L451.0,2479.5L452.0,2478.6L453.0,2477.8L454.0,2476.9L455.0,2476.0L456.0,2475.1L457.0,2474.2L458.0,2473.3L459.0,2472.4L460.0,2471.5L461.0,2470.5L462.0,2469.6L463.0,2468.6L464.0,2467.6L465.0,2466.6L466.0,2465.6L467.0,2464.6L468.0,2463.6L469.0,2462.6L470.0,2461.5L471.0,2460.5L472.0,2459.4L473.0,2458.3L474.0,2457.2L475.0,2456.1L476.0,2455.0L477.0,2453.9L478.0,2452.8L479.0,2451.6L480.0,2450.5L481.0,2449.3L482.0,2448.1L483.0,2446.9L484.0,2445.7L485.0,2444.5L486.0,2443.3L487.0,2442.1L488.0,2440.8L489.0,2439.6L490.0,2438.3L491.0,2437.0L492.0,2435.7L493.0,2434.4L494.0,2433.1L495.0,2431.8L496.0,2430.5L497.0,2429.1L498.0,2427.8L499.0,2426.4L500.0,2425.0L501.0,2423.6L502.0,2422.2L503.0,2420.8L504.0,2419.4L505.0,2418.0L506.0,2416.5L507.0,2415.1L508.0,2413.6L509.0,2412.1L510.0,2410.6L511.0,2409.1L512.0,2407.6L513.0,2406.1L514.0,2404.5L515.0,2403.0L516.0,2401.4L517.0,2399.9L518.0,2398.3L519.0,2396.7L520.0,2395.1L521.0,2393.5L522.0,2391.9L523.0,2390.2L524.0,2388.6L525.0,2386.9L526.0,2385.2L527.0,2383.6L528.0,2381.9L529.0,2380.2L530.0,2378.5L531.0,2376.7L532.0,2375.0L533.0,2373.2L534.0,2371.5L535.0,2369.7L536.0,2367.9L537.0,2366.1L538.0,2364.3L539.0,2362.5L540.0,2360.7L541.0,2358.8L542.0,2357.0L543.0,2355.1L544.0,2353.3L545.0,2351.4L546.0,2349.5L547.0,2347.6L548.0,2345.7L549.0,2343.7L550.0,2341.8L551.0,2339.8L552.0,2337.9L553.0,2335.9L554.0,2333.9L555.0,2331.9L556.0,2329.9L557.0,2327.9L558.0,2325.8L559.0,2323.8L560.0,2321.8L561.0,2319.7L562.0,2317.6L563.0,2315.5L564.0,2313.4L565.0,2311.3L566.0,2309.2L567.0,2307.1L568.0,2304.9L569.0,2302.8L570.0,2300.6L571.0,2298.4L572.0,2296.2L573.0,2294.0L574.0,2291.8L575.0,2289.6L576.0,2287.3L577.0,2285.1L578.0,2282.8L579.0,2280.6L580.0,2278.3L581.0,2276.0L582.0,2273.7L583.0,2271.4L584.0,2269.0L585.0,2266.7L586.0,2264.4L587.0,2262.0L588.0,2259.6L589.0,2257.2L590.0,2254.8L591.0,2252.4L592.0,2250.0L593.0,2247.6L594.0,2245.1L595.0,2242.7L596.0,2240.2L597.0,2237.7L598.0,2235.3L599.0,2232.8L600.0,2230.3L601.0,2227.7L602.0,2225.2L603.0,2222.7L604.0,2220.1L605.0,2217.5L606.0,2214.9L607.0,2212.4L608.0,2209.8L609.0,2207.1L610.0,2204.5L611.0,2201.9L612.0,2199.2L613.0,2196.6L614.0,2193.9L615.0,2191.2L616.0,2188.5L617.0,2185.8L618.0,2183.1L619.0,2180.4L620.0,2177.6L621.0,2174.9L622.0,2172.1L623.0,2169.3L624.0,2166.6L625.0,2163.8L626.0,2160.9L627.0,2158.1L628.0,2155.3L629.0,2152.4L630.0,2149.6L631.0,2146.7L632.0,2143.8L633.0,2141.0L634.0,2138.1L635.0,2135.1L636.0,2132.2L637.0,2129.3L638.0,2126.3L639.0,2123.4L640.0,2120.4L641.0,2117.4L642.0,2114.4L643.0,2111.4L644.0,2108.4L645.0,2105.4L646.0,2102.3L647.0,2099.3L648.0,2096.2L649.0,2093.1L650.0,2090.0L651.0,2086.9L652.0,2083.8L653.0,2080.7L654.0,2077.6L655.0,2074.4L656.0,2071.3L657.0,2068.1L658.0,2064.9L659.0,2061.7L660.0,2058.6L661.0,2055.3L662.0,2052.1L663.0,2048.9L664.0,2045.7L665.0,2042.4L666.0,2039.2L667.0,2035.9L668.0,2032.6L669.0,2029.4L670.0,2026.1L671.0,2022.8L672.0,2019.5L673.0,2016.2L674.0,2012.9L675.0,2009.6L676.0,2006.3L677.0,2002.9L678.0,1999.6L679.0,1996.3L680.0,1992.9L681.0,1989.6L682.0,1986.2L683.0,1982.9L684.0,1979.5L685.0,1976.2L686.0,1972.8L687.0,1969.5L688.0,1966.1L689.0,1962.7L690.0,1959.4L691.0,1956.0L692.0,1952.6L693.0,1949.2L694.0,1945.9L695.0,1942.5L696.0,1939.1L697.0,1935.7L698.0,1932.3L699.0,1929.0L700.0,1925.6L701.0,1922.2L702.0,1918.8L703.0,1915.5L704.0,1912.1L705.0,1908.7L706.0,1905.4L707.0,1902.0L708.0,1898.6L709.0,1895.3L710.0,1891.9L711.0,1888.6L712.0,1885.2L713.0,1881.9L714.0,1878.6L715.0,1875.2L716.0,1871.9L717.0,1868.6L718.0,1865.2L719.0,1861.9L720.0,1858.6L721.0,1855.3L722.0,1852.0L723.0,1848.7L724.0,1845.5L725.0,1842.2L726.0,1838.9L727.0,1835.7L728.0,1832.4L729.0,1829.2L730.0,1825.9L731.0,1822.7L732.0,1819.5L733.0,1816.3L734.0,1813.1L735.0,1809.9L736.0,1806.7L737.0,1803.6L738.0,1800.4L739.0,1797.3L740.0,1794.1L741.0,1791.0L742.0,1787.9L743.0,1784.8L744.0,1781.7L745.0,1778.7L746.0,1775.6L747.0,1772.6L748.0,1769.5L749.0,1766.5L750.0,1763.5L751.0,1760.5L752.0,1757.5L753.0,1754.6L754.0,1751.6L755.0,1748.7L756.0,1745.8L757.0,1742.9L758.0,1740.0L759.0,1737.1L760.0,1734.3L761.0,1731.4L762.0,1728.6L763.0,1725.8L764.0,1723.0L765.0,1720.3L766.0,1717.5L767.0,1714.8L768.0,1712.1L769.0,1709.4L770.0,1706.7L771.0,1704.1L772.0,1701.4L773.0,1698.8L774.0,1696.2L775.0,1693.7L776.0,1691.1L777.0,1688.6L778.0,1686.1L779.0,1683.6L780.0,1681.1L781.0,1678.7L782.0,1676.3L783.0,1673.9L784.0,1671.5L785.0,1669.1L786.0,1666.8L787.0,1664.5L788.0,1662.2L789.0,1659.9L790.0,1657.7L791.0,1655.5L792.0,1653.3L793.0,1651.2L794.0,1649.0L795.0,1646.9L796.0,1644.8L797.0,1642.8L798.0,1640.8L799.0,1638.8L800.0,1636.8L801.0,1634.8L802.0,1632.9L803.0,1631.0L804.0,1629.2L805.0,1627.3L806.0,1625.5L807.0,1623.7L808.0,1622.0L809.0,1620.3L810.0,1618.6L811.0,1616.9L812.0,1615.3L813.0,1613.7L814.0,1612.1L815.0,1610.6L816.0,1609.1L817.0,1607.6L818.0,1606.2L819.0,1604.8L820.0,1603.4L821.0,1602.1L822.0,1600.7L823.0,1599.5L824.0,1598.2L825.0,1597.0L826.0,1595.8L827.0,1594.7L828.0,1593.6L829.0,1592.5L830.0,1591.5L831.0,1590.5L832.0,1589.5L833.0,1588.6L834.0,1587.7L835.0,1586.8L836.0,1586.0L837.0,1585.2L838.0,1584.5L839.0,1583.7L840.0,1583.1L841.0,1582.4L842.0,1581.8L843.0,1581.3L844.0,1580.8L845.0,1580.3L846.0,1579.8L847.0,1579.4L848.0,1579.1L849.0,1578.7L850.0,1578.4L851.0,1578.2L852.0,1578.0L853.0,1577.8L854.0,1577.7L855.0,1577.6L856.0,1577.5L857.0,1577.5L858.0,1577.5L859.0,1577.6L860.0,1577.7L861.0,1577.8L862.0,1578.0L863.0,1578.2L864.0,1578.5L865.0,1578.8L866.0,1579.1L867.0,1579.5L868.0,1579.9L869.0,1580.3L870.0,1580.8L871.0,1581.3L872.0,1581.9L873.0,1582.5L874.0,1583.1L875.0,1583.8L876.0,1584.5L877.0,1585.3L878.0,1586.1L879.0,1586.9L880.0,1587.8L881.0,1588.7L882.0,1589.6L883.0,1590.6L884.0,1591.7L885.0,1592.7L886.0,1593.8L887.0,1595.0L888.0,1596.2L889.0,1597.4L890.0,1598.6L891.0,1599.9L892.0,1601.3L893.0,1602.7L894.0,1604.1L895.0,1605.5L896.0,1607.0L897.0,1608.6L898.0,1610.1L899.0,1611.7L900.0,1613.4L901.0,1615.1L902.0,1616.8L903.0,1618.6L904.0,1620.4L905.0,1622.2L906.0,1624.1L907.0,1626.0L908.0,1628.0L909.0,1630.0L910.0,1632.0L911.0,1634.1L912.0,1636.2L913.0,1638.4L914.0,1640.5L915.0,1642.8L916.0,1645.0L917.0,1647.4L918.0,1649.7L919.0,1652.1L920.0,1654.5L921.0,1657.0L922.0,1659.5L923.0,1662.0L924.0,1664.6L925.0,1667.2L926.0,1669.9L927.0,1672.6L928.0,1675.3L929.0,1678.1L930.0,1680.9L931.0,1683.8L932.0,1686.6L933.0,1689.6L934.0,1692.5L935.0,1695.6L936.0,1698.6L937.0,1701.7L938.0,1704.8L939.0,1708.0L940.0,1711.2L941.0,1714.4L942.0,1717.7L943.0,1721.0L944.0,1724.4L945.0,1727.8L946.0,1731.2L947.0,1734.7L948.0,1738.2L949.0,1741.7L950.0,1745.3L951.0,1749.0L952.0,1752.6L953.0,1756.3L954.0,1760.1L955.0,1763.9L956.0,1767.7L957.0,1771.5L958.0,1775.4L959.0,1779.3L960.0,1783.3L961.0,1787.3L962.0,1791.3L963.0,1795.4L964.0,1799.4L965.0,1803.6L966.0,1807.7L967.0,1811.9L968.0,1816.1L969.0,1820.3L970.0,1824.6L971.0,1828.8L972.0,1833.2L973.0,1837.5L974.0,1841.9L975.0,1846.2L976.0,1850.6L977.0,1855.1L978.0,1859.5L979.0,1864.0L980.0,1868.5L981.0,1873.0L982.0,1877.6L983.0,1882.1L984.0,1886.7L985.0,1891.3L986.0,1895.9L987.0,1900.5L988.0,1905.2L989.0,1909.8L990.0,1914.5L991.0,1919.2L992.0,1923.9L993.0,1928.6L994.0,1933.3L995.0,1938.0L996.0,1942.8L997.0,1947.5L998.0,1952.3L999.0,1957.0L1000.0,1961.8L1001.0,1966.5L1002.0,1971.3L1003.0,1976.0L1004.0,1980.8L1005.0,1985.5L1006.0,1990.3L1007.0,1995.0L1008.0,1999.7L1009.0,2004.4L1010.0,2009.1L1011.0,2013.8L1012.0,2018.5L1013.0,2023.1L1014.0,2027.8L1015.0,2032.4L1016.0,2037.0L1017.0,2041.6L1018.0,2046.1L1019.0,2050.7L1020.0,2055.2L1021.0,2059.6L1022.0,2064.1L1023.0,2068.5L1024.0,2072.9L1025.0,2077.2L1026.0,2081.6L1027.0,2085.9L1028.0,2090.1L1029.0,2094.4L1030.0,2098.6L1031.0,2102.7L1032.0,2106.9L1033.0,2111.0L1034.0,2115.1L1035.0,2119.1L1036.0,2123.2L1037.0,2127.1L1038.0,2131.1L1039.0,2135.0L1040.0,2139.0L1041.0,2142.8L1042.0,2146.7L1043.0,2150.5L1044.0,2154.3L1045.0,2158.1L1046.0,2161.8L1047.0,2165.5L1048.0,2169.2L1049.0,2172.8L1050.0,2176.4L1051.0,2180.0L1052.0,2183.6L1053.0,2187.1L1054.0,2190.7L1055.0,2194.1L1056.0,2197.6L1057.0,2201.0L1058.0,2204.4L1059.0,2207.8L1060.0,2211.2L1061.0,2214.5L1062.0,2217.8L1063.0,2221.1L1064.0,2224.3L1065.0,2227.5L1066.0,2230.7L1067.0,2233.9L1068.0,2237.0L1069.0,2240.2L1070.0,2243.2L1071.0,2246.3L1072.0,2249.4L1073.0,2252.4L1074.0,2255.4L1075.0,2258.3L1076.0,2261.3L1077.0,2264.2L1078.0,2267.1L1079.0,2270.0L1080.0,2272.8L1081.0,2275.6L1082.0,2278.4L1083.0,2281.2L1084.0,2284.0L1085.0,2286.7L1086.0,2289.4L1087.0,2292.1L1088.0,2294.7L1089.0,2297.4L1090.0,2300.0L1091.0,2302.6L1092.0,2305.1L1093.0,2307.7L1094.0,2310.2L1095.0,2312.7L1096.0,2315.2L1097.0,2317.6L1098.0,2320.1L1099.0,2322.5L1100.0,2324.9L1101.0,2327.3L1102.0,2329.6L1103.0,2331.9L1104.0,2334.3L1105.0,2336.5L1106.0,2338.8L1107.0,2341.1L1108.0,2343.3L1109.0,2345.5L1110.0,2347.7L1111.0,2349.8L1112.0,2352.0L1113.0,2354.1L1114.0,2356.2L1115.0,2358.3L1116.0,2360.4L1117.0,2362.4L1118.0,2364.4L1119.0,2366.5L1120.0,2368.4L1121.0,2370.4L1122.0,2372.4L1123.0,2374.3L1124.0,2376.2L1125.0,2378.1L1126.0,2380.0L1127.0,2381.9L1128.0,2383.7L1129.0,2385.5L1130.0,2387.3L1131.0,2389.1L1132.0,2390.9L1133.0,2392.7L1134.0,2394.4L1135.0,2396.1L1136.0,2397.8L1137.0,2399.5L1138.0,2401.2L1139.0,2402.8L1140.0,2404.5L1141.0,2406.1L1142.0,2407.7L1143.0,2409.3L1144.0,2410.9L1145.0,2412.4L1146.0,2414.0L1147.0,2415.5L1148.0,2417.0L1149.0,2418.5L1150.0,2420.0L1151.0,2421.5L1152.0,2422.9L1153.0,2424.3L1154.0,2425.8L1155.0,2427.2L1156.0,2428.6L1157.0,2429.9L1158.0,2431.3L1159.0,2432.7L1160.0,2434.0L1161.0,2435.3L1162.0,2436.6L1163.0,2437.9L1164.0,2439.2L1165.0,2440.5L1166.0,2441.7L1167.0,2443.0L1168.0,2444.2L1169.0,2445.4L1170.0,2446.6L1171.0,2447.8L1172.0,2449.0L1173.0,2450.2L1174.0,2451.3L1175.0,2452.5L1176.0,2453.6L1177.0,2454.7L1178.0,2455.8L1179.0,2456.9L1180.0,2458.0L1181.0,2459.1L1182.0,2460.1L1183.0,2461.2L1184.0,2462.2L1185.0,2463.2L1186.0,2464.2L1187.0,2465.2L1188.0,2466.2L1189.0,2467.2L1190.0,2468.2L1191.0,2469.1L1192.0,2470.0L1193.0,2471.0L1194.0,2471.9L1195.0,2472.8L1196.0,2473.7L1197.0,2474.6L1198.0,2475.5L1199.0,2476.3L1200.0,2477.2L1201.0,2478.0L1202.0,2478.9L1203.0,2479.7L1204.0,2480.5L1205.0,2481.3L1206.0,2482.1L1207.0,2482.9L1208.0,2483.6L1209.0,2484.4L1210.0,2485.2L1211.0,2485.9L1212.0,2486.6L1213.0,2487.4L1214.0,2488.1L1215.0,2488.8L1216.0,2489.5L1217.0,2490.2L1218.0,2490.8L1219.0,2491.5L1220.0,2492.2L1221.0,2492.8L1222.0,2493.5L1223.0,2494.1L1224.0,2494.7L1225.0,2495.3L1226.0,2495.9L1227.0,2496.5L1228.0,2497.1L1229.0,2497.7L1230.0,2498.3L1231.0,2498.8L1232.0,2499.4L1233.0,2499.9L1234.0,2500.5L1235.0,2501.0L1236.0,2501.5L1237.0,2502.1L1238.0,2502.6L1239.0,2503.1L1240.0,2503.6L1241.0,2504.0L1242.0,2504.5L1243.0,2505.0L1244.0,2505.5L1245.0,2505.9L1246.0,2506.4L1247.0,2506.8L1248.0,2507.3L1249.0,2507.7L1250.0,2508.1L1251.0,2508.5L1252.0,2508.9L1253.0,2509.3L1254.0,2509.7L1255.0,2510.1L1256.0,2510.5L1257.0,2510.9L1258.0,2511.3L1259.0,2511.6L1260.0,2512.0L1261.0,2512.3L1262.0,2512.7L1263.0,2513.0L1264.0,2513.4L1265.0,2513.7L1266.0,2514.0L1267.0,2514.3L1268.0,2514.7L1269.0,2515.0L1270.0,2515.3L1271.0,2515.6L1272.0,2515.9L1273.0,2516.2L1274.0,2516.5L1275.0,2516.7L1276.0,2517.0L1277.0,2517.3L1278.0,2517.5L1279.0,2517.8L1280.0,2518.1L1281.0,2518.3L1282.0,2518.6L1283.0,2518.8L1284.0,2519.1L1285.0,2519.3L1286.0,2519.5L1287.0,2519.8L1288.0,2520.0L1289.0,2520.2L1290.0,2520.4L1291.0,2520.6L1292.0,2520.8L1293.0,2521.0L1294.0,2521.3L1295.0,2521.5L1296.0,2521.6L1297.0,2521.8L1298.0,2522.0L1299.0,2522.2L1300.0,2522.4L1301.0,2522.6L1302.0,2522.8L1303.0,2522.9L1304.0,2523.1L1305.0,2523.3L1306.0,2523.5L1307.0,2523.6L1308.0,2523.8L1309.0,2524.0L1310.0,2524.1L1311.0,2524.3L1312.0,2524.4L1313.0,2524.6L1314.0,2524.7L1315.0,2524.9L1316.0,2525.0L1317.0,2525.2L1318.0,2525.3L1319.0,2525.5L1320.0,2525.6L1321.0,2525.8L1322.0,2525.9L1323.0,2526.1L1324.0,2526.2L1325.0,2526.3L1326.0,2526.5L1327.0,2526.6L1328.0,2526.7L1329.0,2526.9L1330.0,2527.0L1331.0,2527.2L1332.0,2527.3L1333.0,2527.4L1334.0,2527.6L1335.0,2527.7L1336.0,2527.8L1337.0,2528.0L1338.0,2528.1L1339.0,2528.2L1340.0,2528.3L1341.0,2528.5L1342.0,2528.6L1343.0,2528.7L1344.0,2528.9L1345.0,2529.0L1346.0,2529.1L1347.0,2529.2L1348.0,2529.4L1349.0,2529.5L1350.0,2529.6L1351.0,2529.7L1352.0,2529.9L1353.0,2530.0L1354.0,2530.1L1355.0,2530.2L1356.0,2530.3L1357.0,2530.5L1358.0,2530.6L1359.0,2530.7L1360.0,2530.8L1361.0,2530.9L1362.0,2531.0L1363.0,2531.2L1364.0,2531.3L1365.0,2531.4L1366.0,2531.5L1367.0,2531.6L1368.0,2531.7L1369.0,2531.8L1370.0,2531.9L1371.0,2532.0L1372.0,2532.2L1373.0,2532.3L1374.0,2532.4L1375.0,2532.5L1376.0,2532.6L1377.0,2532.7L1378.0,2532.8L1379.0,2532.9L1380.0,2533.0L1381.0,2533.1L1382.0,2533.2L1383.0,2533.3L1384.0,2533.4L1385.0,2533.5L1386.0,2533.6L1387.0,2533.7L1388.0,2533.8L1389.0,2533.8L1390.0,2533.9L1391.0,2534.0L1392.0,2534.1L1393.0,2534.2L1394.0,2534.3L1395.0,2534.4L1396.0,2534.5L1397.0,2534.5L1398.0,2534.6L1399.0,2534.7L1400.0,2534.8L1401.0,2534.9L1402.0,2535.0L1403.0,2535.0L1404.0,2535.1L1405.0,2535.2L1406.0,2535.3L1407.0,2535.3L1408.0,2535.4L1409.0,2535.5L1410.0,2535.5L1411.0,2535.6L1412.0,2535.7L1413.0,2535.7L1414.0,2535.8L1415.0,2535.9L1416.0,2535.9L1417.0,2536.0L1418.0,2536.1L1419.0,2536.1L1420.0,2536.2L1421.0,2536.2L1422.0,2536.3L1423.0,2536.3L1424.0,2536.4L1425.0,2536.4L1426.0,2536.5L1427.0,2536.5L1428.0,2536.6L1429.0,2536.6L1430.0,2536.7L1431.0,2536.7L1432.0,2536.8L1433.0,2536.8L1434.0,2536.8L1435.0,2536.9L1436.0,2536.9L1437.0,2537.0L1438.0,2537.0L1439.0,2537.0L1440.0,2537.0L1441.0,2537.1L1442.0,2537.1L1443.0,2537.1L1444.0,2537.2L1445.0,2537.2L1446.0,2537.2L1447.0,2537.2L1448.0,2537.2L1449.0,2537.3L1450.0,2537.3L1451.0,2537.3L1452.0,2537.3L1453.0,2537.3L1454.0,2537.3L1455.0,2537.3L1456.0,2537.3L1457.0,2537.3L1458.0,2537.4L1459.0,2537.4L1460.0,2537.4L1461.0,2537.4L1462.0,2537.4L1463.0,2537.3L1464.0,2537.3L1465.0,2537.3L1466.0,2537.3L1467.0,2537.3L1468.0,2537.3L1469.0,2537.3L1470.0,2537.3L1471.0,2537.3L1472.0,2537.2L1473.0,2537.2L1474.0,2537.2L1475.0,2537.2L1476.0,2537.1L1477.0,2537.1L1478.0,2537.1L1479.0,2537.1L1480.0,2537.0L1481.0,2537.0L1482.0,2537.0L1483.0,2536.9L1484.0,2536.9L1485.0,2536.8L1486.0,2536.8L1487.0,2536.7L1488.0,2536.7L1489.0,2536.7L1490.0,2536.6L1491.0,2536.6L1492.0,2536.5L1493.0,2536.4L1494.0,2536.4L1495.0,2536.3L1496.0,2536.3L1497.0,2536.2L1498.0,2536.1L1499.0,2536.1L1500.0,2536.0" stroke="#000000" stroke-width="6"/>
<path d="M246.0,2535.1L247.0,2534.8L248.0,2534.6L249.0,2534.4L250.0,2534.2L251.0,2533.9L252.0,2533.7L253.0,2533.5L254.0,2533.3L255.0,2533.1L256.0,2532.9L257.0,2532.7L258.0,2532.5L259.0,2532.3L260.0,2532.1L261.0,2531.9L262.0,2531.7L263.0,2531.6L264.0,2531.4L265.0,2531.2L266.0,2531.0L267.0,2530.9L268.0,2530.7L269.0,2530.5L270.0,2530.3L271.0,2530.2L272.0,2530.0L273.0,2529.9L274.0,2529.7L275.0,2529.6L276.0,2529.4L277.0,2529.3L278.0,2529.1L279.0,2529.0L280.0,2528.8L281.0,2528.7L282.0,2528.5L283.0,2528.4L284.0,2528.2L285.0,2528.1L286.0,2528.0L287.0,2527.8L288.0,2527.7L289.0,2527.5L290.0,2527.4L291.0,2527.3L292.0,2527.1L293.0,2527.0L294.0,2526.9L295.0,2526.8L296.0,2526.6L297.0,2526.5L298.0,2526.4L299.0,2526.2L300.0,2526.1L301.0,2526.0L302.0,2525.8L303.0,2525.7L304.0,2525.6L305.0,2525.4L306.0,2525.3L307.0,2525.2L308.0,2525.1L309.0,2524.9L310.0,2524.8L311.0,2524.7L312.0,2524.5L313.0,2524.4L314.0,2524.3L315.0,2524.1L316.0,2524.0L317.0,2523.8L318.0,2523.7L319.0,2523.6L320.0,2523.4L321.0,2523.3L322.0,2523.1L323.0,2523.0L324.0,2522.8L325.0,2522.7L326.0,2522.5L327.0,2522.4L328.0,2522.2L329.0,2522.1L330.0,2521.9L331.0,2521.8L332.0,2521.6L333.0,2521.4L334.0,2521.3L335.0,2521.1L336.0,2520.9L337.0,2520.8L338.0,2520.6L339.0,2520.4L340.0,2520.2L341.0,2520.0L342.0,2519.9L343.0,2519.7L344.0,2519.5L345.0,2519.3L346.0,2519.1L347.0,2518.9L348.0,2518.7L349.0,2518.5L350.0,2518.3L351.0,2518.0L352.0,2517.8L353.0,2517.6L354.0,2517.4L355.0,2517.1L356.0,2516.9L357.0,2516.7L358.0,2516.4L359.0,2516.2L360.0,2515.9L361.0,2515.7L362.0,2515.4L363.0,2515.2L364.0,2514.9L365.0,2514.6L366.0,2514.4L367.0,2514.1L368.0,2513.8L369.0,2513.5L370.0,2513.2L371.0,2512.9L372.0,2512.6L373.0,2512.3L374.0,2512.0L375.0,2511.7L376.0,2511.3L377.0,2511.0L378.0,2510.7L379.0,2510.3L380.0,2510.0L381.0,2509.7L382.0,2509.3L383.0,2508.9L384.0,2508.6L385.0,2508.2L386.0,2507.8L387.0,2507.4L388.0,2507.0L389.0,2506.6L390.0,2506.2L391.0,2505.8L392.0,2505.4L393.0,2505.0L394.0,2504.6L395.0,2504.1L396.0,2503.7L397.0,2503.2L398.0,2502.8L399.0,2502.3L400.0,2501.9L401.0,2501.4L402.0,2500.9L403.0,2500.4L404.0,2499.9L405.0,2499.4L406.0,2498.9L407.0,2498.4L408.0,2497.9L409.0,2497.3L410.0,2496.8L411.0,2496.2L412.0,2495.7L413.0,2495.1L414.0,2494.5L415.0,2494.0L416.0,2493.4L417.0,2492.8L418.0,2492.2L419.0,2491.6L420.0,2490.9L421.0,2490.3L422.0,2489.7L423.0,2489.0L424.0,2488.4L425.0,2487.7L426.0,2487.0L427.0,2486.4L428.0,2485.7L429.0,2485.0L430.0,2484.3L431.0,2483.5L432.0,2482.8L433.0,2482.1L434.0,2481.3L435.0,2480.6L436.0,2479.8L437.0,2479.1L438.0,2478.3L439.0,2477.5L440.0,2476.7L441.0,2475.9L442.0,2475.1L443.0,2474.2L444.0,2473.4L445.0,2472.5L446.0,2471.7L447.0,2470.8L448.0,2469.9L449.0,2469.0L450.0,2468.1L451.0,2467.2L452.0,2466.3L453.0,2465.4L454.0,2464.4L455.0,2463.5L456.0,2462.5L457.0,2461.5L458.0,2460.5L459.0,2459.5L460.0,2458.5L461.0,2457.5L462.0,2456.5L463.0,2455.4L464.0,2454.4L465.0,2453.3L466.0,2452.2L467.0,2451.2L468.0,2450.1L469.0,2448.9L470.0,2447.8L471.0,2446.7L472.0,2445.5L473.0,2444.4L474.0,2443.2L475.0,2442.0L476.0,2440.9L477.0,2439.7L478.0,2438.4L479.0,2437.2L480.0,2436.0L481.0,2434.7L482.0,2433.5L483.0,2432.2L484.0,2430.9L485.0,2429.6L486.0,2428.3L487.0,2427.0L488.0,2425.7L489.0,2424.3L490.0,2423.0L491.0,2421.6L492.0,2420.3L493.0,2418.9L494.0,2417.5L495.0,2416.1L496.0,2414.6L497.0,2413.2L498.0,2411.8L499.0,2410.3L500.0,2408.8L501.0,2407.4L502.0,2405.9L503.0,2404.4L504.0,2402.9L505.0,2401.3L506.0,2399.8L507.0,2398.2L508.0,2396.7L509.0,2395.1L510.0,2393.5L511.0,2391.9L512.0,2390.3L513.0,2388.7L514.0,2387.1L515.0,2385.4L516.0,2383.8L517.0,2382.1L518.0,2380.4L519.0,2378.7L520.0,2377.0L521.0,2375.3L522.0,2373.6L523.0,2371.8L524.0,2370.1L525.0,2368.3L526.0,2366.5L527.0,2364.8L528.0,2363.0L529.0,2361.1L530.0,2359.3L531.0,2357.5L532.0,2355.6L533.0,2353.8L534.0,2351.9L535.0,2350.0L536.0,2348.1L537.0,2346.2L538.0,2344.3L539.0,2342.4L540.0,2340.4L541.0,2338.5L542.0,2336.5L543.0,2334.5L544.0,2332.5L545.0,2330.5L546.0,2328.5L547.0,2326.5L548.0,2324.4L549.0,2322.4L550.0,2320.3L551.0,2318.2L552.0,2316.1L553.0,2314.0L554.0,2311.9L555.0,2309.8L556.0,2307.6L557.0,2305.5L558.0,2303.3L559.0,2301.2L560.0,2299.0L561.0,2296.8L562.0,2294.5L563.0,2292.3L564.0,2290.1L565.0,2287.8L566.0,2285.6L567.0,2283.3L568.0,2281.0L569.0,2278.7L570.0,2276.4L571.0,2274.1L572.0,2271.7L573.0,2269.4L574.0,2267.0L575.0,2264.6L576.0,2262.2L577.0,2259.8L578.0,2257.4L579.0,2255.0L580.0,2252.6L581.0,2250.1L582.0,2247.6L583.0,2245.2L584.0,2242.7L585.0,2240.2L586.0,2237.7L587.0,2235.1L588.0,2232.6L589.0,2230.0L590.0,2227.5L591.0,2224.9L592.0,2222.3L593.0,2219.7L594.0,2217.1L595.0,2214.4L596.0,2211.8L597.0,2209.1L598.0,2206.5L599.0,2203.8L600.0,2201.1L601.0,2198.4L602.0,2195.7L603.0,2192.9L604.0,2190.2L605.0,2187.4L606.0,2184.7L607.0,2181.9L608.0,2179.1L609.0,2176.3L610.0,2173.5L611.0,2170.6L612.0,2167.8L613.0,2164.9L614.0,2162.0L615.0,2159.2L616.0,2156.3L617.0,2153.3L618.0,2150.4L619.0,2147.5L620.0,2144.5L621.0,2141.6L622.0,2138.6L623.0,2135.6L624.0,2132.6L625.0,2129.6L626.0,2126.5L627.0,2123.5L628.0,2120.4L629.0,2117.4L630.0,2114.3L631.0,2111.2L632.0,2108.1L633.0,2105.0L634.0,2101.8L635.0,2098.7L636.0,2095.5L637.0,2092.3L638.0,2089.1L639.0,2085.9L640.0,2082.7L641.0,2079.5L642.0,2076.3L643.0,2073.0L644.0,2069.7L645.0,2066.5L646.0,2063.2L647.0,2059.8L648.0,2056.5L649.0,2053.2L650.0,2049.8L651.0,2046.5L652.0,2043.1L653.0,2039.7L654.0,2036.3L655.0,2032.9L656.0,2029.5L657.0,2026.0L658.0,2022.6L659.0,2019.1L660.0,2015.6L661.0,2012.1L662.0,2008.6L663.0,2005.1L664.0,2001.6L665.0,1998.1L666.0,1994.5L667.0,1990.9L668.0,1987.4L669.0,1983.8L670.0,1980.2L671.0,1976.6L672.0,1973.0L673.0,1969.4L674.0,1965.8L675.0,1962.2L676.0,1958.6L677.0,1954.9L678.0,1951.3L679.0,1947.6L680.0,1944.0L681.0,1940.3L682.0,1936.7L683.0,1933.0L684.0,1929.4L685.0,1925.7L686.0,1922.0L687.0,1918.3L688.0,1914.7L689.0,1911.0L690.0,1907.3L691.0,1903.6L692.0,1900.0L693.0,1896.3L694.0,1892.6L695.0,1888.9L696.0,1885.2L697.0,1881.6L698.0,1877.9L699.0,1874.2L700.0,1870.5L701.0,1866.9L702.0,1863.2L703.0,1859.6L704.0,1855.9L705.0,1852.2L706.0,1848.6L707.0,1845.0L708.0,1841.3L709.0,1837.7L710.0,1834.1L711.0,1830.4L712.0,1826.8L713.0,1823.2L714.0,1819.6L715.0,1816.0L716.0,1812.5L717.0,1808.9L718.0,1805.3L719.0,1801.8L720.0,1798.2L721.0,1794.7L722.0,1791.2L723.0,1787.7L724.0,1784.2L725.0,1780.7L726.0,1777.2L727.0,1773.7L728.0,1770.3L729.0,1766.9L730.0,1763.4L731.0,1760.0L732.0,1756.6L733.0,1753.3L734.0,1749.9L735.0,1746.5L736.0,1743.2L737.0,1739.9L738.0,1736.6L739.0,1733.3L740.0,1730.0L741.0,1726.8L742.0,1723.6L743.0,1720.3L744.0,1717.2L745.0,1714.0L746.0,1710.8L747.0,1707.7L748.0,1704.6L749.0,1701.5L750.0,1698.4L751.0,1695.4L752.0,1692.3L753.0,1689.3L754.0,1686.3L755.0,1683.4L756.0,1680.4L757.0,1677.5L758.0,1674.6L759.0,1671.8L760.0,1668.9L761.0,1666.1L762.0,1663.3L763.0,1660.5L764.0,1657.8L765.0,1655.1L766.0,1652.4L767.0,1649.7L768.0,1647.0L769.0,1644.4L770.0,1641.8L771.0,1639.3L772.0,1636.7L773.0,1634.2L774.0,1631.7L775.0,1629.2L776.0,1626.8L777.0,1624.4L778.0,1622.0L779.0,1619.6L780.0,1617.3L781.0,1615.0L782.0,1612.7L783.0,1610.5L784.0,1608.2L785.0,1606.0L786.0,1603.9L787.0,1601.7L788.0,1599.6L789.0,1597.5L790.0,1595.5L791.0,1593.4L792.0,1591.4L793.0,1589.5L794.0,1587.5L795.0,1585.6L796.0,1583.7L797.0,1581.8L798.0,1580.0L799.0,1578.2L800.0,1576.4L801.0,1574.7L802.0,1573.0L803.0,1571.3L804.0,1569.7L805.0,1568.0L806.0,1566.4L807.0,1564.9L808.0,1563.3L809.0,1561.8L810.0,1560.4L811.0,1558.9L812.0,1557.5L813.0,1556.2L814.0,1554.8L815.0,1553.5L816.0,1552.2L817.0,1551.0L818.0,1549.7L819.0,1548.5L820.0,1547.4L821.0,1546.3L822.0,1545.2L823.0,1544.1L824.0,1543.1L825.0,1542.1L826.0,1541.1L827.0,1540.2L828.0,1539.3L829.0,1538.5L830.0,1537.6L831.0,1536.8L832.0,1536.1L833.0,1535.3L834.0,1534.7L835.0,1534.0L836.0,1533.4L837.0,1532.8L838.0,1532.2L839.0,1531.7L840.0,1531.2L841.0,1530.8L842.0,1530.3L843.0,1530.0L844.0,1529.6L845.0,1529.3L846.0,1529.0L847.0,1528.8L848.0,1528.6L849.0,1528.4L850.0,1528.3L851.0,1528.2L852.0,1528.1L853.0,1528.1L854.0,1528.1L855.0,1528.2L856.0,1528.3L857.0,1528.4L858.0,1528.5L859.0,1528.7L860.0,1529.0L861.0,1529.2L862.0,1529.6L863.0,1529.9L864.0,1530.3L865.0,1530.7L866.0,1531.2L867.0,1531.7L868.0,1532.2L869.0,1532.8L870.0,1533.4L871.0,1534.1L872.0,1534.8L873.0,1535.5L874.0,1536.3L875.0,1537.1L876.0,1537.9L877.0,1538.8L878.0,1539.8L879.0,1540.7L880.0,1541.7L881.0,1542.8L882.0,1543.9L883.0,1545.0L884.0,1546.2L885.0,1547.4L886.0,1548.7L887.0,1550.0L888.0,1551.3L889.0,1552.7L890.0,1554.1L891.0,1555.6L892.0,1557.1L893.0,1558.7L894.0,1560.3L895.0,1561.9L896.0,1563.6L897.0,1565.3L898.0,1567.1L899.0,1568.9L900.0,1570.7L901.0,1572.6L902.0,1574.6L903.0,1576.6L904.0,1578.6L905.0,1580.7L906.0,1582.8L907.0,1585.0L908.0,1587.2L909.0,1589.5L910.0,1591.8L911.0,1594.1L912.0,1596.5L913.0,1599.0L914.0,1601.5L915.0,1604.0L916.0,1606.6L917.0,1609.2L918.0,1611.9L919.0,1614.6L920.0,1617.4L921.0,1620.2L922.0,1623.1L923.0,1626.0L924.0,1629.0L925.0,1632.0L926.0,1635.0L927.0,1638.1L928.0,1641.3L929.0,1644.5L930.0,1647.8L931.0,1651.1L932.0,1654.4L933.0,1657.8L934.0,1661.2L935.0,1664.7L936.0,1668.3L937.0,1671.8L938.0,1675.4L939.0,1679.1L940.0,1682.8L941.0,1686.5L942.0,1690.3L943.0,1694.1L944.0,1698.0L945.0,1701.9L946.0,1705.8L947.0,1709.7L948.0,1713.7L949.0,1717.8L950.0,1721.8L951.0,1725.9L952.0,1730.0L953.0,1734.2L954.0,1738.4L955.0,1742.6L956.0,1746.8L957.0,1751.1L958.0,1755.4L959.0,1759.7L960.0,1764.1L961.0,1768.4L962.0,1772.8L963.0,1777.2L964.0,1781.7L965.0,1786.1L966.0,1790.6L967.0,1795.1L968.0,1799.6L969.0,1804.2L970.0,1808.7L971.0,1813.3L972.0,1817.9L973.0,1822.5L974.0,1827.1L975.0,1831.7L976.0,1836.3L977.0,1841.0L978.0,1845.6L979.0,1850.3L980.0,1855.0L981.0,1859.7L982.0,1864.4L983.0,1869.1L984.0,1873.8L985.0,1878.5L986.0,1883.2L987.0,1887.9L988.0,1892.6L989.0,1897.3L990.0,1902.0L991.0,1906.7L992.0,1911.4L993.0,1916.2L994.0,1920.9L995.0,1925.6L996.0,1930.2L997.0,1934.9L998.0,1939.6L999.0,1944.3L1000.0,1948.9L1001.0,1953.6L1002.0,1958.2L1003.0,1962.8L1004.0,1967.4L1005.0,1972.0L1006.0,1976.6L1007.0,1981.2L1008.0,1985.7L1009.0,1990.3L1010.0,1994.8L1011.0,1999.3L1012.0,2003.7L1013.0,2008.2L1014.0,2012.6L1015.0,2017.0L1016.0,2021.4L1017.0,2025.7L1018.0,2030.0L1019.0,2034.4L1020.0,2038.6L1021.0,2042.9L1022.0,2047.1L1023.0,2051.4L1024.0,2055.5L1025.0,2059.7L1026.0,2063.9L1027.0,2068.0L1028.0,2072.1L1029.0,2076.1L1030.0,2080.2L1031.0,2084.2L1032.0,2088.2L1033.0,2092.2L1034.0,2096.2L1035.0,2100.1L1036.0,2104.0L1037.0,2107.9L1038.0,2111.8L1039.0,2115.6L1040.0,2119.4L1041.0,2123.2L1042.0,2127.0L1043.0,2130.8L1044.0,2134.5L1045.0,2138.2L1046.0,2141.9L1047.0,2145.5L1048.0,2149.2L1049.0,2152.8L1050.0,2156.4L1051.0,2159.9L1052.0,2163.5L1053.0,2167.0L1054.0,2170.5L1055.0,2174.0L1056.0,2177.4L1057.0,2180.8L1058.0,2184.2L1059.0,2187.6L1060.0,2191.0L1061.0,2194.3L1062.0,2197.6L1063.0,2200.9L1064.0,2204.2L1065.0,2207.4L1066.0,2210.6L1067.0,2213.8L1068.0,2217.0L1069.0,2220.2L1070.0,2223.3L1071.0,2226.4L1072.0,2229.5L1073.0,2232.5L1074.0,2235.6L1075.0,2238.6L1076.0,2241.6L1077.0,2244.6L1078.0,2247.5L1079.0,2250.4L1080.0,2253.4L1081.0,2256.2L1082.0,2259.1L1083.0,2261.9L1084.0,2264.8L1085.0,2267.6L1086.0,2270.3L1087.0,2273.1L1088.0,2275.8L1089.0,2278.5L1090.0,2281.2L1091.0,2283.9L1092.0,2286.6L1093.0,2289.2L1094.0,2291.8L1095.0,2294.4L1096.0,2297.0L1097.0,2299.5L1098.0,2302.0L1099.0,2304.6L1100.0,2307.0L1101.0,2309.5L1102.0,2312.0L1103.0,2314.4L1104.0,2316.8L1105.0,2319.2L1106.0,2321.6L1107.0,2323.9L1108.0,2326.2L1109.0,2328.5L1110.0,2330.8L1111.0,2333.1L1112.0,2335.4L1113.0,2337.6L1114.0,2339.8L1115.0,2342.0L1116.0,2344.2L1117.0,2346.3L1118.0,2348.5L1119.0,2350.6L1120.0,2352.7L1121.0,2354.8L1122.0,2356.9L1123.0,2358.9L1124.0,2361.0L1125.0,2363.0L1126.0,2365.0L1127.0,2366.9L1128.0,2368.9L1129.0,2370.8L1130.0,2372.8L1131.0,2374.7L1132.0,2376.6L1133.0,2378.4L1134.0,2380.3L1135.0,2382.1L1136.0,2383.9L1137.0,2385.8L1138.0,2387.5L1139.0,2389.3L1140.0,2391.1L1141.0,2392.8L1142.0,2394.5L1143.0,2396.2L1144.0,2397.9L1145.0,2399.6L1146.0,2401.2L1147.0,2402.9L1148.0,2404.5L1149.0,2406.1L1150.0,2407.7L1151.0,2409.3L1152.0,2410.8L1153.0,2412.4L1154.0,2413.9L1155.0,2415.4L1156.0,2416.9L1157.0,2418.4L1158.0,2419.9L1159.0,2421.3L1160.0,2422.8L1161.0,2424.2L1162.0,2425.6L1163.0,2427.0L1164.0,2428.4L1165.0,2429.7L1166.0,2431.1L1167.0,2432.4L1168.0,2433.7L1169.0,2435.0L1170.0,2436.3L1171.0,2437.6L1172.0,2438.9L1173.0,2440.1L1174.0,2441.3L1175.0,2442.6L1176.0,2443.8L1177.0,2445.0L1178.0,2446.1L1179.0,2447.3L1180.0,2448.5L1181.0,2449.6L1182.0,2450.7L1183.0,2451.9L1184.0,2453.0L1185.0,2454.0L1186.0,2455.1L1187.0,2456.2L1188.0,2457.2L1189.0,2458.3L1190.0,2459.3L1191.0,2460.3L1192.0,2461.3L1193.0,2462.3L1194.0,2463.3L1195.0,2464.2L1196.0,2465.2L1197.0,2466.1L1198.0,2467.1L1199.0,2468.0L1200.0,2468.9L1201.0,2469.8L1202.0,2470.7L1203.0,2471.5L1204.0,2472.4L1205.0,2473.2L1206.0,2474.1L1207.0,2474.9L1208.0,2475.7L1209.0,2476.5L1210.0,2477.3L1211.0,2478.1L1212.0,2478.9L1213.0,2479.6L1214.0,2480.4L1215.0,2481.1L1216.0,2481.9L1217.0,2482.6L1218.0,2483.3L1219.0,2484.0L1220.0,2484.7L1221.0,2485.4L1222.0,2486.0L1223.0,2486.7L1224.0,2487.4L1225.0,2488.0L1226.0,2488.6L1227.0,2489.3L1228.0,2489.9L1229.0,2490.5L1230.0,2491.1L1231.0,2491.7L1232.0,2492.2L1233.0,2492.8L1234.0,2493.4L1235.0,2493.9L1236.0,2494.5L1237.0,2495.0L1238.0,2495.5L1239.0,2496.1L1240.0,2496.6L1241.0,2497.1L1242.0,2497.6L1243.0,2498.0L1244.0,2498.5L1245.0,2499.0L1246.0,2499.5L1247.0,2499.9L1248.0,2500.4L1249.0,2500.8L1250.0,2501.2L1251.0,2501.7L1252.0,2502.1L1253.0,2502.5L1254.0,2502.9L1255.0,2503.3L1256.0,2503.7L1257.0,2504.1L1258.0,2504.4L1259.0,2504.8L1260.0,2505.2L1261.0,2505.5L1262.0,2505.9L1263.0,2506.2L1264.0,2506.6L1265.0,2506.9L1266.0,2507.2L1267.0,2507.5L1268.0,2507.8L1269.0,2508.2L1270.0,2508.5L1271.0,2508.8L1272.0,2509.0L1273.0,2509.3L1274.0,2509.6L1275.0,2509.9L1276.0,2510.2L1277.0,2510.4L1278.0,2510.7L1279.0,2510.9L1280.0,2511.2L1281.0,2511.4L1282.0,2511.7L1283.0,2511.9L1284.0,2512.1L1285.0,2512.4L1286.0,2512.6L1287.0,2512.8L1288.0,2513.0L1289.0,2513.2L1290.0,2513.4L1291.0,2513.6L1292.0,2513.8L1293.0,2514.0L1294.0,2514.2L1295.0,2514.4L1296.0,2514.6L1297.0,2514.8L1298.0,2515.0L1299.0,2515.1L1300.0,2515.3L1301.0,2515.5L1302.0,2515.6L1303.0,2515.8L1304.0,2516.0L1305.0,2516.1L1306.0,2516.3L1307.0,2516.4L1308.0,2516.6L1309.0,2516.7L1310.0,2516.9L1311.0,2517.0L1312.0,2517.2L1313.0,2517.3L1314.0,2517.4L1315.0,2517.6L1316.0,2517.7L1317.0,2517.8L1318.0,2518.0L1319.0,2518.1L1320.0,2518.2L1321.0,2518.3L1322.0,2518.5L1323.0,2518.6L1324.0,2518.7L1325.0,2518.8L1326.0,2518.9L1327.0,2519.1L1328.0,2519.2L1329.0,2519.3L1330.0,2519.4L1331.0,2519.5L1332.0,2519.6L1333.0,2519.8L1334.0,2519.9L1335.0,2520.0L1336.0,2520.1L1337.0,2520.2L1338.0,2520.3L1339.0,2520.4L1340.0,2520.5L1341.0,2520.6L1342.0,2520.8L1343.0,2520.9L1344.0,2521.0L1345.0,2521.1L1346.0,2521.2L1347.0,2521.3L1348.0,2521.4L1349.0,2521.5L1350.0,2521.6L1351.0,2521.7L1352.0,2521.8L1353.0,2521.9L1354.0,2522.0L1355.0,2522.1L1356.0,2522.2L1357.0,2522.4L1358.0,2522.5L1359.0,2522.6L1360.0,2522.7L1361.0,2522.8L1362.0,2522.9L1363.0,2523.0L1364.0,2523.1L1365.0,2523.2L1366.0,2523.3L1367.0,2523.4L1368.0,2523.4L1369.0,2523.5L1370.0,2523.6L1371.0,2523.7L1372.0,2523.8L1373.0,2523.9L1374.0,2524.0L1375.0,2524.1L1376.0,2524.2L1377.0,2524.3L1378.0,2524.4L1379.0,2524.5L1380.0,2524.6L1381.0,2524.7L1382.0,2524.8L1383.0,2524.9L1384.0,2524.9L1385.0,2525.0L1386.0,2525.1L1387.0,2525.2L1388.0,2525.3L1389.0,2525.4L1390.0,2525.5L1391.0,2525.6L1392.0,2525.6L1393.0,2525.7L1394.0,2525.8L1395.0,2525.9L1396.0,2526.0L1397.0,2526.1L1398.0,2526.1L1399.0,2526.2L1400.0,2526.3L1401.0,2526.4L1402.0,2526.5L1403.0,2526.6L1404.0,2526.6L1405.0,2526.7L1406.0,2526.8L1407.0,2526.9L1408.0,2527.0L1409.0,2527.0L1410.0,2527.1L1411.0,2527.2L1412.0,2527.3L1413.0,2527.3L1414.0,2527.4L1415.0,2527.5L1416.0,2527.6L1417.0,2527.6L1418.0,2527.7L1419.0,2527.8L1420.0,2527.9L1421.0,2527.9L1422.0,2528.0L1423.0,2528.1L1424.0,2528.2L1425.0,2528.2L1426.0,2528.3L1427.0,2528.4L1428.0,2528.4L1429.0,2528.5L1430.0,2528.6L1431.0,2528.7L1432.0,2528.7L1433.0,2528.8L1434.0,2528.9L1435.0,2528.9L1436.0,2529.0L1437.0,2529.1L1438.0,2529.1L1439.0,2529.2L1440.0,2529.3L1441.0,2529.3L1442.0,2529.4L1443.0,2529.5L1444.0,2529.5L1445.0,2529.6L1446.0,2529.6L1447.0,2529.7L1448.0,2529.8L1449.0,2529.8L1450.0,2529.9L1451.0,2529.9L1452.0,2530.0L1453.0,2530.1L1454.0,2530.1L1455.0,2530.2L1456.0,2530.2L1457.0,2530.3L1458.0,2530.4L1459.0,2530.4L1460.0,2530.5L1461.0,2530.5L1462.0,2530.6L1463.0,2530.7L1464.0,2530.7L1465.0,2530.8L1466.0,2530.8L1467.0,2530.9L1468.0,2530.9L1469.0,2531.0L1470.0,2531.0L1471.0,2531.1L1472.0,2531.1L1473.0,2531.2L1474.0,2531.2L1475.0,2531.3L1476.0,2531.3L1477.0,2531.4L1478.0,2531.5L1479.0,2531.5L1480.0,2531.6L1481.0,2531.6L1482.0,2531.6L1483.0,2531.7L1484.0,2531.7L1485.0,2531.8L1486.0,2531.8L1487.0,2531.9L1488.0,2531.9L1489.0,2532.0L1490.0,2532.0L1491.0,2532.1L1492.0,2532.1L1493.0,2532.2L1494.0,2532.2L1495.0,2532.3L1496.0,2532.3L1497.0,2532.3L1498.0,2532.4L1499.0,2532.4L1500.0,2532.5L1501.0,2532.5L1502.0,2532.6L1503.0,2532.6L1504.0,2532.6L1505.0,2532.7L1506.0,2532.7L1507.0,2532.8L1508.0,2532.8L1509.0,2532.8L1510.0,2532.9L1511.0,2532.9L1512.0,2533.0L1513.0,2533.0L1514.0,2533.0L1515.0,2533.1L1516.0,2533.1L1517.0,2533.2L1518.0,2533.2L1519.0,2533.2L1520.0,2533.3L1521.0,2533.3L1522.0,2533.3L1523.0,2533.4L1524.0,2533.4L1525.0,2533.4L1526.0,2533.5L1527.0,2533.5L1528.0,2533.5L1529.0,2533.6L1530.0,2533.6L1531.0,2533.6L1532.0,2533.7L1533.0,2533.7L1534.0,2533.7L1535.0,2533.8L1536.0,2533.8L1537.0,2533.8L1538.0,2533.9L1539.0,2533.9L1540.0,2533.9L1541.0,2533.9L1542.0,2534.0L1543.0,2534.0L1544.0,2534.0L1545.0,2534.1L1546.0,2534.1L1547.0,2534.1L1548.0,2534.1L1549.0,2534.2L1550.0,2534.2L1551.0,2534.2L1552.0,2534.3L1553.0,2534.3L1554.0,2534.3L1555.0,2534.3L1556.0,2534.4L1557.0,2534.4L1558.0,2534.4L1559.0,2534.4L1560.0,2534.5L1561.0,2534.5L1562.0,2534.5L1563.0,2534.5L1564.0,2534.5L1565.0,2534.6L1566.0,2534.6L1567.0,2534.6L1568.0,2534.6L1569.0,2534.7L1570.0,2534.7L1571.0,2534.7L1572.0,2534.7L1573.0,2534.7L1574.0,2534.8L1575.0,2534.8L1576.0,2534.8L1577.0,2534.8L1578.0,2534.8L1579.0,2534.9L1580.0,2534.9L1581.0,2534.9L1582.0,2534.9L1583.0,2534.9L1584.0,2534.9L1585.0,2535.0L1586.0,2535.0L1587.0,2535.0L1588.0,2535.0L1589.0,2535.0L1590.0,2535.0L1591.0,2535.1L1592.0,2535.1L1593.0,2535.1L1594.0,2535.1L1595.0,2535.1L1596.0,2535.1L1597.0,2535.2L1598.0,2535.2L1599.0,2535.2L1600.0,2535.2L1601.0,2535.2L1602.0,2535.2L1603.0,2535.2L1604.0,2535.2L1605.0,2535.3L1606.0,2535.3L1607.0,2535.3L1608.0,2535.3L1609.0,2535.3L1610.0,2535.3L1611.0,2535.3L1612.0,2535.3L1613.0,2535.3L1614.0,2535.4L1615.0,2535.4L1616.0,2535.4L1617.0,2535.4L1618.0,2535.4L1619.0,2535.4L1620.0,2535.4L1621.0,2535.4L1622.0,2535.4L1623.0,2535.4L1624.0,2535.4L1625.0,2535.5L1626.0,2535.5L1627.0,2535.5L1628.0,2535.5L1629.0,2535.5L1630.0,2535.5L1631.0,2535.5L1632.0,2535.5L1633.0,2535.5L1634.0,2535.5L1635.0,2535.5L1636.0,2535.5L1637.0,2535.5L1638.0,2535.5L1639.0,2535.5L1640.0,2535.5L1641.0,2535.6L1642.0,2535.6L1643.0,2535.6L1644.0,2535.6L1645.0,2535.6L1646.0,2535.6L1647.0,2535.6L1648.0,2535.6L1649.0,2535.6L1650.0,2535.6L1651.0,2535.6L1652.0,2535.6L1653.0,2535.6L1654.0,2535.6L1655.0,2535.6L1656.0,2535.6L1657.0,2535.6L1658.0,2535.6L1659.0,2535.6L1660.0,2535.6L1661.0,2535.6L1662.0,2535.6L1663.0,2535.6L1664.0,2535.6L1665.0,2535.6L1666.0,2535.6L1667.0,2535.6L1668.0,2535.6L1669.0,2535.6L1670.0,2535.6L1671.0,2535.6L1672.0,2535.6L1673.0,2535.6L1674.0,2535.6L1675.0,2535.6L1676.0,2535.6L1677.0,2535.6L1678.0,2535.6L1679.0,2535.6L1680.0,2535.6L1681.0,2535.6L1682.0,2535.6L1683.0,2535.6L1684.0,2535.6L1685.0,2535.6L1686.0,2535.6L1687.0,2535.6L1688.0,2535.6L1689.0,2535.5L1690.0,2535.5L1691.0,2535.5L1692.0,2535.5L1693.0,2535.5L1694.0,2535.5L1695.0,2535.5L1696.0,2535.5L1697.0,2535.5L1698.0,2535.5L1699.0,2535.5L1700.0,2535.5L1701.0,2535.5L1702.0,2535.5L1703.0,2535.5L1704.0,2535.5L1705.0,2535.5L1706.0,2535.5L1707.0,2535.5L1708.0,2535.4L1709.0,2535.4L1710.0,2535.4L1711.0,2535.4L1712.0,2535.4L1713.0,2535.4L1714.0,2535.4L1715.0,2535.4L1716.0,2535.4L1717.0,2535.4L1718.0,2535.4L1719.0,2535.4L1720.0,2535.4L1721.0,2535.3L1722.0,2535.3L1723.0,2535.3L1724.0,2535.3L1725.0,2535.3L1726.0,2535.3L1727.0,2535.3L1728.0,2535.3L1729.0,2535.3L1730.0,2535.3L1731.0,2535.3L1732.0,2535.2L1733.0,2535.2L1734.0,2535.2L1735.0,2535.2L1736.0,2535.2L1737.0,2535.2L1738.0,2535.2L1739.0,2535.2L1740.0,2535.2L1741.0,2535.2L1742.0,2535.1L1743.0,2535.1L1744.0,2535.1L1745.0,2535.1L1746.0,2535.1L1747.0,2535.1L1748.0,2535.1L1749.0,2535.1L1750.0,2535.1L1751.0,2535.0L1752.0,2535.0L1753.0,2535.0L1754.0,2535.0L1755.0,2535.0L1756.0,2535.0L1757.0,2535.0L1758.0,2535.0L1759.0,2535.0L1760.0,2534.9L1761.0,2534.9L1762.0,2534.9L1763.0,2534.9L1764.0,2534.9L1765.0,2534.9L1766.0,2534.9L1767.0,2534.9L1768.0,2534.8L1769.0,2534.8L1770.0,2534.8L1771.0,2534.8L1772.0,2534.8L1773.0,2534.8L1774.0,2534.8L1775.0,2534.8L1776.0,2534.7L1777.0,2534.7L1778.0,2534.7L1779.0,2534.7L1780.0,2534.7L1781.0,2534.7L1782.0,2534.7L1783.0,2534.6L1784.0,2534.6L1785.0,2534.6L1786.0,2534.6L1787.0,2534.6L1788.0,2534.6L1789.0,2534.6L1790.0,2534.5L1791.0,2534.5L1792.0,2534.5L1793.0,2534.5L1794.0,2534.5L1795.0,2534.5" stroke="#ff0000" stroke-width="6.5"/>
</g>
<circle cx="397.5" cy="159" r="79" fill="none" stroke="#000" stroke-width="6"/>
<ellipse cx="386.5" cy="1570.5" rx="78.3" ry="74.3" fill="none" stroke="#000" stroke-width="6"/>
<g font-family="Liberation Sans, Arial, sans-serif" fill="#000">
<text id="A" transform="translate(357.00,193.00) scale(1,0.9500)" font-size="107.03" font-weight="bold">A</text>
<text id="B" transform="translate(352.00,1605.00) scale(1,1.0016)" font-size="102.44" font-weight="bold">B</text>
<text id="yA10" transform="translate(119.00,240.00) scale(1,0.9827)" font-size="66.00">10</text>
<text id="yA0" transform="translate(160.00,631.50) scale(1,0.9925)" font-size="63.82">0</text>
<text id="yAm10" transform="translate(100.50,1019.00) scale(1,0.9500)" font-size="67.27">-10</text>
<text id="xA0" transform="translate(214.50,1293.50) scale(1,1.1149)" font-size="61.90">0</text>
<text id="xA1" transform="translate(495.00,1293.50) scale(1,1.0350)" font-size="66.70">0.1</text>
<text id="xA2" transform="translate(808.00,1294.00) scale(1,0.9952)" font-size="68.00">0.2</text>
<text id="xA3" transform="translate(1119.00,1294.00) scale(1,0.9952)" font-size="68.00">0.3</text>
<text id="xA4" transform="translate(1429.00,1294.00) scale(1,1.0168)" font-size="66.49">0.4</text>
<text id="xA5" transform="translate(1737.50,1294.00) scale(1,1.0055)" font-size="67.24">0.5</text>
<text id="yB20" transform="translate(126.00,1517.00) scale(1,0.9580)" font-size="68.12">20</text>
<text id="yB10" transform="translate(132.00,2038.00) scale(1,0.9576)" font-size="68.12">10</text>
<text id="yB0" transform="translate(164.00,2550.50) scale(1,0.9500)" font-size="63.82">0</text>
<text id="xB0" transform="translate(224.50,2633.00) scale(1,1.1200)" font-size="61.90">0</text>
<text id="xB1" transform="translate(505.00,2633.00) scale(1,1.0350)" font-size="66.64">0.1</text>
<text id="xB2" transform="translate(818.50,2633.50) scale(1,1.0053)" font-size="67.23">0.2</text>
<text id="xB3" transform="translate(1127.00,2633.50) scale(1,0.9944)" font-size="68.00">0.3</text>
<text id="xB4" transform="translate(1437.00,2634.00) scale(1,1.0644)" font-size="64.99">0.4</text>
<text id="xB5" transform="translate(1747.50,2630.00) scale(1,1.0283)" font-size="65.71">0.5</text>
<text id="cA3" transform="translate(1086.00,95.00) scale(1,1.0147)" font-size="80.15">3</text>
<text id="cA2" transform="translate(993.00,253.50) scale(1,1.0156)" font-size="84.34">2</text>
<text id="cA1" transform="translate(888.50,466.50) scale(1,1.0350)" font-size="82.60">1</text>
<text id="cB3" transform="translate(832.00,1506.50) scale(1,1.0016)" font-size="79.80">3</text>
<text id="cB2" transform="translate(833.00,1682.50) scale(1,1.0138)" font-size="84.34">2</text>
<text id="cB1" transform="translate(826.00,1910.50) scale(1,1.0350)" font-size="82.60">1</text>
<text id="lA1" transform="translate(1090.00,793.50) scale(1,0.9777)" font-size="67.75">(1) bare electrode</text>
<text id="lA2" transform="translate(1090.00,913.50) scale(1,0.9777)" font-size="67.75">(2) + CYS/rGO</text>
<text id="lA3" transform="translate(1090.00,1035.50) scale(1,0.9777)" font-size="67.75">(3) + MNP@Au</text>
<text id="lB1" transform="translate(1138.00,1771.00) scale(1,0.9815)" font-size="67.49">(1) bare electrode</text>
<text id="lB2" transform="translate(1138.00,1892.00) scale(1,0.9815)" font-size="67.49">(2) + CYS/rGO</text>
<text id="lB3" transform="translate(1138.00,2012.00) scale(1,0.9815)" font-size="67.49">(3) + MNP@Au</text>
<text id="tA" transform="translate(658.50,1399.50) scale(1,1.0350)" font-size="75.56">Potential,&#160; V vs. SCE</text>
<text id="tB" transform="translate(658.50,2759.50) scale(1,1.0350)" font-size="75.56">Potential,&#160; V vs. SCE</text>
<text id="yTA" transform="translate(81.50,824.00) rotate(-90) scale(1,1.0350)" font-size="75.81">Current,&#160; μA</text>
<text id="yTB" transform="translate(87.00,2166.50) rotate(-90) scale(1,1.0350)" font-size="75.73">Current,&#160; μA</text>
<text id="yTD" transform="translate(91.00,2231.00) rotate(-90) scale(1,1.0350)" font-size="70.82">Δ</text>
</g>
</svg>
</body></html>
